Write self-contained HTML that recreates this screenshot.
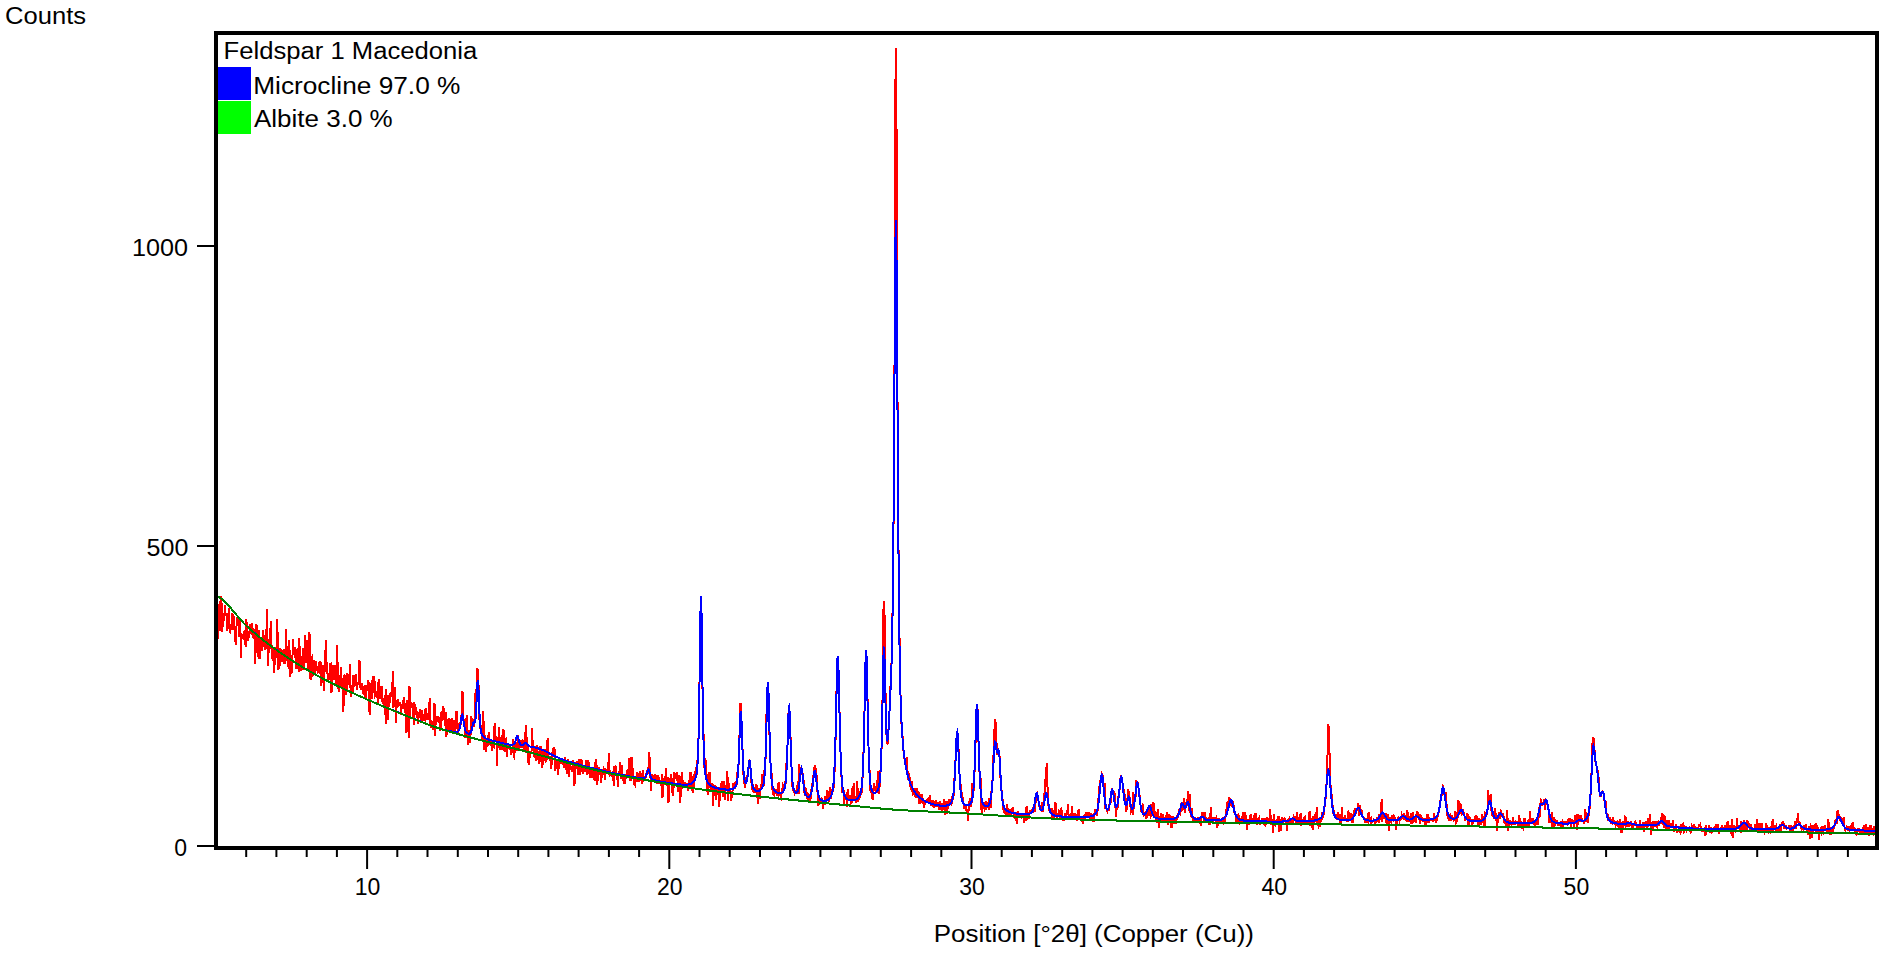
<!DOCTYPE html>
<html><head><meta charset="utf-8"><style>
html,body{margin:0;padding:0;background:#fff;width:1888px;height:960px;overflow:hidden}
svg{display:block}
text{font-family:"Liberation Sans",sans-serif;font-size:23px;fill:#000}
</style></head><body>
<svg width="1888" height="960" viewBox="0 0 1888 960">
<defs><clipPath id="cp"><rect x="218.0" y="35.0" width="1657.0" height="811.0"/></clipPath></defs>
<rect width="1888" height="960" fill="#fff"/>
<g clip-path="url(#cp)" fill="none" stroke-linejoin="miter" shape-rendering="crispEdges">
<polyline stroke="#ff0000" stroke-width="2" points="216.0,623.3 216.6,617.6 217.2,624.8 217.8,639.2 218.4,619.8 219.0,624.7 219.6,600.6 220.2,631.2 220.8,628.5 221.4,596.1 222.0,631.6 222.5,612.9 223.1,627.2 223.7,618.5 224.3,619.1 224.9,605.0 225.5,614.8 226.1,614.8 226.7,612.8 227.3,631.3 227.9,623.9 228.5,626.7 229.1,608.4 229.7,631.2 230.3,632.1 230.9,626.6 231.5,625.7 232.1,613.1 232.7,630.0 233.3,614.2 233.9,618.7 234.5,626.1 235.1,633.1 235.6,644.5 236.2,633.0 236.8,619.9 237.4,617.4 238.0,621.0 238.6,617.5 239.2,636.7 239.8,618.9 240.4,627.1 241.0,657.8 241.6,636.1 242.2,635.3 242.8,634.7 243.4,637.1 244.0,635.5 244.6,630.3 245.2,642.9 245.8,647.3 246.4,619.2 247.0,632.6 247.6,641.2 248.1,634.0 248.7,638.3 249.3,634.9 249.9,623.9 250.5,632.3 251.1,633.0 251.7,626.8 252.3,623.3 252.9,637.7 253.5,628.7 254.1,635.3 254.7,634.1 255.3,663.9 255.9,633.3 256.5,624.4 257.1,633.6 257.7,656.9 258.3,647.0 258.9,630.3 259.5,659.1 260.1,647.1 260.7,636.6 261.2,649.4 261.8,643.1 262.4,651.2 263.0,629.6 263.6,639.6 264.2,635.5 264.8,642.0 265.4,649.9 266.0,646.4 266.6,625.7 267.2,609.4 267.8,666.4 268.4,653.9 269.0,648.5 269.6,648.4 270.2,636.1 270.8,620.7 271.4,641.3 272.0,659.0 272.6,648.5 273.2,661.3 273.7,656.8 274.3,673.3 274.9,649.7 275.5,647.2 276.1,657.5 276.7,655.6 277.3,619.3 277.9,656.9 278.5,669.8 279.1,659.5 279.7,665.6 280.3,647.8 280.9,651.9 281.5,656.1 282.1,661.7 282.7,649.6 283.3,658.2 283.9,648.6 284.5,664.3 285.1,656.1 285.7,651.9 286.2,629.0 286.8,661.3 287.4,651.3 288.0,655.8 288.6,668.8 289.2,639.9 289.8,660.2 290.4,676.7 291.0,663.1 291.6,664.9 292.2,673.1 292.8,639.1 293.4,648.3 294.0,653.4 294.6,655.4 295.2,646.9 295.8,669.1 296.4,656.5 297.0,659.7 297.6,647.8 298.2,666.4 298.8,672.1 299.3,638.4 299.9,659.8 300.5,671.2 301.1,656.4 301.7,658.6 302.3,664.9 302.9,669.7 303.5,648.0 304.1,669.5 304.7,657.2 305.3,634.7 305.9,662.4 306.5,662.4 307.1,639.8 307.7,669.6 308.3,667.4 308.9,651.9 309.5,631.9 310.1,676.3 310.7,680.4 311.3,658.5 311.8,657.5 312.4,665.1 313.0,674.7 313.6,673.8 314.2,659.8 314.8,674.5 315.4,671.0 316.0,660.8 316.6,666.9 317.2,669.5 317.8,672.1 318.4,671.5 319.0,672.1 319.6,660.7 320.2,667.4 320.8,661.8 321.4,686.2 322.0,671.7 322.6,673.7 323.2,664.7 323.8,691.1 324.4,665.3 324.9,672.0 325.5,650.2 326.1,640.3 326.7,671.1 327.3,668.8 327.9,681.5 328.5,679.7 329.1,678.4 329.7,673.3 330.3,664.0 330.9,663.7 331.5,693.4 332.1,665.3 332.7,674.5 333.3,669.5 333.9,680.1 334.5,665.1 335.1,673.7 335.7,678.5 336.3,685.7 336.9,645.2 337.4,660.8 338.0,668.3 338.6,692.3 339.2,678.5 339.8,675.1 340.4,687.7 341.0,666.8 341.6,680.4 342.2,684.3 342.8,690.6 343.4,712.0 344.0,677.6 344.6,674.6 345.2,682.2 345.8,690.2 346.4,694.7 347.0,673.0 347.6,684.7 348.2,682.2 348.8,676.2 349.4,676.3 350.0,664.3 350.5,688.3 351.1,696.8 351.7,693.2 352.3,685.4 352.9,691.7 353.5,674.8 354.1,687.2 354.7,685.6 355.3,676.8 355.9,674.0 356.5,685.1 357.1,689.9 357.7,682.5 358.3,685.3 358.9,680.6 359.5,660.3 360.1,682.3 360.7,689.8 361.3,685.1 361.9,683.6 362.5,688.5 363.0,694.4 363.6,686.4 364.2,694.7 364.8,685.0 365.4,698.4 366.0,696.9 366.6,684.7 367.2,690.0 367.8,689.3 368.4,680.0 369.0,691.6 369.6,715.4 370.2,689.5 370.8,684.7 371.4,683.5 372.0,699.3 372.6,676.3 373.2,693.4 373.8,678.4 374.4,677.6 375.0,695.6 375.5,694.7 376.1,691.2 376.7,694.8 377.3,693.2 377.9,704.6 378.5,682.6 379.1,678.7 379.7,699.1 380.3,692.8 380.9,697.3 381.5,686.2 382.1,698.4 382.7,703.1 383.3,703.4 383.9,699.6 384.5,697.8 385.1,695.5 385.7,724.0 386.3,689.2 386.9,709.6 387.5,694.7 388.1,719.7 388.6,702.8 389.2,706.9 389.8,698.8 390.4,693.8 391.0,693.1 391.6,694.8 392.2,694.0 392.8,670.7 393.4,707.7 394.0,702.1 394.6,697.2 395.2,686.7 395.8,723.3 396.4,701.4 397.0,707.7 397.6,698.9 398.2,705.1 398.8,703.8 399.4,706.1 400.0,701.9 400.6,704.2 401.1,714.5 401.7,705.2 402.3,705.4 402.9,700.6 403.5,708.6 404.1,697.1 404.7,705.3 405.3,712.5 405.9,705.2 406.5,733.2 407.1,700.1 407.7,703.9 408.3,705.0 408.9,737.5 409.5,685.9 410.1,716.5 410.7,703.0 411.3,704.0 411.9,707.8 412.5,705.7 413.1,703.2 413.7,724.5 414.2,702.1 414.8,706.7 415.4,707.2 416.0,709.3 416.6,715.3 417.2,711.1 417.8,724.2 418.4,713.1 419.0,717.6 419.6,710.7 420.2,710.2 420.8,715.7 421.4,723.1 422.0,710.4 422.6,717.2 423.2,719.1 423.8,719.5 424.4,714.3 425.0,718.1 425.6,708.0 426.2,718.7 426.7,717.9 427.3,713.2 427.9,719.5 428.5,716.0 429.1,709.5 429.7,698.5 430.3,723.7 430.9,725.6 431.5,722.8 432.1,720.7 432.7,730.3 433.3,724.8 433.9,714.0 434.5,703.4 435.1,735.5 435.7,721.0 436.3,718.2 436.9,719.7 437.5,715.7 438.1,718.5 438.7,718.3 439.3,722.2 439.8,722.1 440.4,730.7 441.0,720.1 441.6,711.3 442.2,719.6 442.8,718.8 443.4,706.2 444.0,717.6 444.6,720.0 445.2,726.2 445.8,712.0 446.4,736.7 447.0,727.4 447.6,731.4 448.2,719.4 448.8,729.9 449.4,717.7 450.0,724.8 450.6,730.0 451.2,720.7 451.8,730.2 452.3,717.7 452.9,727.8 453.5,730.6 454.1,719.9 454.7,723.7 455.3,730.9 455.9,719.4 456.5,710.8 457.1,724.0 457.7,731.4 458.3,731.8 458.9,725.3 459.5,726.3 460.1,723.4 460.7,723.7 461.3,716.9 461.9,710.9 462.5,691.4 463.1,716.4 463.7,719.7 464.3,724.1 464.8,723.7 465.4,738.2 466.0,734.9 466.6,714.7 467.2,729.7 467.8,744.8 468.4,729.9 469.0,733.6 469.6,735.2 470.2,743.2 470.8,727.7 471.4,716.4 472.0,725.9 472.6,720.1 473.2,727.2 473.8,725.5 474.4,719.7 475.0,714.8 475.6,689.5 476.2,708.0 476.8,689.4 477.4,668.5 477.8,670.0 478.5,684.3 479.1,705.6 479.7,726.3 480.3,727.8 480.9,727.3 481.5,725.1 482.1,739.3 482.7,739.2 483.3,711.4 483.9,738.5 484.5,750.2 485.1,735.4 485.7,752.4 486.3,738.4 486.9,746.2 487.5,746.3 488.1,742.1 488.7,732.2 489.3,741.2 489.9,738.8 490.4,744.2 491.0,746.1 491.6,739.8 492.2,751.0 492.8,745.8 493.4,745.1 494.0,746.1 494.6,722.9 495.2,740.3 495.8,740.8 496.4,736.2 497.0,765.6 497.6,739.5 498.2,746.9 498.8,727.2 499.4,747.0 500.0,749.0 500.6,749.1 501.2,739.7 501.8,735.2 502.4,747.7 503.0,750.1 503.5,729.2 504.1,751.3 504.7,749.5 505.3,739.7 505.9,739.1 506.5,752.1 507.1,757.1 507.7,744.0 508.3,747.9 508.9,747.5 509.5,747.1 510.1,750.2 510.7,746.9 511.3,754.8 511.9,748.6 512.5,752.1 513.1,739.2 513.7,757.1 514.3,757.8 514.9,745.8 515.5,745.5 516.0,745.6 516.6,745.9 517.2,750.4 517.8,735.1 518.4,750.8 519.0,746.9 519.6,746.3 520.2,744.3 520.8,747.6 521.4,740.3 522.0,748.4 522.6,740.2 523.2,740.9 523.8,746.7 524.4,750.1 525.0,731.6 525.6,753.4 526.2,724.8 526.8,748.3 527.4,749.3 528.0,748.8 528.6,765.4 529.1,761.1 529.7,755.9 530.3,753.7 530.9,753.0 531.5,751.3 532.1,728.5 532.7,745.4 533.3,743.6 533.9,756.7 534.5,753.5 535.1,750.7 535.7,761.0 536.3,747.4 536.9,745.2 537.5,750.4 538.1,760.3 538.7,753.7 539.3,764.2 539.9,758.1 540.5,746.4 541.1,752.5 541.6,753.2 542.2,767.8 542.8,761.4 543.4,750.9 544.0,760.8 544.6,749.3 545.2,756.0 545.8,761.7 546.4,761.4 547.0,751.9 547.6,737.8 548.2,757.6 548.8,758.3 549.4,755.7 550.0,760.4 550.6,760.5 551.2,769.0 551.8,761.8 552.4,752.2 553.0,753.6 553.6,746.8 554.1,755.8 554.7,748.9 555.3,770.6 555.9,765.9 556.5,761.0 557.1,765.7 557.7,765.2 558.3,774.9 558.9,758.9 559.5,760.2 560.1,760.6 560.7,763.8 561.3,761.6 561.9,763.5 562.5,764.0 563.1,759.9 563.7,767.6 564.3,764.0 564.9,757.0 565.5,763.4 566.1,760.8 566.7,774.0 567.2,759.7 567.8,763.1 568.4,758.7 569.0,776.9 569.6,767.2 570.2,764.2 570.8,767.8 571.4,769.1 572.0,771.7 572.6,765.7 573.2,760.5 573.8,777.2 574.4,786.4 575.0,771.7 575.6,762.9 576.2,762.3 576.8,763.1 577.4,768.0 578.0,774.6 578.6,758.6 579.2,769.8 579.7,773.4 580.3,775.1 580.9,767.2 581.5,759.4 582.1,767.9 582.7,774.2 583.3,772.0 583.9,765.3 584.5,768.4 585.1,771.4 585.7,762.7 586.3,760.2 586.9,772.8 587.5,774.7 588.1,760.1 588.7,763.3 589.3,763.9 589.9,772.0 590.5,778.3 591.1,767.1 591.7,769.1 592.3,769.6 592.8,770.3 593.4,777.6 594.0,772.0 594.6,781.0 595.2,764.2 595.8,764.8 596.4,759.5 597.0,785.4 597.6,767.5 598.2,780.8 598.8,766.6 599.4,774.4 600.0,772.4 600.6,772.7 601.2,783.2 601.8,773.2 602.4,774.7 603.0,774.2 603.6,768.0 604.2,769.1 604.8,779.5 605.3,773.1 605.9,770.2 606.5,770.9 607.1,772.2 607.7,773.0 608.3,767.1 608.9,753.1 609.5,769.6 610.1,774.2 610.7,772.8 611.3,773.1 611.9,775.1 612.5,774.1 613.1,770.7 613.7,785.8 614.3,766.8 614.9,766.5 615.5,775.6 616.1,766.5 616.7,779.7 617.3,776.8 617.9,786.8 618.4,774.9 619.0,772.0 619.6,772.1 620.2,762.4 620.8,775.9 621.4,778.6 622.0,764.9 622.6,780.6 623.2,776.5 623.8,777.7 624.4,784.1 625.0,780.7 625.6,775.8 626.2,776.8 626.8,771.2 627.4,770.1 628.0,769.9 628.6,778.2 629.2,758.5 629.8,781.0 630.4,768.0 630.9,780.7 631.5,756.6 632.1,770.6 632.7,770.0 633.3,774.6 633.9,778.3 634.5,784.2 635.1,785.1 635.7,777.2 636.3,781.8 636.9,777.5 637.5,772.4 638.1,780.0 638.7,779.6 639.3,782.1 639.9,771.1 640.5,772.5 641.1,780.1 641.7,781.2 642.3,784.1 642.9,770.5 643.4,781.6 644.0,776.0 644.6,778.1 645.2,781.3 645.8,774.9 646.4,773.6 647.0,772.8 647.6,769.8 648.2,771.3 648.8,769.5 649.4,751.8 650.0,777.8 650.6,774.3 651.2,790.7 651.8,773.9 652.4,776.0 653.0,782.2 653.6,776.6 654.2,775.5 654.8,774.0 655.4,781.5 656.0,775.4 656.5,781.9 657.1,781.7 657.7,784.1 658.3,775.4 658.9,780.9 659.5,779.8 660.1,782.9 660.7,784.3 661.3,782.9 661.9,773.8 662.5,797.5 663.1,785.2 663.7,779.5 664.3,778.4 664.9,782.5 665.5,784.5 666.1,768.3 666.7,785.6 667.3,778.3 667.9,777.1 668.5,802.7 669.0,786.0 669.6,779.3 670.2,782.9 670.8,774.1 671.4,778.5 672.0,779.4 672.6,795.6 673.2,783.1 673.8,784.2 674.4,772.0 675.0,778.0 675.6,777.9 676.2,775.3 676.8,774.0 677.4,777.9 678.0,791.9 678.6,774.8 679.2,785.6 679.8,785.0 680.4,802.5 681.0,775.9 681.6,788.8 682.1,772.5 682.7,783.1 683.3,785.2 683.9,788.0 684.5,782.5 685.1,784.8 685.7,788.2 686.3,785.5 686.9,784.4 687.5,786.5 688.1,790.6 688.7,784.5 689.3,779.7 689.9,788.8 690.5,772.1 691.1,782.5 691.7,776.4 692.3,789.5 692.9,792.9 693.5,787.6 694.1,781.8 694.6,772.6 695.2,774.1 695.8,767.3 696.4,774.7 697.0,774.1 697.6,757.8 698.2,748.3 698.8,729.3 699.4,690.6 700.0,648.0 700.6,604.7 701.2,599.0 701.8,631.9 702.4,682.4 703.0,717.6 703.6,736.4 704.2,761.1 704.8,773.3 705.4,757.9 706.0,767.9 706.6,774.9 707.2,787.1 707.7,795.1 708.3,773.7 708.9,783.6 709.5,772.2 710.1,785.8 710.7,789.3 711.3,788.2 711.9,790.5 712.5,783.4 713.1,806.0 713.7,788.5 714.3,795.8 714.9,787.8 715.5,785.3 716.1,799.9 716.7,792.4 717.3,792.0 717.9,789.5 718.5,787.0 719.1,807.4 719.7,798.3 720.2,787.2 720.8,791.8 721.4,783.4 722.0,781.6 722.6,787.8 723.2,796.6 723.8,787.4 724.4,781.3 725.0,799.7 725.6,787.1 726.2,790.3 726.8,787.3 727.4,770.9 728.0,800.7 728.6,792.0 729.2,783.3 729.8,793.6 730.4,791.1 731.0,800.8 731.6,792.9 732.2,798.1 732.7,786.5 733.3,783.6 733.9,787.2 734.5,789.0 735.1,782.9 735.7,782.1 736.3,782.7 736.9,783.2 737.5,771.7 738.1,773.6 738.7,760.6 739.3,744.3 739.9,719.5 740.5,703.2 741.1,711.8 741.7,724.7 742.3,743.9 742.9,758.9 743.5,775.1 744.1,773.0 744.7,788.4 745.3,779.7 745.8,780.1 746.4,777.3 747.0,779.0 747.6,776.1 748.2,770.5 748.8,764.7 749.4,762.4 750.0,764.3 750.6,769.9 751.2,776.1 751.8,789.6 752.4,783.1 753.0,787.8 753.6,793.0 754.2,787.3 754.8,789.7 755.4,792.9 756.0,784.0 756.6,785.8 757.2,793.8 757.8,801.5 758.3,803.4 758.9,791.9 759.5,788.0 760.1,798.5 760.7,786.8 761.3,787.0 761.9,778.3 762.5,774.4 763.1,780.2 763.7,785.5 764.3,771.2 764.9,769.8 765.5,759.8 766.1,732.4 766.7,705.8 767.3,692.9 767.9,682.6 768.5,692.3 769.1,718.4 769.7,741.9 770.3,758.9 770.9,770.0 771.4,772.1 772.0,778.5 772.6,792.0 773.2,794.2 773.8,794.9 774.4,789.4 775.0,789.5 775.6,791.1 776.2,792.6 776.8,789.6 777.4,794.7 778.0,794.0 778.6,781.7 779.2,794.9 779.8,794.2 780.4,796.0 781.0,797.4 781.6,793.0 782.2,792.6 782.8,784.6 783.4,785.5 783.9,787.1 784.5,787.9 785.1,780.7 785.7,783.6 786.3,764.4 786.9,760.7 787.5,745.6 788.1,731.7 788.7,705.4 789.3,707.8 789.9,719.7 790.5,736.2 791.1,754.1 791.7,772.5 792.3,787.3 792.9,785.5 793.5,791.1 794.1,791.9 794.7,793.8 795.3,793.0 795.9,790.7 796.5,793.9 797.0,791.2 797.6,783.8 798.2,785.1 798.8,794.1 799.4,763.6 800.0,780.2 800.6,772.8 801.2,774.4 801.8,768.9 802.4,770.9 803.0,779.9 803.6,780.5 804.2,789.7 804.8,795.7 805.4,786.7 806.0,793.5 806.6,791.8 807.2,798.0 807.8,799.9 808.4,793.5 809.0,796.9 809.5,803.2 810.1,795.4 810.7,798.5 811.3,793.2 811.9,783.3 812.5,787.6 813.1,778.0 813.7,774.1 814.3,768.2 814.9,765.3 815.5,767.6 816.1,777.5 816.7,777.0 817.3,792.1 817.9,790.1 818.5,805.7 819.1,799.8 819.7,801.2 820.3,800.3 820.9,801.0 821.5,798.4 822.1,799.1 822.6,800.8 823.2,808.5 823.8,801.1 824.4,800.7 825.0,798.1 825.6,800.1 826.2,804.4 826.8,794.4 827.4,790.3 828.0,793.4 828.6,801.4 829.2,800.1 829.8,786.9 830.4,796.2 831.0,798.5 831.6,788.8 832.2,795.2 832.8,786.7 833.4,791.5 834.0,775.8 834.6,771.3 835.1,749.7 835.7,736.4 836.3,699.4 836.9,675.3 837.5,658.2 838.1,659.3 838.7,678.6 839.3,703.4 839.9,727.9 840.5,751.6 841.1,771.9 841.7,779.1 842.3,792.6 842.9,789.9 843.5,790.3 844.1,804.1 844.7,798.7 845.3,793.8 845.9,797.6 846.5,796.8 847.1,807.3 847.6,788.7 848.2,800.7 848.8,794.8 849.4,798.4 850.0,798.0 850.6,795.3 851.2,803.0 851.8,802.4 852.4,787.8 853.0,798.7 853.6,783.4 854.2,791.3 854.8,799.8 855.4,800.0 856.0,803.0 856.6,800.6 857.2,781.5 857.8,793.3 858.4,802.3 859.0,792.6 859.6,797.6 860.2,792.2 860.7,790.1 861.3,794.6 861.9,789.1 862.5,778.7 863.1,761.7 863.7,748.2 864.3,721.9 864.9,692.6 865.5,663.1 866.1,650.9 866.7,664.3 867.3,684.8 867.9,724.5 868.5,746.3 869.1,765.3 869.7,771.4 870.3,790.1 870.9,793.3 871.5,789.7 872.1,795.1 872.7,800.3 873.2,793.1 873.8,783.5 874.4,788.1 875.0,791.3 875.6,788.8 876.2,786.5 876.8,792.9 877.4,782.1 878.0,770.6 878.6,792.4 879.2,794.0 879.8,780.3 880.4,771.9 881.0,763.0 881.6,746.1 882.2,721.7 882.8,681.0 883.4,611.9 883.9,600.7 884.6,617.4 885.2,675.1 885.8,710.1 886.3,731.1 886.9,743.4 887.5,743.8 888.1,736.1 888.7,725.5 889.3,715.0 889.9,702.7 890.5,686.0 891.1,673.3 891.7,658.7 892.3,625.3 892.9,588.6 893.5,527.6 894.1,442.1 894.7,332.7 895.3,101.7 895.8,48.1 896.5,123.2 897.1,328.7 897.7,434.2 898.3,519.8 898.8,592.6 899.4,628.7 900.0,676.8 900.6,698.0 901.2,717.3 901.8,730.4 902.4,734.3 903.0,744.3 903.6,751.5 904.2,755.2 904.8,761.7 905.4,760.6 906.0,763.6 906.6,757.5 907.2,769.5 907.8,780.4 908.4,771.4 909.0,778.0 909.6,777.9 910.2,783.7 910.8,789.9 911.4,785.0 911.9,781.0 912.5,791.6 913.1,794.4 913.7,794.0 914.3,792.7 914.9,788.1 915.5,796.7 916.1,796.2 916.7,797.9 917.3,788.4 917.9,795.0 918.5,792.3 919.1,801.9 919.7,804.3 920.3,794.9 920.9,799.6 921.5,793.9 922.1,803.1 922.7,798.3 923.3,802.4 923.9,807.8 924.4,804.7 925.0,803.0 925.6,802.7 926.2,801.7 926.8,799.8 927.4,799.6 928.0,801.3 928.6,802.2 929.2,799.0 929.8,794.7 930.4,803.7 931.0,806.2 931.6,803.4 932.2,800.9 932.8,801.0 933.4,806.4 934.0,806.8 934.6,805.6 935.2,803.6 935.8,799.7 936.4,807.3 936.9,802.5 937.5,804.6 938.1,802.0 938.7,809.9 939.3,804.8 939.9,801.5 940.5,803.8 941.1,807.4 941.7,811.1 942.3,802.8 942.9,810.0 943.5,808.4 944.1,799.3 944.7,805.1 945.3,814.9 945.9,808.4 946.5,801.5 947.1,813.9 947.7,806.1 948.3,801.4 948.9,804.7 949.5,798.9 950.0,804.2 950.6,804.0 951.2,804.4 951.8,802.5 952.4,796.9 953.0,797.8 953.6,795.4 954.2,783.9 954.8,773.0 955.4,763.1 956.0,747.8 956.6,738.3 957.2,732.3 957.8,738.9 958.4,745.7 959.0,764.5 959.6,775.6 960.2,776.6 960.8,790.6 961.4,790.4 962.0,798.9 962.5,801.2 963.1,800.0 963.7,805.9 964.3,809.3 964.9,805.7 965.5,807.9 966.1,805.9 966.7,811.2 967.3,808.7 967.9,821.1 968.5,810.7 969.1,808.6 969.7,798.1 970.3,801.2 970.9,807.0 971.5,803.5 972.1,782.9 972.7,793.1 973.3,795.2 973.9,784.1 974.5,772.5 975.1,754.3 975.6,740.3 976.2,716.0 976.8,709.6 977.4,705.3 978.0,723.5 978.6,745.5 979.2,764.3 979.8,779.7 980.4,773.9 981.0,796.0 981.6,812.9 982.2,801.3 982.8,805.6 983.4,808.2 984.0,802.6 984.6,809.6 985.2,808.7 985.8,809.0 986.4,800.9 987.0,805.1 987.6,807.2 988.1,803.2 988.7,809.8 989.3,798.1 989.9,803.1 990.5,807.8 991.1,803.2 991.7,785.1 992.3,783.4 992.9,772.8 993.5,755.4 994.1,739.4 994.7,724.1 995.0,718.7 995.9,724.4 996.5,743.1 997.1,755.2 997.7,750.7 998.3,752.8 998.9,752.1 999.5,755.4 1000.1,773.2 1000.7,779.5 1001.2,784.3 1001.8,795.8 1002.4,798.9 1003.0,801.4 1003.6,811.7 1004.2,811.0 1004.8,812.9 1005.4,813.1 1006.0,814.7 1006.6,809.4 1007.2,804.3 1007.8,816.5 1008.4,808.2 1009.0,813.0 1009.6,813.3 1010.2,814.9 1010.8,814.4 1011.4,810.0 1012.0,809.7 1012.6,807.4 1013.2,810.8 1013.7,813.7 1014.3,817.6 1014.9,817.9 1015.5,815.3 1016.1,816.4 1016.7,823.5 1017.3,812.8 1017.9,810.9 1018.5,818.0 1019.1,814.4 1019.7,817.5 1020.3,813.3 1020.9,817.2 1021.5,817.9 1022.1,816.9 1022.7,816.9 1023.3,815.5 1023.9,823.0 1024.5,816.2 1025.1,815.1 1025.7,820.9 1026.2,808.5 1026.8,806.1 1027.4,820.1 1028.0,816.4 1028.6,818.9 1029.2,814.4 1029.8,810.3 1030.4,813.4 1031.0,813.4 1031.6,810.2 1032.2,809.9 1032.8,813.0 1033.4,807.3 1034.0,803.7 1034.6,811.7 1035.2,798.2 1035.8,802.5 1036.4,795.0 1037.0,793.9 1037.6,798.9 1038.2,799.0 1038.8,803.7 1039.3,806.5 1039.9,807.6 1040.5,805.5 1041.1,809.9 1041.7,811.6 1042.3,801.9 1042.9,812.2 1043.5,805.0 1044.1,793.0 1044.7,800.8 1045.3,786.5 1045.9,766.8 1046.3,774.0 1047.1,763.3 1047.7,797.9 1048.3,802.9 1048.9,810.6 1049.5,808.6 1050.1,809.9 1050.7,811.8 1051.3,813.0 1051.8,807.8 1052.4,817.5 1053.0,814.7 1053.6,809.9 1054.2,817.9 1054.8,809.7 1055.4,802.1 1056.0,805.1 1056.6,817.0 1057.2,817.7 1057.8,814.4 1058.4,815.1 1059.0,811.2 1059.6,812.1 1060.2,820.0 1060.8,809.8 1061.4,808.9 1062.0,816.6 1062.6,820.8 1063.2,816.1 1063.8,818.7 1064.4,818.1 1064.9,820.4 1065.5,813.2 1066.1,817.8 1066.7,810.6 1067.3,814.5 1067.9,804.5 1068.5,814.6 1069.1,816.8 1069.7,818.7 1070.3,818.5 1070.9,815.7 1071.5,813.1 1072.1,806.5 1072.7,816.7 1073.3,819.5 1073.9,816.5 1074.5,817.8 1075.1,814.2 1075.7,814.4 1076.3,817.5 1076.9,815.2 1077.4,820.7 1078.0,816.5 1078.6,809.1 1079.2,817.9 1079.8,818.8 1080.4,818.3 1081.0,819.5 1081.6,816.6 1082.2,820.4 1082.8,823.9 1083.4,816.3 1084.0,815.7 1084.6,815.5 1085.2,820.4 1085.8,811.9 1086.4,817.4 1087.0,811.7 1087.6,817.5 1088.2,816.0 1088.8,816.6 1089.4,812.3 1090.0,818.5 1090.5,817.9 1091.1,817.9 1091.7,821.3 1092.3,815.5 1092.9,816.5 1093.5,821.4 1094.1,819.9 1094.7,809.5 1095.3,812.2 1095.9,810.6 1096.5,813.2 1097.1,816.1 1097.7,808.8 1098.3,804.8 1098.9,785.9 1099.5,791.2 1100.1,790.0 1100.7,775.6 1101.3,779.3 1101.9,774.1 1102.5,775.2 1103.0,783.0 1103.6,786.7 1104.2,792.1 1104.8,783.2 1105.4,808.6 1106.0,804.4 1106.6,810.3 1107.2,811.3 1107.8,809.3 1108.4,808.1 1109.0,811.1 1109.6,802.5 1110.2,803.6 1110.8,802.3 1111.4,795.4 1112.0,788.4 1112.6,790.9 1113.2,793.7 1113.8,796.5 1114.4,791.1 1115.0,802.2 1115.5,808.0 1116.1,816.9 1116.7,804.0 1117.3,810.2 1117.9,803.4 1118.5,796.6 1119.1,789.6 1119.7,789.4 1120.3,780.3 1120.9,775.0 1121.5,777.6 1122.1,780.7 1122.7,784.0 1123.3,785.1 1123.9,797.3 1124.5,794.1 1125.1,794.6 1125.7,802.1 1126.3,812.1 1126.9,805.6 1127.5,797.9 1128.1,788.9 1128.6,795.6 1129.2,791.5 1129.8,802.0 1130.4,805.1 1131.0,812.2 1131.6,811.3 1132.2,807.9 1132.8,815.4 1133.4,792.1 1134.0,808.8 1134.6,794.5 1135.2,798.9 1135.8,795.4 1136.4,780.3 1137.0,784.0 1137.6,782.9 1138.2,785.9 1138.8,790.6 1139.4,792.9 1140.0,802.9 1140.6,805.7 1141.1,810.3 1141.7,812.4 1142.3,806.0 1142.9,803.7 1143.5,814.1 1144.1,816.3 1144.7,812.6 1145.3,812.4 1145.9,819.1 1146.5,817.6 1147.1,812.3 1147.7,808.4 1148.3,808.8 1148.9,809.8 1149.5,815.6 1150.1,806.9 1150.7,803.9 1151.3,815.3 1151.9,814.1 1152.5,811.0 1153.1,802.2 1153.7,818.4 1154.2,803.5 1154.8,817.2 1155.4,814.5 1156.0,812.0 1156.6,822.8 1157.2,817.8 1157.8,808.9 1158.4,819.2 1159.0,827.5 1159.6,820.9 1160.2,818.4 1160.8,813.6 1161.4,817.1 1162.0,819.3 1162.6,823.4 1163.2,814.4 1163.8,819.3 1164.4,823.0 1165.0,818.0 1165.6,821.3 1166.2,818.0 1166.7,813.4 1167.3,813.1 1167.9,824.5 1168.5,816.7 1169.1,814.2 1169.7,822.9 1170.3,815.4 1170.9,817.8 1171.5,827.8 1172.1,818.0 1172.7,816.3 1173.3,823.8 1173.9,819.1 1174.5,824.3 1175.1,817.4 1175.7,824.1 1176.3,819.7 1176.9,818.7 1177.5,815.1 1178.1,817.4 1178.7,811.9 1179.3,808.7 1179.8,813.3 1180.4,814.2 1181.0,803.7 1181.6,803.4 1182.2,810.8 1182.8,804.6 1183.4,803.9 1184.0,798.0 1184.6,812.7 1185.2,807.5 1185.8,806.7 1186.4,802.3 1187.0,799.6 1187.6,805.5 1188.2,791.2 1188.8,810.5 1189.4,802.5 1190.0,793.8 1190.6,816.6 1191.2,810.9 1191.8,808.1 1192.3,817.2 1192.9,817.8 1193.5,822.2 1194.1,818.8 1194.7,818.6 1195.3,822.5 1195.9,820.2 1196.5,819.9 1197.1,820.8 1197.7,816.7 1198.3,819.7 1198.9,819.3 1199.5,821.8 1200.1,820.8 1200.7,825.5 1201.3,816.8 1201.9,814.4 1202.5,812.4 1203.1,815.2 1203.7,818.2 1204.3,821.9 1204.8,812.3 1205.4,816.6 1206.0,821.1 1206.6,821.5 1207.2,819.4 1207.8,820.9 1208.4,819.6 1209.0,821.6 1209.6,825.3 1210.2,819.9 1210.8,807.5 1211.4,818.2 1212.0,820.2 1212.6,819.2 1213.2,823.0 1213.8,817.0 1214.4,819.6 1215.0,817.3 1215.6,820.6 1216.2,818.9 1216.8,822.2 1217.4,828.1 1217.9,821.2 1218.5,818.4 1219.1,820.5 1219.7,819.8 1220.3,819.8 1220.9,821.8 1221.5,822.3 1222.1,822.6 1222.7,820.4 1223.3,822.3 1223.9,820.1 1224.5,818.4 1225.1,819.3 1225.7,814.9 1226.3,808.9 1226.9,812.0 1227.5,801.6 1228.1,809.2 1228.7,797.5 1229.3,803.3 1229.9,799.4 1230.4,799.1 1231.0,800.0 1231.6,806.5 1232.2,800.3 1232.8,802.8 1233.4,807.0 1234.0,804.9 1234.6,814.1 1235.2,811.2 1235.8,815.7 1236.4,822.7 1237.0,816.5 1237.6,815.5 1238.2,814.7 1238.8,816.0 1239.4,823.1 1240.0,822.1 1240.6,817.8 1241.2,820.1 1241.8,816.5 1242.4,823.7 1243.0,813.2 1243.5,813.0 1244.1,821.1 1244.7,816.0 1245.3,811.8 1245.9,820.3 1246.5,822.8 1247.1,829.5 1247.7,823.5 1248.3,819.1 1248.9,824.8 1249.5,819.3 1250.1,815.5 1250.7,815.4 1251.3,822.3 1251.9,822.4 1252.5,823.0 1253.1,819.1 1253.7,818.5 1254.3,815.4 1254.9,820.7 1255.5,813.1 1256.0,819.9 1256.6,825.1 1257.2,822.3 1257.8,821.0 1258.4,818.8 1259.0,817.9 1259.6,825.2 1260.2,822.4 1260.8,821.7 1261.4,822.2 1262.0,820.9 1262.6,817.8 1263.2,823.2 1263.8,821.4 1264.4,824.1 1265.0,822.9 1265.6,817.7 1266.2,824.0 1266.8,823.0 1267.4,817.3 1268.0,824.2 1268.6,821.5 1269.1,819.7 1269.7,820.9 1270.3,809.2 1270.9,824.9 1271.5,818.6 1272.1,823.5 1272.7,820.9 1273.3,833.1 1273.9,814.4 1274.5,824.0 1275.1,824.7 1275.7,821.6 1276.3,822.1 1276.9,820.4 1277.5,819.4 1278.1,817.7 1278.7,816.2 1279.3,832.2 1279.9,822.0 1280.5,823.1 1281.1,831.1 1281.6,816.9 1282.2,821.3 1282.8,823.7 1283.4,820.7 1284.0,819.6 1284.6,818.6 1285.2,820.8 1285.8,822.8 1286.4,822.1 1287.0,830.5 1287.6,818.7 1288.2,823.7 1288.8,819.0 1289.4,818.2 1290.0,819.6 1290.6,823.0 1291.2,822.6 1291.8,819.8 1292.4,823.8 1293.0,819.4 1293.6,817.0 1294.1,818.4 1294.7,817.8 1295.3,816.4 1295.9,823.9 1296.5,819.9 1297.1,812.4 1297.7,819.4 1298.3,823.5 1298.9,823.0 1299.5,818.8 1300.1,817.8 1300.7,812.7 1301.3,825.7 1301.9,819.0 1302.5,820.4 1303.1,821.3 1303.7,825.2 1304.3,817.9 1304.9,817.3 1305.5,822.6 1306.1,820.6 1306.7,823.5 1307.2,821.6 1307.8,822.6 1308.4,821.7 1309.0,817.8 1309.6,810.8 1310.2,825.8 1310.8,822.6 1311.4,819.0 1312.0,818.7 1312.6,829.9 1313.2,815.7 1313.8,820.6 1314.4,823.2 1315.0,819.1 1315.6,813.5 1316.2,816.6 1316.8,807.4 1317.4,823.8 1318.0,825.1 1318.6,819.0 1319.2,822.8 1319.7,826.5 1320.3,816.9 1320.9,821.1 1321.5,820.2 1322.1,813.9 1322.7,812.0 1323.3,817.4 1323.9,811.5 1324.5,806.9 1325.1,803.2 1325.7,796.8 1326.3,787.9 1326.9,777.3 1327.5,756.2 1328.1,726.7 1328.4,723.6 1329.3,739.1 1329.9,778.4 1330.5,784.4 1331.1,793.8 1331.7,794.2 1332.3,801.4 1332.8,811.2 1333.4,813.3 1334.0,812.4 1334.6,815.4 1335.2,817.4 1335.8,814.6 1336.4,818.2 1337.0,815.6 1337.6,820.2 1338.2,811.9 1338.8,819.4 1339.4,817.1 1340.0,819.4 1340.6,823.9 1341.2,820.5 1341.8,807.4 1342.4,820.2 1343.0,819.8 1343.6,817.3 1344.2,820.3 1344.8,814.9 1345.3,820.5 1345.9,818.8 1346.5,820.2 1347.1,819.2 1347.7,821.6 1348.3,810.6 1348.9,815.3 1349.5,819.8 1350.1,820.1 1350.7,815.4 1351.3,813.0 1351.9,820.6 1352.5,822.8 1353.1,818.0 1353.7,812.4 1354.3,813.5 1354.9,812.5 1355.5,808.6 1356.1,811.8 1356.7,810.2 1357.3,810.1 1357.9,803.3 1358.4,807.5 1359.0,815.9 1359.6,812.8 1360.2,805.4 1360.8,812.7 1361.4,813.0 1362.0,812.4 1362.6,816.5 1363.2,816.9 1363.8,818.0 1364.4,818.2 1365.0,820.5 1365.6,818.5 1366.2,822.6 1366.8,820.0 1367.4,822.2 1368.0,822.6 1368.6,811.6 1369.2,817.8 1369.8,818.7 1370.4,820.1 1370.9,818.9 1371.5,823.4 1372.1,819.8 1372.7,821.5 1373.3,821.0 1373.9,819.5 1374.5,820.0 1375.1,824.2 1375.7,819.2 1376.3,823.1 1376.9,816.8 1377.5,818.6 1378.1,818.2 1378.7,823.2 1379.3,813.7 1379.9,820.2 1380.5,813.9 1381.1,810.7 1381.7,798.8 1382.3,821.7 1382.9,815.4 1383.4,815.6 1384.0,815.7 1384.6,814.4 1385.2,813.0 1385.8,823.4 1386.4,813.1 1387.0,823.9 1387.6,816.2 1388.2,814.1 1388.8,831.1 1389.4,821.8 1390.0,817.4 1390.6,821.8 1391.2,822.3 1391.8,818.6 1392.4,815.4 1393.0,818.9 1393.6,820.0 1394.2,816.4 1394.8,817.7 1395.4,819.2 1396.0,829.5 1396.5,823.9 1397.1,821.7 1397.7,818.7 1398.3,817.6 1398.9,818.8 1399.5,821.3 1400.1,819.8 1400.7,819.4 1401.3,819.4 1401.9,814.8 1402.5,816.2 1403.1,817.3 1403.7,819.4 1404.3,813.3 1404.9,817.7 1405.5,820.2 1406.1,817.0 1406.7,822.3 1407.3,810.4 1407.9,814.6 1408.5,818.8 1409.0,821.0 1409.6,821.0 1410.2,820.0 1410.8,813.0 1411.4,824.4 1412.0,820.4 1412.6,822.5 1413.2,812.2 1413.8,819.5 1414.4,817.6 1415.0,816.7 1415.6,822.4 1416.2,818.8 1416.8,815.6 1417.4,811.2 1418.0,818.0 1418.6,813.9 1419.2,816.1 1419.8,823.7 1420.4,813.6 1421.0,820.3 1421.6,819.5 1422.1,816.7 1422.7,820.8 1423.3,820.6 1423.9,821.0 1424.5,818.1 1425.1,824.7 1425.7,824.2 1426.3,819.3 1426.9,822.7 1427.5,813.6 1428.1,820.0 1428.7,817.2 1429.3,823.0 1429.9,818.8 1430.5,819.3 1431.1,820.1 1431.7,819.5 1432.3,819.1 1432.9,819.5 1433.5,821.5 1434.1,812.9 1434.6,818.3 1435.2,818.9 1435.8,822.5 1436.4,817.1 1437.0,820.5 1437.6,816.3 1438.2,813.5 1438.8,812.7 1439.4,807.6 1440.0,805.6 1440.6,799.5 1441.2,799.3 1441.8,793.7 1442.4,789.7 1443.0,786.8 1443.6,788.4 1444.2,793.4 1444.8,796.4 1445.4,799.1 1446.0,792.5 1446.6,806.0 1447.2,814.0 1447.7,813.6 1448.3,817.4 1448.9,820.8 1449.5,815.9 1450.1,815.1 1450.7,820.4 1451.3,817.3 1451.9,816.1 1452.5,816.8 1453.1,819.2 1453.7,820.6 1454.3,819.9 1454.9,817.3 1455.5,811.5 1456.1,822.1 1456.7,820.9 1457.3,814.8 1457.9,815.7 1458.5,800.5 1459.1,814.3 1459.7,813.6 1460.2,805.4 1460.8,803.7 1461.4,812.1 1462.0,814.4 1462.6,813.7 1463.2,811.7 1463.8,813.5 1464.4,815.1 1465.0,821.3 1465.6,817.0 1466.2,818.6 1466.8,813.4 1467.4,818.0 1468.0,814.5 1468.6,826.9 1469.2,817.1 1469.8,817.4 1470.4,819.4 1471.0,819.5 1471.6,820.4 1472.2,825.0 1472.8,822.8 1473.3,819.5 1473.9,821.7 1474.5,821.2 1475.1,818.1 1475.7,818.9 1476.3,814.7 1476.9,819.0 1477.5,820.1 1478.1,827.3 1478.7,823.2 1479.3,818.6 1479.9,823.4 1480.5,819.5 1481.1,824.6 1481.7,816.4 1482.3,813.9 1482.9,820.2 1483.5,819.3 1484.1,825.3 1484.7,828.1 1485.3,813.5 1485.8,814.0 1486.4,816.2 1487.0,811.5 1487.6,809.5 1488.2,790.5 1488.8,799.7 1489.4,796.0 1489.8,797.2 1490.6,794.5 1491.2,806.1 1491.8,816.0 1492.4,813.0 1493.0,810.9 1493.6,817.9 1494.2,817.7 1494.8,807.8 1495.4,811.9 1496.0,817.5 1496.6,821.1 1497.2,830.5 1497.8,816.1 1498.3,820.7 1498.9,812.3 1499.5,814.6 1500.1,819.2 1500.7,810.7 1501.3,811.4 1501.9,817.3 1502.5,812.9 1503.1,817.8 1503.7,815.7 1504.3,822.8 1504.9,819.9 1505.5,823.8 1506.1,826.7 1506.7,822.5 1507.3,810.0 1507.9,830.5 1508.5,823.9 1509.1,825.8 1509.7,824.5 1510.3,820.4 1510.9,822.7 1511.4,823.8 1512.0,822.7 1512.6,824.5 1513.2,817.3 1513.8,825.0 1514.4,821.5 1515.0,824.9 1515.6,821.5 1516.2,821.6 1516.8,821.5 1517.4,822.1 1518.0,824.3 1518.6,827.3 1519.2,814.8 1519.8,820.3 1520.4,826.4 1521.0,821.6 1521.6,827.4 1522.2,826.8 1522.8,825.3 1523.4,828.5 1523.9,827.1 1524.5,818.1 1525.1,825.3 1525.7,822.7 1526.3,827.3 1526.9,822.0 1527.5,826.3 1528.1,819.9 1528.7,825.5 1529.3,823.1 1529.9,811.1 1530.5,820.4 1531.1,819.9 1531.7,823.2 1532.3,819.2 1532.9,819.2 1533.5,822.6 1534.1,821.1 1534.7,821.5 1535.3,827.5 1535.9,820.3 1536.5,824.5 1537.0,820.6 1537.6,824.8 1538.2,822.1 1538.8,813.8 1539.4,807.0 1540.0,817.0 1540.6,800.7 1541.2,798.7 1541.8,804.6 1542.4,804.7 1543.0,803.4 1543.6,801.5 1544.2,799.3 1544.8,810.3 1545.4,805.8 1546.0,801.9 1546.6,803.3 1547.2,804.0 1547.8,805.0 1548.4,808.4 1549.0,819.5 1549.5,822.8 1550.1,814.6 1550.7,815.3 1551.3,816.3 1551.9,811.9 1552.5,826.9 1553.1,821.0 1553.7,817.0 1554.3,826.8 1554.9,823.9 1555.5,819.6 1556.1,823.8 1556.7,821.2 1557.3,821.5 1557.9,825.7 1558.5,822.2 1559.1,825.3 1559.7,825.2 1560.3,822.4 1560.9,826.9 1561.5,821.4 1562.1,823.2 1562.6,828.8 1563.2,822.6 1563.8,823.9 1564.4,822.2 1565.0,821.7 1565.6,822.0 1566.2,825.3 1566.8,821.8 1567.4,824.4 1568.0,823.5 1568.6,818.5 1569.2,820.8 1569.8,822.0 1570.4,820.8 1571.0,828.1 1571.6,818.8 1572.2,822.3 1572.8,820.0 1573.4,822.9 1574.0,827.0 1574.6,823.7 1575.1,815.5 1575.7,821.1 1576.3,819.5 1576.9,829.9 1577.5,813.6 1578.1,825.4 1578.7,820.5 1579.3,821.0 1579.9,818.3 1580.5,815.4 1581.1,821.5 1581.7,818.0 1582.3,820.6 1582.9,820.9 1583.5,820.9 1584.1,823.9 1584.7,821.5 1585.3,808.8 1585.9,818.1 1586.5,820.1 1587.1,822.1 1587.6,817.6 1588.2,823.1 1588.8,810.2 1589.4,810.6 1590.0,802.3 1590.6,793.5 1591.2,782.0 1591.8,765.6 1592.4,744.3 1593.2,738.4 1593.6,738.5 1594.2,744.5 1594.8,754.5 1595.4,761.5 1596.0,762.8 1596.6,766.6 1597.2,769.2 1597.8,771.6 1598.4,775.5 1599.0,786.0 1599.6,792.8 1600.2,795.8 1600.7,795.8 1601.3,794.2 1601.9,792.5 1602.5,791.7 1603.1,792.4 1603.7,795.1 1604.3,799.6 1604.9,803.5 1605.5,801.1 1606.1,811.5 1606.7,814.5 1607.3,814.5 1607.9,815.2 1608.5,820.4 1609.1,818.3 1609.7,822.0 1610.3,816.9 1610.9,824.1 1611.5,820.6 1612.1,821.7 1612.7,817.3 1613.2,821.7 1613.8,821.0 1614.4,823.4 1615.0,820.7 1615.6,825.5 1616.2,824.5 1616.8,824.9 1617.4,821.5 1618.0,821.7 1618.6,824.5 1619.2,828.3 1619.8,818.6 1620.4,829.3 1621.0,831.1 1621.6,833.1 1622.2,821.6 1622.8,824.9 1623.4,826.0 1624.0,823.2 1624.6,824.1 1625.2,817.0 1625.8,817.6 1626.3,824.8 1626.9,823.7 1627.5,820.9 1628.1,827.3 1628.7,823.1 1629.3,824.1 1629.9,825.5 1630.5,824.7 1631.1,820.9 1631.7,828.1 1632.3,823.5 1632.9,828.1 1633.5,824.9 1634.1,824.4 1634.7,823.0 1635.3,825.6 1635.9,823.1 1636.5,824.7 1637.1,826.6 1637.7,826.5 1638.3,827.8 1638.8,826.4 1639.4,829.9 1640.0,819.7 1640.6,827.2 1641.2,824.7 1641.8,827.6 1642.4,824.5 1643.0,822.0 1643.6,831.6 1644.2,822.6 1644.8,826.2 1645.4,824.5 1646.0,822.8 1646.6,820.7 1647.2,828.1 1647.8,824.9 1648.4,818.3 1649.0,824.7 1649.6,824.4 1650.2,814.3 1650.8,835.2 1651.4,822.4 1651.9,830.3 1652.5,828.9 1653.1,821.0 1653.7,822.8 1654.3,824.7 1654.9,823.1 1655.5,825.7 1656.1,826.1 1656.7,826.7 1657.3,821.0 1657.9,826.0 1658.5,821.6 1659.1,822.0 1659.7,823.5 1660.3,822.0 1660.9,823.9 1661.5,817.4 1662.1,812.7 1662.7,820.0 1663.3,822.4 1663.9,828.4 1664.4,815.9 1665.0,816.5 1665.6,826.8 1666.2,825.9 1666.8,820.2 1667.4,829.6 1668.0,828.5 1668.6,821.7 1669.2,821.2 1669.8,827.7 1670.4,827.4 1671.0,825.5 1671.6,823.0 1672.2,826.6 1672.8,820.3 1673.4,824.3 1674.0,831.7 1674.6,827.7 1675.2,827.4 1675.8,824.4 1676.4,828.0 1676.9,832.1 1677.5,832.1 1678.1,830.7 1678.7,830.9 1679.3,826.4 1679.9,831.9 1680.5,833.0 1681.1,826.3 1681.7,827.1 1682.3,824.8 1682.9,825.8 1683.5,824.6 1684.1,831.4 1684.7,830.4 1685.3,829.3 1685.9,826.3 1686.5,829.8 1687.1,828.2 1687.7,829.1 1688.3,828.4 1688.9,829.7 1689.5,828.4 1690.0,830.7 1690.6,832.1 1691.2,828.4 1691.8,826.0 1692.4,827.2 1693.0,827.1 1693.6,829.7 1694.2,824.1 1694.8,828.0 1695.4,828.7 1696.0,827.8 1696.6,828.5 1697.2,831.3 1697.8,827.8 1698.4,827.1 1699.0,825.7 1699.6,825.9 1700.2,824.9 1700.8,827.4 1701.4,827.6 1702.0,831.4 1702.5,828.9 1703.1,831.7 1703.7,828.8 1704.3,828.2 1704.9,828.0 1705.5,835.7 1706.1,824.8 1706.7,829.4 1707.3,829.5 1707.9,830.4 1708.5,829.4 1709.1,825.5 1709.7,830.4 1710.3,832.6 1710.9,827.2 1711.5,832.9 1712.1,832.3 1712.7,829.4 1713.3,829.9 1713.9,828.6 1714.5,830.7 1715.1,827.6 1715.6,825.9 1716.2,824.2 1716.8,829.5 1717.4,827.8 1718.0,824.0 1718.6,832.4 1719.2,832.8 1719.8,829.6 1720.4,828.9 1721.0,832.1 1721.6,827.7 1722.2,825.0 1722.8,828.0 1723.4,827.8 1724.0,829.0 1724.6,829.2 1725.2,824.9 1725.8,829.5 1726.4,831.8 1727.0,826.1 1727.6,820.9 1728.1,831.2 1728.7,828.9 1729.3,828.5 1729.9,826.1 1730.5,826.5 1731.1,827.9 1731.7,836.0 1732.3,818.6 1732.9,838.4 1733.5,830.5 1734.1,824.8 1734.7,830.2 1735.3,826.4 1735.9,829.9 1736.5,828.6 1737.1,817.7 1737.7,828.2 1738.3,828.1 1738.9,827.1 1739.5,826.6 1740.1,827.7 1740.7,833.1 1741.2,821.3 1741.8,827.7 1742.4,822.6 1743.0,825.3 1743.6,831.4 1744.2,820.4 1744.8,823.9 1745.4,827.0 1746.0,827.6 1746.6,830.3 1747.2,819.9 1747.8,823.0 1748.4,826.6 1749.0,823.6 1749.6,826.7 1750.2,830.1 1750.8,824.4 1751.4,831.0 1752.0,830.3 1752.6,829.2 1753.2,831.2 1753.7,830.6 1754.3,830.4 1754.9,823.7 1755.5,828.6 1756.1,830.9 1756.7,827.0 1757.3,818.9 1757.9,830.5 1758.5,827.8 1759.1,823.5 1759.7,827.8 1760.3,830.1 1760.9,828.3 1761.5,823.0 1762.1,831.4 1762.7,829.6 1763.3,829.7 1763.9,830.9 1764.5,832.2 1765.1,830.8 1765.7,832.7 1766.2,822.9 1766.8,826.8 1767.4,830.8 1768.0,831.7 1768.6,827.5 1769.2,829.8 1769.8,831.4 1770.4,832.1 1771.0,828.9 1771.6,829.9 1772.2,824.5 1772.8,818.8 1773.4,829.9 1774.0,829.6 1774.6,825.3 1775.2,827.0 1775.8,826.1 1776.4,831.6 1777.0,829.0 1777.6,828.9 1778.2,829.3 1778.8,826.3 1779.3,829.8 1779.9,824.0 1780.5,831.1 1781.1,825.1 1781.7,824.1 1782.3,822.8 1782.9,822.0 1783.5,823.5 1784.1,828.0 1784.7,827.8 1785.3,827.4 1785.9,824.9 1786.5,828.9 1787.1,828.4 1787.7,828.5 1788.3,827.3 1788.9,826.4 1789.5,828.8 1790.1,826.6 1790.7,831.2 1791.3,825.5 1791.8,831.3 1792.4,826.3 1793.0,829.8 1793.6,828.1 1794.2,827.0 1794.8,823.1 1795.4,821.1 1796.0,828.6 1796.6,822.0 1797.2,823.3 1797.8,813.1 1798.4,821.3 1799.0,823.1 1799.6,826.3 1800.2,822.4 1800.8,827.3 1801.4,829.0 1802.0,826.4 1802.6,830.3 1803.2,827.9 1803.8,825.6 1804.4,828.9 1804.9,826.9 1805.5,825.0 1806.1,825.0 1806.7,830.7 1807.3,830.9 1807.9,832.6 1808.5,830.7 1809.1,826.4 1809.7,838.7 1810.3,831.1 1810.9,826.0 1811.5,827.0 1812.1,838.1 1812.7,829.1 1813.3,825.5 1813.9,830.3 1814.5,830.3 1815.1,827.9 1815.7,822.7 1816.3,832.4 1816.9,825.9 1817.4,832.8 1818.0,828.5 1818.6,830.0 1819.2,839.7 1819.8,829.1 1820.4,832.4 1821.0,830.5 1821.6,826.6 1822.2,832.4 1822.8,831.2 1823.4,832.3 1824.0,825.7 1824.6,827.8 1825.2,826.9 1825.8,828.6 1826.4,828.6 1827.0,830.3 1827.6,832.0 1828.2,819.4 1828.8,823.8 1829.4,830.1 1830.0,826.9 1830.5,834.8 1831.1,831.6 1831.7,831.6 1832.3,827.1 1832.9,833.5 1833.5,829.0 1834.1,826.8 1834.7,824.7 1835.3,821.1 1835.9,819.2 1836.5,824.3 1837.1,813.2 1837.7,810.5 1838.3,810.5 1838.9,818.8 1839.5,816.2 1840.1,820.8 1840.7,816.8 1841.3,821.0 1841.9,822.4 1842.5,821.0 1843.0,825.9 1843.6,817.5 1844.2,824.2 1844.8,829.9 1845.4,830.5 1846.0,828.1 1846.6,826.9 1847.2,828.8 1847.8,827.6 1848.4,830.5 1849.0,825.8 1849.6,830.5 1850.2,830.4 1850.8,827.9 1851.4,829.2 1852.0,828.3 1852.6,822.2 1853.2,827.3 1853.8,829.8 1854.4,826.9 1855.0,831.4 1855.5,833.3 1856.1,833.6 1856.7,835.3 1857.3,830.5 1857.9,829.5 1858.5,832.2 1859.1,828.5 1859.7,831.1 1860.3,832.1 1860.9,831.6 1861.5,832.0 1862.1,830.6 1862.7,835.1 1863.3,828.5 1863.9,824.8 1864.5,831.5 1865.1,832.2 1865.7,832.0 1866.3,824.2 1866.9,833.6 1867.5,827.6 1868.1,829.2 1868.6,836.2 1869.2,830.6 1869.8,824.9 1870.4,829.4 1871.0,825.5 1871.6,834.9 1872.2,828.0 1872.8,832.0 1873.4,833.4 1874.0,828.7 1874.6,825.9 1875.2,831.3 1875.8,826.6 1876.4,830.8 1877.0,830.6 1877.6,828.8"/>
<polyline stroke="#0000ff" stroke-width="2" points="216.0,595.7 216.5,596.0 217.0,596.2 217.5,596.4 218.0,596.7 218.5,596.9 219.0,597.2 219.5,597.5 220.0,597.9 220.5,598.2 221.0,598.6 221.5,598.9 222.0,599.3 222.5,599.7 223.0,600.2 223.5,600.6 224.0,601.0 224.5,601.5 225.0,602.0 225.5,602.4 226.0,602.9 226.5,603.4 227.0,604.0 227.5,604.5 228.0,605.0 228.5,605.6 229.0,606.1 229.5,606.7 230.0,607.2 230.5,607.8 231.0,608.4 231.5,609.0 232.0,609.5 232.5,610.1 233.0,610.7 233.5,611.3 234.0,611.9 234.5,612.5 235.0,613.1 235.5,613.7 236.0,614.3 236.5,614.9 237.0,615.5 237.5,616.1 238.0,616.7 238.5,617.3 239.0,617.9 239.5,618.5 240.0,619.1 240.5,619.6 241.0,620.2 241.5,620.8 242.0,621.3 242.5,621.9 243.0,622.4 243.5,623.0 244.0,623.5 244.5,624.0 245.0,624.5 245.5,625.0 246.0,625.5 246.5,626.0 247.0,626.4 247.5,626.9 248.0,627.3 248.5,627.8 249.0,628.2 249.5,628.6 250.0,629.1 250.5,629.5 251.0,629.9 251.5,630.4 252.0,630.8 252.5,631.2 253.0,631.7 253.5,632.1 254.0,632.5 254.5,632.9 255.0,633.4 255.5,633.8 256.0,634.2 256.5,634.6 257.0,635.0 257.5,635.4 258.0,635.8 258.5,636.2 259.0,636.7 259.5,637.1 260.0,637.5 260.5,637.9 261.0,638.3 261.5,638.7 262.0,639.1 262.5,639.5 263.0,639.9 263.5,640.2 264.0,640.6 264.5,641.0 265.0,641.4 265.5,641.8 266.0,642.2 266.5,642.6 267.0,643.0 267.5,643.3 268.0,643.7 268.5,644.1 269.0,644.5 269.5,644.8 270.0,645.2 270.5,645.6 271.0,646.0 271.5,646.3 272.0,646.7 272.5,647.1 273.0,647.4 273.5,647.8 274.0,648.2 274.5,648.5 275.0,648.9 275.5,649.3 276.0,649.6 276.5,650.0 277.0,650.3 277.5,650.7 278.0,651.0 278.5,651.4 279.0,651.7 279.5,652.1 280.0,652.4 280.5,652.8 281.0,653.1 281.5,653.5 282.0,653.8 282.5,654.2 283.0,654.5 283.5,654.9 284.0,655.2 284.5,655.5 285.0,655.9 285.5,656.2 286.0,656.6 286.5,656.9 287.0,657.2 287.5,657.6 288.0,657.9 288.5,658.2 289.0,658.5 289.5,658.9 290.0,659.2 290.5,659.5 291.0,659.9 291.5,660.2 292.0,660.5 292.5,660.8 293.0,661.1 293.5,661.5 294.0,661.8 294.5,662.1 295.0,662.4 295.5,662.7 296.0,663.0 296.5,663.4 297.0,663.7 297.5,664.0 298.0,664.3 298.5,664.6 299.0,664.9 299.5,665.2 300.0,665.5 300.5,665.8 301.0,666.1 301.5,666.4 302.0,666.7 302.5,667.1 303.0,667.4 303.5,667.7 304.0,668.0 304.5,668.2 305.0,668.5 305.5,668.8 306.0,669.1 306.5,669.4 307.0,669.7 307.5,670.0 308.0,670.3 308.5,670.6 309.0,670.9 309.5,671.2 310.0,671.5 310.5,671.8 311.0,672.0 311.5,672.3 312.0,672.6 312.5,672.9 313.0,673.2 313.5,673.5 314.0,673.7 314.5,674.0 315.0,674.3 315.5,674.6 316.0,674.8 316.5,675.1 317.0,675.4 317.5,675.7 318.0,675.9 318.5,676.2 319.0,676.5 319.5,676.8 320.0,677.0 320.5,677.3 321.0,677.6 321.5,677.8 322.0,678.1 322.5,678.4 323.0,678.6 323.5,678.9 324.0,679.2 324.5,679.4 325.0,679.7 325.5,679.9 326.0,680.2 326.5,680.5 327.0,680.7 327.5,681.0 328.0,681.2 328.5,681.5 329.0,681.7 329.5,682.0 330.0,682.2 330.5,682.5 331.0,682.7 331.5,683.0 332.0,683.2 332.5,683.5 333.0,683.7 333.5,684.0 334.0,684.2 334.5,684.5 335.0,684.7 335.5,685.0 336.0,685.2 336.5,685.4 337.0,685.7 337.5,685.9 338.0,686.2 338.5,686.4 339.0,686.6 339.5,686.9 340.0,687.1 340.5,687.4 341.0,687.6 341.5,687.8 342.0,688.1 342.5,688.3 343.0,688.5 343.5,688.8 344.0,689.0 344.5,689.2 345.0,689.5 345.5,689.7 346.0,689.9 346.5,690.1 347.0,690.4 347.5,690.6 348.0,690.8 348.5,691.1 349.0,691.3 349.5,691.5 350.0,691.8 350.5,692.0 351.0,692.2 351.5,692.4 352.0,692.7 352.5,692.9 353.0,693.1 353.5,693.3 354.0,693.6 354.5,693.8 355.0,694.0 355.5,694.2 356.0,694.5 356.5,694.7 357.0,694.9 357.5,695.1 358.0,695.4 358.5,695.6 359.0,695.8 359.5,696.0 360.0,696.3 360.5,696.5 361.0,696.7 361.5,696.9 362.0,697.2 362.5,697.4 363.0,697.6 363.5,697.8 364.0,698.0 364.5,698.3 365.0,698.5 365.5,698.7 366.0,698.9 366.5,699.1 367.0,699.4 367.5,699.6 368.0,699.8 368.5,700.0 369.0,700.2 369.5,700.5 370.0,700.7 370.5,700.9 371.0,701.1 371.5,701.3 372.0,701.5 372.5,701.8 373.0,702.0 373.5,702.2 374.0,702.4 374.5,702.6 375.0,702.8 375.5,703.0 376.0,703.2 376.5,703.5 377.0,703.7 377.5,703.9 378.0,704.1 378.5,704.3 379.0,704.5 379.5,704.7 380.0,704.9 380.5,705.1 381.0,705.4 381.5,705.6 382.0,705.8 382.5,706.0 383.0,706.2 383.5,706.4 384.0,706.6 384.5,706.8 385.0,707.0 385.5,707.2 386.0,707.4 386.5,707.6 387.0,707.9 387.5,708.1 388.0,708.3 388.5,708.5 389.0,708.7 389.5,708.9 390.0,709.1 390.5,709.3 391.0,709.5 391.5,709.7 392.0,709.9 392.5,710.1 393.0,710.3 393.5,710.5 394.0,710.7 394.5,710.9 395.0,711.1 395.5,711.3 396.0,711.5 396.5,711.7 397.0,711.9 397.5,712.1 398.0,712.3 398.5,712.6 399.0,712.8 399.5,713.0 400.0,713.2 400.5,713.4 401.0,713.6 401.5,713.8 402.0,714.0 402.5,714.2 403.0,714.4 403.5,714.6 404.0,714.8 404.5,715.0 405.0,715.2 405.5,715.4 406.0,715.6 406.5,715.8 407.0,716.0 407.5,716.2 408.0,716.4 408.5,716.7 409.0,716.9 409.5,717.1 410.0,717.3 410.5,717.5 411.0,717.7 411.5,717.9 412.0,718.1 412.5,718.3 413.0,718.5 413.5,718.7 414.0,718.9 414.5,719.1 415.0,719.3 415.5,719.5 416.0,719.7 416.5,719.9 417.0,720.1 417.5,720.3 418.0,720.5 418.5,720.7 419.0,720.9 419.5,721.1 420.0,721.3 420.5,721.5 421.0,721.7 421.5,721.9 422.0,722.1 422.5,722.3 423.0,722.5 423.5,722.7 424.0,722.9 424.5,723.1 425.0,723.3 425.5,723.5 426.0,723.6 426.5,723.8 427.0,724.0 427.5,724.2 428.0,724.4 428.5,724.6 429.0,724.8 429.5,724.9 430.0,725.1 430.5,725.3 431.0,725.5 431.5,725.7 432.0,725.8 432.5,726.0 433.0,726.2 433.5,726.4 434.0,726.5 434.5,726.7 435.0,726.9 435.5,727.1 436.0,727.2 436.5,727.4 437.0,727.6 437.5,727.7 438.0,727.9 438.5,728.0 439.0,728.2 439.5,728.4 440.0,728.5 440.5,728.7 441.0,728.8 441.5,729.0 442.0,729.1 442.5,729.3 443.0,729.4 443.5,729.6 444.0,729.7 444.5,729.8 445.0,730.0 445.5,730.1 446.0,730.2 446.5,730.4 447.0,730.5 447.5,730.6 448.0,730.7 448.5,730.9 449.0,731.0 449.5,731.1 450.0,731.2 450.5,731.3 451.0,731.4 451.5,731.5 452.0,731.6 452.5,731.7 453.0,731.8 453.5,731.8 454.0,731.9 454.5,732.0 455.0,732.0 455.5,732.0 456.0,732.0 456.5,732.0 457.0,731.9 457.5,731.8 458.0,731.5 458.5,731.0 459.0,730.2 459.5,728.9 460.0,727.0 460.5,724.3 461.0,720.9 461.5,717.4 462.0,714.8 462.3,714.4 462.5,714.7 463.0,717.0 463.5,720.6 464.0,724.2 464.5,727.2 465.0,729.5 465.5,731.1 466.0,732.1 466.5,732.7 467.0,733.2 467.5,733.4 468.0,733.6 468.5,733.7 469.0,733.7 469.5,733.6 470.0,733.4 470.5,732.9 471.0,732.1 471.5,730.7 472.0,728.7 472.5,726.2 473.0,723.6 473.5,722.0 474.0,722.0 474.5,722.6 475.0,722.0 475.5,719.0 476.0,712.6 476.5,702.8 477.0,691.1 477.5,681.8 477.8,680.0 478.0,681.0 478.5,689.7 479.0,702.1 479.5,713.5 480.0,722.0 480.5,727.7 481.0,731.2 481.5,733.3 482.0,734.6 482.5,735.5 483.0,736.2 483.5,736.8 484.0,737.2 484.5,737.6 485.0,737.9 485.5,738.2 486.0,738.4 486.5,738.7 487.0,738.9 487.5,739.1 488.0,739.3 488.5,739.5 489.0,739.6 489.5,739.8 490.0,739.9 490.5,740.1 491.0,740.2 491.5,740.4 492.0,740.5 492.5,740.6 493.0,740.8 493.5,740.9 494.0,741.0 494.5,741.2 495.0,741.3 495.5,741.4 496.0,741.6 496.5,741.7 497.0,741.8 497.5,741.9 498.0,742.1 498.5,742.2 499.0,742.3 499.5,742.4 500.0,742.5 500.5,742.7 501.0,742.8 501.5,742.9 502.0,743.0 502.5,743.1 503.0,743.3 503.5,743.4 504.0,743.5 504.5,743.6 505.0,743.7 505.5,743.8 506.0,743.9 506.5,744.0 507.0,744.1 507.5,744.2 508.0,744.3 508.5,744.4 509.0,744.5 509.5,744.5 510.0,744.6 510.5,744.6 511.0,744.7 511.5,744.7 512.0,744.7 512.5,744.7 513.0,744.6 513.5,744.4 514.0,744.0 514.5,743.3 515.0,742.4 515.5,741.0 516.0,739.3 516.5,737.5 517.0,736.2 517.3,736.0 517.5,736.1 518.0,737.3 518.5,739.1 519.0,741.0 519.5,742.5 520.0,743.7 520.5,744.4 521.0,744.9 521.5,745.2 522.0,745.3 522.5,745.2 523.0,745.1 523.5,744.8 524.0,744.3 524.5,743.8 525.0,743.3 525.5,742.9 525.9,742.8 526.0,742.8 526.5,743.1 527.0,743.7 527.5,744.4 528.0,745.0 528.5,745.5 529.0,745.9 529.5,746.2 530.0,746.4 530.5,746.6 531.0,746.7 531.5,746.8 532.0,746.9 532.5,747.0 533.0,747.1 533.5,747.2 534.0,747.3 534.5,747.4 535.0,747.5 535.5,747.6 536.0,747.8 536.5,747.9 537.0,748.0 537.5,748.2 538.0,748.3 538.5,748.5 539.0,748.6 539.5,748.8 540.0,749.0 540.5,749.2 541.0,749.4 541.5,749.6 542.0,749.8 542.5,750.0 543.0,750.2 543.5,750.4 544.0,750.6 544.5,750.9 545.0,751.1 545.5,751.4 546.0,751.6 546.5,751.9 547.0,752.1 547.5,752.4 548.0,752.6 548.5,752.9 549.0,753.1 549.5,753.4 550.0,753.7 550.5,753.9 551.0,754.2 551.5,754.5 552.0,754.7 552.5,755.0 553.0,755.2 553.5,755.5 554.0,755.7 554.5,756.0 555.0,756.2 555.5,756.5 556.0,756.7 556.5,756.9 557.0,757.2 557.5,757.4 558.0,757.6 558.5,757.9 559.0,758.1 559.5,758.3 560.0,758.5 560.5,758.7 561.0,758.9 561.5,759.1 562.0,759.3 562.5,759.5 563.0,759.7 563.5,759.9 564.0,760.1 564.5,760.2 565.0,760.4 565.5,760.6 566.0,760.8 566.5,760.9 567.0,761.1 567.5,761.3 568.0,761.4 568.5,761.6 569.0,761.8 569.5,761.9 570.0,762.1 570.5,762.2 571.0,762.4 571.5,762.5 572.0,762.7 572.5,762.8 573.0,763.0 573.5,763.1 574.0,763.3 574.5,763.4 575.0,763.6 575.5,763.7 576.0,763.8 576.5,764.0 577.0,764.1 577.5,764.3 578.0,764.4 578.5,764.5 579.0,764.7 579.5,764.8 580.0,765.0 580.5,765.1 581.0,765.2 581.5,765.4 582.0,765.5 582.5,765.6 583.0,765.8 583.5,765.9 584.0,766.0 584.5,766.2 585.0,766.3 585.5,766.4 586.0,766.6 586.5,766.7 587.0,766.8 587.5,767.0 588.0,767.1 588.5,767.2 589.0,767.4 589.5,767.5 590.0,767.6 590.5,767.7 591.0,767.9 591.5,768.0 592.0,768.1 592.5,768.3 593.0,768.4 593.5,768.5 594.0,768.6 594.5,768.8 595.0,768.9 595.5,769.0 596.0,769.1 596.5,769.3 597.0,769.4 597.5,769.5 598.0,769.6 598.5,769.8 599.0,769.9 599.5,770.0 600.0,770.1 600.5,770.3 601.0,770.4 601.5,770.5 602.0,770.6 602.5,770.7 603.0,770.9 603.5,771.0 604.0,771.1 604.5,771.2 605.0,771.3 605.5,771.4 606.0,771.6 606.5,771.7 607.0,771.8 607.5,771.9 608.0,772.0 608.5,772.1 609.0,772.2 609.5,772.3 610.0,772.5 610.5,772.6 611.0,772.7 611.5,772.8 612.0,772.9 612.5,773.0 613.0,773.1 613.5,773.2 614.0,773.3 614.5,773.4 615.0,773.5 615.5,773.6 616.0,773.7 616.5,773.9 617.0,774.0 617.5,774.1 618.0,774.2 618.5,774.3 619.0,774.4 619.5,774.5 620.0,774.6 620.5,774.7 621.0,774.8 621.5,774.9 622.0,775.0 622.5,775.1 623.0,775.1 623.5,775.2 624.0,775.3 624.5,775.4 625.0,775.5 625.5,775.6 626.0,775.7 626.5,775.8 627.0,775.9 627.5,776.0 628.0,776.1 628.5,776.2 629.0,776.3 629.5,776.4 630.0,776.5 630.5,776.5 631.0,776.6 631.5,776.7 632.0,776.8 632.5,776.9 633.0,777.0 633.5,777.1 634.0,777.1 634.5,777.2 635.0,777.3 635.5,777.4 636.0,777.5 636.5,777.5 637.0,777.6 637.5,777.7 638.0,777.8 638.5,777.8 639.0,777.9 639.5,778.0 640.0,778.0 640.5,778.1 641.0,778.1 641.5,778.2 642.0,778.2 642.5,778.2 643.0,778.2 643.5,778.2 644.0,778.1 644.5,777.9 645.0,777.6 645.5,777.0 646.0,776.0 646.5,774.7 647.0,773.1 647.5,771.2 648.0,769.8 648.4,769.4 648.5,769.4 649.0,770.5 649.5,772.3 650.0,774.3 650.5,776.0 651.0,777.3 651.5,778.3 652.0,778.9 652.5,779.4 653.0,779.7 653.5,779.9 654.0,780.1 654.5,780.3 655.0,780.4 655.5,780.5 656.0,780.7 656.5,780.8 657.0,780.9 657.5,781.0 658.0,781.1 658.5,781.2 659.0,781.3 659.5,781.4 660.0,781.5 660.5,781.6 661.0,781.7 661.5,781.7 662.0,781.8 662.5,781.9 663.0,782.0 663.5,782.1 664.0,782.2 664.5,782.3 665.0,782.3 665.5,782.4 666.0,782.5 666.5,782.6 667.0,782.7 667.5,782.7 668.0,782.8 668.5,782.9 669.0,783.0 669.5,783.1 670.0,783.1 670.5,783.2 671.0,783.3 671.5,783.4 672.0,783.4 672.5,783.5 673.0,783.6 673.5,783.6 674.0,783.7 674.5,783.8 675.0,783.8 675.5,783.9 676.0,784.0 676.5,784.0 677.0,784.1 677.5,784.2 678.0,784.2 678.5,784.3 679.0,784.3 679.5,784.4 680.0,784.4 680.5,784.4 681.0,784.5 681.5,784.5 682.0,784.6 682.5,784.6 683.0,784.6 683.5,784.6 684.0,784.6 684.5,784.7 685.0,784.7 685.5,784.7 686.0,784.6 686.5,784.6 687.0,784.6 687.5,784.5 688.0,784.5 688.5,784.4 689.0,784.3 689.5,784.2 690.0,784.1 690.5,783.9 691.0,783.7 691.5,783.4 692.0,783.1 692.5,782.8 693.0,782.4 693.5,781.8 694.0,781.2 694.5,780.4 695.0,779.4 695.5,778.1 696.0,776.4 696.5,774.0 697.0,770.4 697.5,764.6 698.0,755.2 698.5,739.9 699.0,716.6 699.5,684.6 700.0,646.4 700.5,611.2 701.0,596.0 701.5,611.3 702.0,646.6 702.5,684.9 703.0,717.1 703.5,740.4 704.0,755.8 704.5,765.4 705.0,771.3 705.5,775.0 706.0,777.5 706.5,779.3 707.0,780.7 707.5,781.8 708.0,782.7 708.5,783.5 709.0,784.1 709.5,784.7 710.0,785.1 710.5,785.5 711.0,785.9 711.5,786.2 712.0,786.5 712.5,786.7 713.0,787.0 713.5,787.2 714.0,787.4 714.5,787.5 715.0,787.7 715.5,787.8 716.0,788.0 716.5,788.1 717.0,788.2 717.5,788.3 718.0,788.4 718.5,788.5 719.0,788.6 719.5,788.7 720.0,788.8 720.5,788.9 721.0,789.0 721.5,789.0 722.0,789.1 722.5,789.2 723.0,789.2 723.5,789.3 724.0,789.3 724.5,789.4 725.0,789.4 725.5,789.5 726.0,789.5 726.5,789.5 727.0,789.5 727.5,789.5 728.0,789.5 728.5,789.5 729.0,789.5 729.5,789.5 730.0,789.4 730.5,789.4 731.0,789.3 731.5,789.2 732.0,789.1 732.5,788.9 733.0,788.7 733.5,788.4 734.0,788.1 734.5,787.7 735.0,787.2 735.5,786.4 736.0,785.4 736.5,784.0 737.0,781.7 737.5,778.0 738.0,772.4 738.5,764.0 739.0,752.5 739.5,738.4 740.0,723.7 740.5,713.0 740.8,711.0 741.0,711.9 741.5,721.0 742.0,735.3 742.5,749.7 743.0,761.6 743.5,770.5 744.0,776.4 744.5,780.1 745.0,782.2 745.5,783.2 746.0,783.2 746.5,782.2 747.0,780.1 747.5,776.7 748.0,772.1 748.5,766.8 749.0,762.2 749.5,760.4 750.0,762.7 750.5,767.8 751.0,773.6 751.5,778.7 752.0,782.7 752.5,785.6 753.0,787.4 753.5,788.7 754.0,789.4 754.5,790.0 755.0,790.3 755.5,790.6 756.0,790.8 756.5,790.9 757.0,790.9 757.5,791.0 758.0,790.9 758.5,790.9 759.0,790.7 759.5,790.6 760.0,790.3 760.5,790.0 761.0,789.6 761.5,789.0 762.0,788.3 762.5,787.3 763.0,785.9 763.5,783.9 764.0,780.8 764.5,775.9 765.0,768.3 765.5,757.2 766.0,742.0 766.5,723.1 767.0,703.0 767.5,687.1 767.9,682.5 768.0,682.8 768.5,692.6 769.0,711.2 769.5,731.4 770.0,749.0 770.5,762.7 771.0,772.4 771.5,778.9 772.0,783.1 772.5,785.8 773.0,787.6 773.5,788.9 774.0,789.8 774.5,790.6 775.0,791.2 775.5,791.7 776.0,792.1 776.5,792.4 777.0,792.6 777.5,792.8 778.0,793.0 778.5,793.1 779.0,793.2 779.5,793.2 780.0,793.2 780.5,793.1 781.0,793.0 781.5,792.8 782.0,792.5 782.5,792.1 783.0,791.6 783.5,791.0 784.0,790.0 784.5,788.7 785.0,786.6 785.5,783.3 786.0,778.2 786.5,770.5 787.0,759.6 787.5,745.5 788.0,729.3 788.5,714.5 789.0,706.6 789.1,706.4 789.5,710.2 790.0,723.1 790.5,739.3 791.0,754.6 791.5,766.9 792.0,775.9 792.5,782.0 793.0,786.0 793.5,788.5 794.0,790.1 794.5,791.2 795.0,791.9 795.5,792.4 796.0,792.7 796.5,792.7 797.0,792.5 797.5,791.8 798.0,790.7 798.5,788.8 799.0,786.0 799.5,782.4 800.0,778.0 800.5,773.4 801.0,769.7 801.5,768.3 802.0,770.0 802.5,774.0 803.0,778.9 803.5,783.6 804.0,787.6 804.5,790.7 805.0,792.9 805.5,794.4 806.0,795.5 806.5,796.1 807.0,796.6 807.5,796.9 808.0,797.0 808.5,797.0 809.0,796.9 809.5,796.6 810.0,796.1 810.5,795.2 811.0,793.9 811.5,791.9 812.0,789.3 812.5,786.0 813.0,782.0 813.5,777.8 814.0,773.9 814.5,771.4 814.8,771.0 815.0,771.2 815.5,773.5 816.0,777.4 816.5,781.9 817.0,786.1 817.5,789.8 818.0,792.8 818.5,795.1 819.0,796.8 819.5,798.0 820.0,798.8 820.5,799.4 821.0,799.8 821.5,800.1 822.0,800.4 822.5,800.5 823.0,800.7 823.5,800.7 824.0,800.8 824.5,800.8 825.0,800.8 825.5,800.7 826.0,800.6 826.5,800.5 827.0,800.3 827.5,800.0 828.0,799.8 828.5,799.4 829.0,799.0 829.5,798.5 830.0,797.9 830.5,797.1 831.0,796.2 831.5,795.0 832.0,793.4 832.5,791.2 833.0,788.1 833.5,783.7 834.0,777.1 834.5,767.7 835.0,754.8 835.5,737.9 836.0,717.3 836.5,694.4 837.0,672.9 837.5,658.6 837.8,656.0 838.0,657.2 838.5,669.2 839.0,689.8 839.5,712.6 840.0,733.8 840.5,751.5 841.0,765.2 841.5,775.2 842.0,782.2 842.5,787.0 843.0,790.3 843.5,792.5 844.0,794.2 844.5,795.4 845.0,796.4 845.5,797.2 846.0,797.8 846.5,798.3 847.0,798.7 847.5,799.1 848.0,799.4 848.5,799.6 849.0,799.8 849.5,800.0 850.0,800.1 850.5,800.2 851.0,800.3 851.5,800.3 852.0,800.3 852.5,800.3 853.0,800.3 853.5,800.2 854.0,800.1 854.5,800.0 855.0,799.8 855.5,799.6 856.0,799.4 856.5,799.1 857.0,798.7 857.5,798.3 858.0,797.8 858.5,797.2 859.0,796.4 859.5,795.5 860.0,794.4 860.5,792.9 861.0,790.9 861.5,788.1 862.0,783.9 862.5,777.5 863.0,767.9 863.5,754.0 864.0,735.2 864.5,711.8 865.0,685.9 865.5,662.7 866.0,650.7 866.1,650.3 866.5,655.9 867.0,675.5 867.5,700.9 868.0,725.6 868.5,746.1 869.0,761.6 869.5,772.6 870.0,779.9 870.5,784.6 871.0,787.7 871.5,789.6 872.0,791.0 872.5,791.9 873.0,792.5 873.5,792.9 874.0,793.1 874.5,793.2 875.0,793.1 875.5,792.9 876.0,792.5 876.5,792.0 877.0,791.3 877.5,790.4 878.0,789.3 878.5,787.8 879.0,785.8 879.5,783.0 880.0,778.8 880.5,772.5 881.0,762.8 881.5,748.5 882.0,728.8 882.5,704.0 883.0,677.1 883.5,655.0 883.9,647.7 884.0,647.8 884.5,658.8 885.0,680.5 885.5,703.4 886.0,721.8 886.5,734.0 887.0,740.0 887.5,740.5 888.0,736.9 888.5,730.2 889.0,721.4 889.5,711.2 890.0,700.6 890.5,690.0 891.0,678.9 891.5,665.3 892.0,646.2 892.5,618.2 893.0,578.4 893.5,524.3 894.0,455.7 894.5,376.0 895.0,296.2 895.5,236.8 895.9,220.0 896.0,221.1 896.5,256.6 897.0,327.4 897.5,410.2 898.0,488.1 898.5,553.8 899.0,605.7 899.5,645.0 900.0,674.0 900.5,695.1 901.0,710.6 901.5,722.2 902.0,731.2 902.5,738.4 903.0,744.5 903.5,749.6 904.0,754.1 904.5,758.0 905.0,761.5 905.5,764.7 906.0,767.5 906.5,770.0 907.0,772.3 907.5,774.4 908.0,776.3 908.5,778.1 909.0,779.7 909.5,781.2 910.0,782.5 910.5,783.8 911.0,785.0 911.5,786.1 912.0,787.2 912.5,788.2 913.0,789.1 913.5,790.0 914.0,790.8 914.5,791.5 915.0,792.3 915.5,792.9 916.0,793.6 916.5,794.2 917.0,794.8 917.5,795.4 918.0,795.9 918.5,796.4 919.0,796.9 919.5,797.3 920.0,797.8 920.5,798.2 921.0,798.6 921.5,798.9 922.0,799.3 922.5,799.6 923.0,800.0 923.5,800.3 924.0,800.6 924.5,800.9 925.0,801.1 925.5,801.4 926.0,801.7 926.5,801.9 927.0,802.1 927.5,802.4 928.0,802.6 928.5,802.8 929.0,803.0 929.5,803.2 930.0,803.3 930.5,803.5 931.0,803.7 931.5,803.8 932.0,804.0 932.5,804.1 933.0,804.2 933.5,804.4 934.0,804.5 934.5,804.6 935.0,804.7 935.5,804.8 936.0,804.9 936.5,805.0 937.0,805.1 937.5,805.2 938.0,805.3 938.5,805.4 939.0,805.4 939.5,805.5 940.0,805.5 940.5,805.6 941.0,805.6 941.5,805.7 942.0,805.7 942.5,805.7 943.0,805.7 943.5,805.8 944.0,805.7 944.5,805.7 945.0,805.7 945.5,805.7 946.0,805.6 946.5,805.5 947.0,805.4 947.5,805.3 948.0,805.1 948.5,804.9 949.0,804.7 949.5,804.4 950.0,804.0 950.5,803.6 951.0,802.9 951.5,802.1 952.0,801.0 952.5,799.3 953.0,796.8 953.5,793.2 954.0,788.1 954.5,781.0 955.0,771.9 955.5,761.0 956.0,749.1 956.5,738.5 957.0,732.3 957.2,731.7 957.5,733.1 958.0,740.5 958.5,751.6 959.0,763.4 959.5,774.1 960.0,782.9 960.5,789.6 961.0,794.4 961.5,797.8 962.0,800.1 962.5,801.7 963.0,802.7 963.5,803.5 964.0,804.1 964.5,804.5 965.0,804.9 965.5,805.1 966.0,805.3 966.5,805.4 967.0,805.4 967.5,805.4 968.0,805.3 968.5,805.1 969.0,804.9 969.5,804.6 970.0,804.1 970.5,803.5 971.0,802.7 971.5,801.6 972.0,800.0 972.5,797.7 973.0,794.2 973.5,788.9 974.0,781.2 974.5,770.6 975.0,756.8 975.5,740.5 976.0,723.4 976.5,709.5 977.0,704.0 977.5,709.6 978.0,723.5 978.5,740.7 979.0,757.1 979.5,770.9 980.0,781.6 980.5,789.4 981.0,794.7 981.5,798.3 982.0,800.7 982.5,802.3 983.0,803.5 983.5,804.3 984.0,805.0 984.5,805.4 985.0,805.8 985.5,806.0 986.0,806.1 986.5,806.2 987.0,806.1 987.5,806.0 988.0,805.7 988.5,805.3 989.0,804.7 989.5,803.7 990.0,802.4 990.5,800.4 991.0,797.6 991.5,793.6 992.0,788.3 992.5,781.3 993.0,772.9 993.5,763.4 994.0,753.8 994.5,745.9 995.0,741.7 995.5,742.0 996.0,745.4 996.5,749.4 997.0,752.2 997.5,752.8 998.0,751.7 998.5,750.6 999.0,752.0 999.5,757.4 1000.0,765.9 1000.5,775.2 1001.0,783.8 1001.5,791.0 1002.0,796.5 1002.5,800.6 1003.0,803.5 1003.5,805.5 1004.0,806.9 1004.5,807.9 1005.0,808.7 1005.5,809.4 1006.0,809.9 1006.5,810.3 1007.0,810.7 1007.5,811.0 1008.0,811.3 1008.5,811.6 1009.0,811.8 1009.5,812.0 1010.0,812.2 1010.5,812.4 1011.0,812.5 1011.5,812.6 1012.0,812.8 1012.5,812.9 1013.0,813.0 1013.5,813.1 1014.0,813.2 1014.5,813.3 1015.0,813.4 1015.5,813.4 1016.0,813.5 1016.5,813.6 1017.0,813.7 1017.5,813.7 1018.0,813.8 1018.5,813.8 1019.0,813.9 1019.5,813.9 1020.0,814.0 1020.5,814.0 1021.0,814.0 1021.5,814.1 1022.0,814.1 1022.5,814.1 1023.0,814.2 1023.5,814.2 1024.0,814.2 1024.5,814.2 1025.0,814.2 1025.5,814.2 1026.0,814.2 1026.5,814.2 1027.0,814.1 1027.5,814.1 1028.0,814.1 1028.5,814.0 1029.0,813.9 1029.5,813.8 1030.0,813.6 1030.5,813.4 1031.0,813.1 1031.5,812.7 1032.0,812.2 1032.5,811.3 1033.0,810.2 1033.5,808.6 1034.0,806.4 1034.5,803.8 1035.0,800.8 1035.5,797.6 1036.0,794.8 1036.5,793.2 1036.7,793.0 1037.0,793.3 1037.5,795.1 1038.0,798.0 1038.5,801.1 1039.0,804.0 1039.5,806.3 1040.0,808.2 1040.5,809.4 1041.0,810.2 1041.5,810.4 1042.0,810.2 1042.5,809.5 1043.0,808.2 1043.5,806.4 1044.0,804.0 1044.5,801.1 1045.0,798.0 1045.5,795.1 1046.0,793.3 1046.3,793.0 1046.5,793.2 1047.0,794.9 1047.5,797.8 1048.0,801.1 1048.5,804.3 1049.0,807.1 1049.5,809.3 1050.0,811.0 1050.5,812.3 1051.0,813.2 1051.5,813.8 1052.0,814.3 1052.5,814.7 1053.0,814.9 1053.5,815.1 1054.0,815.3 1054.5,815.5 1055.0,815.6 1055.5,815.7 1056.0,815.8 1056.5,815.9 1057.0,816.0 1057.5,816.1 1058.0,816.1 1058.5,816.2 1059.0,816.3 1059.5,816.3 1060.0,816.4 1060.5,816.4 1061.0,816.4 1061.5,816.5 1062.0,816.5 1062.5,816.5 1063.0,816.6 1063.5,816.6 1064.0,816.6 1064.5,816.7 1065.0,816.7 1065.5,816.7 1066.0,816.7 1066.5,816.8 1067.0,816.8 1067.5,816.8 1068.0,816.8 1068.5,816.9 1069.0,816.9 1069.5,816.9 1070.0,816.9 1070.5,816.9 1071.0,816.9 1071.5,817.0 1072.0,817.0 1072.5,817.0 1073.0,817.0 1073.5,817.0 1074.0,817.0 1074.5,817.0 1075.0,817.0 1075.5,817.1 1076.0,817.1 1076.5,817.1 1077.0,817.1 1077.5,817.1 1078.0,817.1 1078.5,817.1 1079.0,817.1 1079.5,817.1 1080.0,817.1 1080.5,817.1 1081.0,817.1 1081.5,817.1 1082.0,817.1 1082.5,817.1 1083.0,817.0 1083.5,817.0 1084.0,817.0 1084.5,817.0 1085.0,817.0 1085.5,817.0 1086.0,816.9 1086.5,816.9 1087.0,816.9 1087.5,816.8 1088.0,816.8 1088.5,816.7 1089.0,816.7 1089.5,816.6 1090.0,816.5 1090.5,816.4 1091.0,816.3 1091.5,816.2 1092.0,816.0 1092.5,815.9 1093.0,815.7 1093.5,815.5 1094.0,815.2 1094.5,814.9 1095.0,814.4 1095.5,813.9 1096.0,813.1 1096.5,812.1 1097.0,810.8 1097.5,808.9 1098.0,806.4 1098.5,803.1 1099.0,799.0 1099.5,794.1 1100.0,788.7 1100.5,783.2 1101.0,778.3 1101.5,775.3 1101.8,774.7 1102.0,774.9 1102.5,777.3 1103.0,781.8 1103.5,787.1 1104.0,792.4 1104.5,797.2 1105.0,801.2 1105.5,804.4 1106.0,806.7 1106.5,808.3 1107.0,809.3 1107.5,809.6 1108.0,809.3 1108.5,808.4 1109.0,806.9 1109.5,804.7 1110.0,801.9 1110.5,798.4 1111.0,794.8 1111.5,791.6 1112.0,789.8 1112.2,789.6 1112.5,790.0 1113.0,792.0 1113.5,795.3 1114.0,798.7 1114.5,801.9 1115.0,804.4 1115.5,806.1 1116.0,806.9 1116.5,807.0 1117.0,806.1 1117.5,804.4 1118.0,801.9 1118.5,798.4 1119.0,794.1 1119.5,789.2 1120.0,784.1 1120.5,779.7 1121.0,776.9 1121.3,776.4 1121.5,776.6 1122.0,779.0 1122.5,783.1 1123.0,788.1 1123.5,793.1 1124.0,797.4 1124.5,800.9 1125.0,803.4 1125.5,804.8 1126.0,805.2 1126.5,804.5 1127.0,802.9 1127.5,800.7 1128.0,798.3 1128.5,796.7 1128.8,796.5 1129.0,796.7 1129.5,798.4 1130.0,801.0 1130.5,803.8 1131.0,806.2 1131.5,807.9 1132.0,808.9 1132.5,809.1 1133.0,808.5 1133.5,807.2 1134.0,805.1 1134.5,802.2 1135.0,798.6 1135.5,794.5 1136.0,790.1 1136.5,786.1 1137.0,783.4 1137.4,782.7 1137.5,782.8 1138.0,784.5 1138.5,788.0 1139.0,792.4 1139.5,797.0 1140.0,801.2 1140.5,804.8 1141.0,807.7 1141.5,810.0 1142.0,811.7 1142.5,812.9 1143.0,813.7 1143.5,814.2 1144.0,814.5 1144.5,814.5 1145.0,814.3 1145.5,813.9 1146.0,813.2 1146.5,812.2 1147.0,811.0 1147.5,809.6 1148.0,808.1 1148.5,806.7 1149.0,805.8 1149.4,805.6 1149.5,805.6 1150.0,806.3 1150.5,807.6 1151.0,809.3 1151.5,811.0 1152.0,812.6 1152.5,813.9 1153.0,815.0 1153.5,815.9 1154.0,816.6 1154.5,817.1 1155.0,817.5 1155.5,817.7 1156.0,817.9 1156.5,818.1 1157.0,818.2 1157.5,818.4 1158.0,818.5 1158.5,818.5 1159.0,818.6 1159.5,818.7 1160.0,818.7 1160.5,818.8 1161.0,818.8 1161.5,818.9 1162.0,818.9 1162.5,818.9 1163.0,819.0 1163.5,819.0 1164.0,819.0 1164.5,819.0 1165.0,819.1 1165.5,819.1 1166.0,819.1 1166.5,819.1 1167.0,819.1 1167.5,819.1 1168.0,819.1 1168.5,819.1 1169.0,819.1 1169.5,819.1 1170.0,819.1 1170.5,819.0 1171.0,819.0 1171.5,819.0 1172.0,818.9 1172.5,818.9 1173.0,818.8 1173.5,818.8 1174.0,818.7 1174.5,818.5 1175.0,818.4 1175.5,818.2 1176.0,818.0 1176.5,817.7 1177.0,817.2 1177.5,816.6 1178.0,815.8 1178.5,814.7 1179.0,813.3 1179.5,811.6 1180.0,809.7 1180.5,807.7 1181.0,805.7 1181.5,804.1 1182.0,803.4 1182.5,803.6 1183.0,804.5 1183.5,805.7 1184.0,806.8 1184.5,807.5 1185.0,807.7 1185.5,807.3 1186.0,806.3 1186.5,804.9 1187.0,803.5 1187.5,802.4 1188.0,802.2 1188.5,803.0 1189.0,804.7 1189.5,806.8 1190.0,809.1 1190.5,811.2 1191.0,813.0 1191.5,814.5 1192.0,815.7 1192.5,816.7 1193.0,817.3 1193.5,817.8 1194.0,818.2 1194.5,818.5 1195.0,818.7 1195.5,818.8 1196.0,818.9 1196.5,819.0 1197.0,819.1 1197.5,819.1 1198.0,819.1 1198.5,818.9 1199.0,818.8 1199.5,818.5 1200.0,818.1 1200.5,817.6 1201.0,817.1 1201.5,816.6 1202.0,816.5 1202.5,816.7 1203.0,817.2 1203.5,817.8 1204.0,818.3 1204.5,818.8 1205.0,819.2 1205.5,819.5 1206.0,819.7 1206.5,819.8 1207.0,819.9 1207.5,819.9 1208.0,820.0 1208.5,820.0 1209.0,820.1 1209.5,820.1 1210.0,820.1 1210.5,820.1 1211.0,820.1 1211.5,820.2 1212.0,820.2 1212.5,820.2 1213.0,820.2 1213.5,820.2 1214.0,820.2 1214.5,820.2 1215.0,820.1 1215.5,820.1 1216.0,820.1 1216.5,820.1 1217.0,820.1 1217.5,820.0 1218.0,820.0 1218.5,820.0 1219.0,819.9 1219.5,819.9 1220.0,819.8 1220.5,819.7 1221.0,819.6 1221.5,819.5 1222.0,819.4 1222.5,819.2 1223.0,819.0 1223.5,818.7 1224.0,818.3 1224.5,817.9 1225.0,817.3 1225.5,816.5 1226.0,815.6 1226.5,814.4 1227.0,813.0 1227.5,811.4 1228.0,809.5 1228.5,807.5 1229.0,805.4 1229.5,803.3 1230.0,801.6 1230.5,800.4 1231.0,800.0 1231.5,800.4 1232.0,801.6 1232.5,803.4 1233.0,805.5 1233.5,807.6 1234.0,809.6 1234.5,811.5 1235.0,813.2 1235.5,814.6 1236.0,815.8 1236.5,816.8 1237.0,817.5 1237.5,818.1 1238.0,818.6 1238.5,819.0 1239.0,819.3 1239.5,819.6 1240.0,819.7 1240.5,819.9 1241.0,820.0 1241.5,820.2 1242.0,820.3 1242.5,820.4 1243.0,820.4 1243.5,820.5 1244.0,820.6 1244.5,820.6 1245.0,820.7 1245.5,820.7 1246.0,820.8 1246.5,820.8 1247.0,820.9 1247.5,820.9 1248.0,820.9 1248.5,821.0 1249.0,821.0 1249.5,821.0 1250.0,821.0 1250.5,821.1 1251.0,821.1 1251.5,821.1 1252.0,821.1 1252.5,821.2 1253.0,821.2 1253.5,821.2 1254.0,821.2 1254.5,821.2 1255.0,821.2 1255.5,821.3 1256.0,821.3 1256.5,821.3 1257.0,821.3 1257.5,821.3 1258.0,821.3 1258.5,821.3 1259.0,821.3 1259.5,821.3 1260.0,821.4 1260.5,821.4 1261.0,821.4 1261.5,821.4 1262.0,821.4 1262.5,821.4 1263.0,821.4 1263.5,821.4 1264.0,821.4 1264.5,821.4 1265.0,821.4 1265.5,821.4 1266.0,821.4 1266.5,821.5 1267.0,821.5 1267.5,821.5 1268.0,821.5 1268.5,821.5 1269.0,821.5 1269.5,821.5 1270.0,821.5 1270.5,821.5 1271.0,821.5 1271.5,821.5 1272.0,821.5 1272.5,821.5 1273.0,821.5 1273.5,821.5 1274.0,821.5 1274.5,821.5 1275.0,821.5 1275.5,821.5 1276.0,821.5 1276.5,821.5 1277.0,821.5 1277.5,821.5 1278.0,821.5 1278.5,821.5 1279.0,821.5 1279.5,821.5 1280.0,821.5 1280.5,821.5 1281.0,821.5 1281.5,821.5 1282.0,821.5 1282.5,821.5 1283.0,821.4 1283.5,821.4 1284.0,821.4 1284.5,821.4 1285.0,821.4 1285.5,821.3 1286.0,821.3 1286.5,821.3 1287.0,821.2 1287.5,821.1 1288.0,821.0 1288.5,820.8 1289.0,820.6 1289.5,820.3 1290.0,820.0 1290.5,819.6 1291.0,819.2 1291.5,818.8 1292.0,818.5 1292.5,818.3 1292.6,818.3 1293.0,818.4 1293.5,818.6 1294.0,819.0 1294.5,819.4 1295.0,819.8 1295.5,820.2 1296.0,820.5 1296.5,820.7 1297.0,820.9 1297.5,821.0 1298.0,821.1 1298.5,821.1 1299.0,821.2 1299.5,821.2 1300.0,821.2 1300.5,821.2 1301.0,821.2 1301.5,821.3 1302.0,821.3 1302.5,821.3 1303.0,821.3 1303.5,821.2 1304.0,821.2 1304.5,821.2 1305.0,821.2 1305.5,821.2 1306.0,821.2 1306.5,821.2 1307.0,821.1 1307.5,821.1 1308.0,821.1 1308.5,821.1 1309.0,821.0 1309.5,821.0 1310.0,821.0 1310.5,820.9 1311.0,820.9 1311.5,820.9 1312.0,820.8 1312.5,820.8 1313.0,820.7 1313.5,820.6 1314.0,820.6 1314.5,820.5 1315.0,820.4 1315.5,820.3 1316.0,820.2 1316.5,820.1 1317.0,819.9 1317.5,819.8 1318.0,819.6 1318.5,819.4 1319.0,819.2 1319.5,818.9 1320.0,818.6 1320.5,818.2 1321.0,817.7 1321.5,817.1 1322.0,816.3 1322.5,815.2 1323.0,813.8 1323.5,811.9 1324.0,809.3 1324.5,806.1 1325.0,802.1 1325.5,797.2 1326.0,791.6 1326.5,785.6 1327.0,779.5 1327.5,774.1 1328.0,770.6 1328.4,769.6 1328.5,769.7 1329.0,771.7 1329.5,776.1 1330.0,781.8 1330.5,788.0 1331.0,793.9 1331.5,799.2 1332.0,803.7 1332.5,807.4 1333.0,810.3 1333.5,812.6 1334.0,814.3 1334.5,815.6 1335.0,816.5 1335.5,817.2 1336.0,817.8 1336.5,818.2 1337.0,818.6 1337.5,818.8 1338.0,819.1 1338.5,819.3 1339.0,819.5 1339.5,819.6 1340.0,819.7 1340.5,819.8 1341.0,819.9 1341.5,820.0 1342.0,820.1 1342.5,820.2 1343.0,820.2 1343.5,820.2 1344.0,820.3 1344.5,820.3 1345.0,820.3 1345.5,820.3 1346.0,820.3 1346.5,820.3 1347.0,820.3 1347.5,820.3 1348.0,820.2 1348.5,820.2 1349.0,820.1 1349.5,820.0 1350.0,819.9 1350.5,819.8 1351.0,819.6 1351.5,819.3 1352.0,818.9 1352.5,818.5 1353.0,817.9 1353.5,817.2 1354.0,816.4 1354.5,815.4 1355.0,814.2 1355.5,812.9 1356.0,811.6 1356.5,810.2 1357.0,809.0 1357.5,808.0 1358.0,807.5 1358.2,807.5 1358.5,807.6 1359.0,808.2 1359.5,809.2 1360.0,810.5 1360.5,811.9 1361.0,813.2 1361.5,814.5 1362.0,815.7 1362.5,816.6 1363.0,817.5 1363.5,818.1 1364.0,818.7 1364.5,819.1 1365.0,819.4 1365.5,819.7 1366.0,819.9 1366.5,820.1 1367.0,820.2 1367.5,820.3 1368.0,820.4 1368.5,820.4 1369.0,820.5 1369.5,820.5 1370.0,820.5 1370.5,820.5 1371.0,820.5 1371.5,820.5 1372.0,820.5 1372.5,820.5 1373.0,820.5 1373.5,820.5 1374.0,820.4 1374.5,820.4 1375.0,820.3 1375.5,820.2 1376.0,820.0 1376.5,819.8 1377.0,819.5 1377.5,819.2 1378.0,818.8 1378.5,818.2 1379.0,817.6 1379.5,816.8 1380.0,815.9 1380.5,815.0 1381.0,814.1 1381.5,813.3 1382.0,812.7 1382.5,812.5 1383.0,812.7 1383.5,813.3 1384.0,814.0 1384.5,815.0 1385.0,815.9 1385.5,816.7 1386.0,817.5 1386.5,818.1 1387.0,818.7 1387.5,819.1 1388.0,819.4 1388.5,819.7 1389.0,819.9 1389.5,820.0 1390.0,820.1 1390.5,820.2 1391.0,820.2 1391.5,820.3 1392.0,820.3 1392.5,820.3 1393.0,820.3 1393.5,820.3 1394.0,820.3 1394.5,820.3 1395.0,820.3 1395.5,820.2 1396.0,820.2 1396.5,820.1 1397.0,820.0 1397.5,819.8 1398.0,819.7 1398.5,819.4 1399.0,819.1 1399.5,818.8 1400.0,818.3 1400.5,817.9 1401.0,817.4 1401.5,816.9 1402.0,816.4 1402.5,816.1 1403.0,816.0 1403.5,816.1 1404.0,816.4 1404.5,816.8 1405.0,817.3 1405.5,817.7 1406.0,818.2 1406.5,818.5 1407.0,818.9 1407.5,819.1 1408.0,819.3 1408.5,819.4 1409.0,819.5 1409.5,819.5 1410.0,819.5 1410.5,819.4 1411.0,819.3 1411.5,819.1 1412.0,818.8 1412.5,818.5 1413.0,818.1 1413.5,817.7 1414.0,817.3 1414.5,816.8 1415.0,816.4 1415.5,816.1 1416.0,816.0 1416.5,816.1 1417.0,816.4 1417.5,816.8 1418.0,817.2 1418.5,817.7 1419.0,818.1 1419.5,818.5 1420.0,818.8 1420.5,819.1 1421.0,819.3 1421.5,819.4 1422.0,819.6 1422.5,819.6 1423.0,819.7 1423.5,819.7 1424.0,819.8 1424.5,819.8 1425.0,819.8 1425.5,819.8 1426.0,819.8 1426.5,819.8 1427.0,819.7 1427.5,819.7 1428.0,819.7 1428.5,819.6 1429.0,819.6 1429.5,819.6 1430.0,819.5 1430.5,819.4 1431.0,819.4 1431.5,819.3 1432.0,819.2 1432.5,819.1 1433.0,818.9 1433.5,818.8 1434.0,818.6 1434.5,818.4 1435.0,818.1 1435.5,817.8 1436.0,817.4 1436.5,816.8 1437.0,816.1 1437.5,815.1 1438.0,813.9 1438.5,812.2 1439.0,810.2 1439.5,807.7 1440.0,804.7 1440.5,801.3 1441.0,797.7 1441.5,794.0 1442.0,790.7 1442.5,788.4 1443.0,787.6 1443.5,788.4 1444.0,790.7 1444.5,794.0 1445.0,797.7 1445.5,801.3 1446.0,804.7 1446.5,807.7 1447.0,810.2 1447.5,812.2 1448.0,813.9 1448.5,815.1 1449.0,816.1 1449.5,816.8 1450.0,817.3 1450.5,817.7 1451.0,818.0 1451.5,818.3 1452.0,818.4 1452.5,818.6 1453.0,818.6 1453.5,818.7 1454.0,818.7 1454.5,818.6 1455.0,818.5 1455.5,818.2 1456.0,817.9 1456.5,817.5 1457.0,816.9 1457.5,816.2 1458.0,815.3 1458.5,814.3 1459.0,813.2 1459.5,812.0 1460.0,811.0 1460.5,810.1 1461.0,809.7 1461.2,809.7 1461.5,809.8 1462.0,810.4 1462.5,811.4 1463.0,812.6 1463.5,813.8 1464.0,815.0 1464.5,816.1 1465.0,817.0 1465.5,817.8 1466.0,818.5 1466.5,819.0 1467.0,819.4 1467.5,819.8 1468.0,820.0 1468.5,820.2 1469.0,820.4 1469.5,820.5 1470.0,820.6 1470.5,820.7 1471.0,820.8 1471.5,820.8 1472.0,820.9 1472.5,820.9 1473.0,821.0 1473.5,821.0 1474.0,821.1 1474.5,821.1 1475.0,821.1 1475.5,821.1 1476.0,821.1 1476.5,821.1 1477.0,821.2 1477.5,821.1 1478.0,821.1 1478.5,821.1 1479.0,821.1 1479.5,821.1 1480.0,821.0 1480.5,820.9 1481.0,820.9 1481.5,820.7 1482.0,820.6 1482.5,820.4 1483.0,820.2 1483.5,819.9 1484.0,819.4 1484.5,818.8 1485.0,818.0 1485.5,817.0 1486.0,815.6 1486.5,813.9 1487.0,811.9 1487.5,809.6 1488.0,807.2 1488.5,804.7 1489.0,802.7 1489.5,801.4 1489.8,801.2 1490.0,801.3 1490.5,802.3 1491.0,804.2 1491.5,806.6 1492.0,809.1 1492.5,811.4 1493.0,813.4 1493.5,815.1 1494.0,816.4 1494.5,817.3 1495.0,817.9 1495.5,818.3 1496.0,818.3 1496.5,818.2 1497.0,817.8 1497.5,817.3 1498.0,816.5 1498.5,815.7 1499.0,814.9 1499.5,814.1 1500.0,813.6 1500.5,813.4 1500.6,813.4 1501.0,813.6 1501.5,814.2 1502.0,815.1 1502.5,816.1 1503.0,817.1 1503.5,818.1 1504.0,819.0 1504.5,819.8 1505.0,820.4 1505.5,821.0 1506.0,821.4 1506.5,821.7 1507.0,822.0 1507.5,822.2 1508.0,822.4 1508.5,822.5 1509.0,822.6 1509.5,822.7 1510.0,822.8 1510.5,822.8 1511.0,822.9 1511.5,823.0 1512.0,823.0 1512.5,823.1 1513.0,823.1 1513.5,823.1 1514.0,823.2 1514.5,823.2 1515.0,823.2 1515.5,823.3 1516.0,823.3 1516.5,823.3 1517.0,823.3 1517.5,823.3 1518.0,823.3 1518.5,823.4 1519.0,823.4 1519.5,823.4 1520.0,823.4 1520.5,823.4 1521.0,823.4 1521.5,823.4 1522.0,823.4 1522.5,823.4 1523.0,823.4 1523.5,823.4 1524.0,823.4 1524.5,823.3 1525.0,823.3 1525.5,823.3 1526.0,823.3 1526.5,823.3 1527.0,823.2 1527.5,823.2 1528.0,823.2 1528.5,823.1 1529.0,823.1 1529.5,823.0 1530.0,823.0 1530.5,822.9 1531.0,822.8 1531.5,822.7 1532.0,822.6 1532.5,822.5 1533.0,822.4 1533.5,822.2 1534.0,822.0 1534.5,821.7 1535.0,821.3 1535.5,820.8 1536.0,820.2 1536.5,819.3 1537.0,818.2 1537.5,816.9 1538.0,815.3 1538.5,813.3 1539.0,811.2 1539.5,809.0 1540.0,806.8 1540.5,805.1 1541.0,804.0 1541.5,803.6 1542.0,803.8 1542.5,804.2 1543.0,804.5 1543.5,804.3 1544.0,803.7 1544.5,802.7 1545.0,801.5 1545.5,800.4 1546.0,799.9 1546.3,800.0 1546.5,800.3 1547.0,801.8 1547.5,804.1 1548.0,806.8 1548.5,809.5 1549.0,812.1 1549.5,814.3 1550.0,816.2 1550.5,817.8 1551.0,819.0 1551.5,819.9 1552.0,820.6 1552.5,821.2 1553.0,821.6 1553.5,821.9 1554.0,822.2 1554.5,822.4 1555.0,822.5 1555.5,822.7 1556.0,822.8 1556.5,822.9 1557.0,823.0 1557.5,823.1 1558.0,823.1 1558.5,823.2 1559.0,823.2 1559.5,823.3 1560.0,823.3 1560.5,823.4 1561.0,823.4 1561.5,823.4 1562.0,823.4 1562.5,823.5 1563.0,823.5 1563.5,823.5 1564.0,823.5 1564.5,823.5 1565.0,823.5 1565.5,823.5 1566.0,823.5 1566.5,823.5 1567.0,823.5 1567.5,823.5 1568.0,823.5 1568.5,823.5 1569.0,823.4 1569.5,823.4 1570.0,823.4 1570.5,823.4 1571.0,823.3 1571.5,823.3 1572.0,823.2 1572.5,823.1 1573.0,823.0 1573.5,822.9 1574.0,822.8 1574.5,822.6 1575.0,822.4 1575.5,822.1 1576.0,821.8 1576.5,821.5 1577.0,821.1 1577.5,820.8 1578.0,820.4 1578.5,820.2 1579.0,820.0 1579.5,820.0 1580.0,820.0 1580.5,820.2 1581.0,820.4 1581.5,820.5 1582.0,820.6 1582.5,820.7 1583.0,820.7 1583.5,820.6 1584.0,820.5 1584.5,820.3 1585.0,820.0 1585.5,819.6 1586.0,819.1 1586.5,818.5 1587.0,817.7 1587.5,816.7 1588.0,815.2 1588.5,813.2 1589.0,810.4 1589.5,806.5 1590.0,801.3 1590.5,794.3 1591.0,785.7 1591.5,775.6 1592.0,764.8 1592.5,754.8 1593.0,747.9 1593.2,746.4 1593.5,745.7 1594.0,747.8 1594.5,752.4 1595.0,757.1 1595.5,760.8 1596.0,763.5 1596.5,765.8 1597.0,768.7 1597.5,772.8 1598.0,778.0 1598.5,783.4 1599.0,788.3 1599.5,792.1 1600.0,794.5 1600.5,795.6 1601.0,795.4 1601.5,794.2 1602.0,792.7 1602.5,791.6 1603.0,791.7 1603.5,793.4 1604.0,796.5 1604.5,800.3 1605.0,804.2 1605.5,807.9 1606.0,811.1 1606.5,813.7 1607.0,815.8 1607.5,817.4 1608.0,818.7 1608.5,819.6 1609.0,820.3 1609.5,820.8 1610.0,821.3 1610.5,821.6 1611.0,821.9 1611.5,822.1 1612.0,822.3 1612.5,822.5 1613.0,822.7 1613.5,822.8 1614.0,823.0 1614.5,823.1 1615.0,823.2 1615.5,823.3 1616.0,823.4 1616.5,823.4 1617.0,823.5 1617.5,823.6 1618.0,823.6 1618.5,823.7 1619.0,823.8 1619.5,823.8 1620.0,823.8 1620.5,823.9 1621.0,823.9 1621.5,823.9 1622.0,824.0 1622.5,824.0 1623.0,824.0 1623.5,823.9 1624.0,823.9 1624.5,823.9 1625.0,823.8 1625.5,823.7 1626.0,823.6 1626.5,823.5 1627.0,823.3 1627.5,823.2 1628.0,823.1 1628.5,823.0 1629.0,823.0 1629.5,823.1 1630.0,823.2 1630.5,823.3 1631.0,823.5 1631.5,823.7 1632.0,823.9 1632.5,824.0 1633.0,824.2 1633.5,824.3 1634.0,824.4 1634.5,824.4 1635.0,824.5 1635.5,824.6 1636.0,824.6 1636.5,824.6 1637.0,824.7 1637.5,824.7 1638.0,824.7 1638.5,824.7 1639.0,824.8 1639.5,824.8 1640.0,824.8 1640.5,824.8 1641.0,824.8 1641.5,824.9 1642.0,824.9 1642.5,824.9 1643.0,824.9 1643.5,824.9 1644.0,824.9 1644.5,825.0 1645.0,825.0 1645.5,825.0 1646.0,825.0 1646.5,825.0 1647.0,825.1 1647.5,825.1 1648.0,825.1 1648.5,825.1 1649.0,825.1 1649.5,825.1 1650.0,825.2 1650.5,825.2 1651.0,825.2 1651.5,825.2 1652.0,825.2 1652.5,825.2 1653.0,825.2 1653.5,825.2 1654.0,825.2 1654.5,825.1 1655.0,825.1 1655.5,825.0 1656.0,824.9 1656.5,824.7 1657.0,824.5 1657.5,824.2 1658.0,823.8 1658.5,823.4 1659.0,822.9 1659.5,822.3 1660.0,821.8 1660.5,821.3 1661.0,820.9 1661.5,820.8 1661.6,820.8 1662.0,820.9 1662.5,821.3 1663.0,821.8 1663.5,822.4 1664.0,823.0 1664.5,823.6 1665.0,824.2 1665.5,824.6 1666.0,825.0 1666.5,825.4 1667.0,825.7 1667.5,825.9 1668.0,826.1 1668.5,826.2 1669.0,826.3 1669.5,826.4 1670.0,826.5 1670.5,826.6 1671.0,826.7 1671.5,826.8 1672.0,826.8 1672.5,826.9 1673.0,826.9 1673.5,827.0 1674.0,827.1 1674.5,827.1 1675.0,827.2 1675.5,827.2 1676.0,827.3 1676.5,827.3 1677.0,827.4 1677.5,827.4 1678.0,827.4 1678.5,827.5 1679.0,827.5 1679.5,827.6 1680.0,827.6 1680.5,827.7 1681.0,827.7 1681.5,827.7 1682.0,827.8 1682.5,827.8 1683.0,827.9 1683.5,827.9 1684.0,827.9 1684.5,828.0 1685.0,828.0 1685.5,828.0 1686.0,828.1 1686.5,828.1 1687.0,828.2 1687.5,828.2 1688.0,828.2 1688.5,828.2 1689.0,828.3 1689.5,828.3 1690.0,828.3 1690.5,828.4 1691.0,828.4 1691.5,828.4 1692.0,828.4 1692.5,828.5 1693.0,828.5 1693.5,828.5 1694.0,828.5 1694.5,828.6 1695.0,828.6 1695.5,828.6 1696.0,828.6 1696.5,828.6 1697.0,828.6 1697.5,828.7 1698.0,828.7 1698.5,828.7 1699.0,828.7 1699.5,828.7 1700.0,828.7 1700.5,828.7 1701.0,828.7 1701.5,828.8 1702.0,828.8 1702.5,828.8 1703.0,828.8 1703.5,828.8 1704.0,828.8 1704.5,828.8 1705.0,828.8 1705.5,828.8 1706.0,828.8 1706.5,828.8 1707.0,828.8 1707.5,828.9 1708.0,828.9 1708.5,828.9 1709.0,828.9 1709.5,828.9 1710.0,828.9 1710.5,828.9 1711.0,828.9 1711.5,828.9 1712.0,828.9 1712.5,828.9 1713.0,828.9 1713.5,828.9 1714.0,828.9 1714.5,828.9 1715.0,828.9 1715.5,829.0 1716.0,829.0 1716.5,829.0 1717.0,829.0 1717.5,829.0 1718.0,829.0 1718.5,829.0 1719.0,829.0 1719.5,829.0 1720.0,829.0 1720.5,829.0 1721.0,829.0 1721.5,829.0 1722.0,829.0 1722.5,829.0 1723.0,829.0 1723.5,829.0 1724.0,829.0 1724.5,829.0 1725.0,829.0 1725.5,829.0 1726.0,829.0 1726.5,829.0 1727.0,829.0 1727.5,829.0 1728.0,829.0 1728.5,829.0 1729.0,829.0 1729.5,828.9 1730.0,828.9 1730.5,828.9 1731.0,828.9 1731.5,828.9 1732.0,828.9 1732.5,828.8 1733.0,828.8 1733.5,828.8 1734.0,828.7 1734.5,828.7 1735.0,828.6 1735.5,828.6 1736.0,828.5 1736.5,828.4 1737.0,828.2 1737.5,828.0 1738.0,827.8 1738.5,827.5 1739.0,827.2 1739.5,826.8 1740.0,826.3 1740.5,825.8 1741.0,825.2 1741.5,824.5 1742.0,823.9 1742.5,823.3 1743.0,822.9 1743.5,822.6 1743.9,822.5 1744.0,822.5 1744.5,822.7 1745.0,823.1 1745.5,823.6 1746.0,824.2 1746.5,824.8 1747.0,825.4 1747.5,826.0 1748.0,826.5 1748.5,827.0 1749.0,827.4 1749.5,827.7 1750.0,828.0 1750.5,828.2 1751.0,828.4 1751.5,828.5 1752.0,828.6 1752.5,828.7 1753.0,828.8 1753.5,828.8 1754.0,828.9 1754.5,828.9 1755.0,829.0 1755.5,829.0 1756.0,829.0 1756.5,829.0 1757.0,829.1 1757.5,829.1 1758.0,829.1 1758.5,829.1 1759.0,829.1 1759.5,829.1 1760.0,829.1 1760.5,829.2 1761.0,829.2 1761.5,829.2 1762.0,829.2 1762.5,829.2 1763.0,829.2 1763.5,829.2 1764.0,829.2 1764.5,829.2 1765.0,829.2 1765.5,829.2 1766.0,829.2 1766.5,829.2 1767.0,829.2 1767.5,829.2 1768.0,829.2 1768.5,829.2 1769.0,829.2 1769.5,829.2 1770.0,829.2 1770.5,829.1 1771.0,829.1 1771.5,829.1 1772.0,829.1 1772.5,829.1 1773.0,829.0 1773.5,829.0 1774.0,829.0 1774.5,828.9 1775.0,828.8 1775.5,828.7 1776.0,828.6 1776.5,828.4 1777.0,828.3 1777.5,828.0 1778.0,827.8 1778.5,827.4 1779.0,827.1 1779.5,826.7 1780.0,826.3 1780.5,825.9 1781.0,825.5 1781.5,825.2 1782.0,825.0 1782.4,824.9 1782.5,824.9 1783.0,825.0 1783.5,825.3 1784.0,825.6 1784.5,826.0 1785.0,826.4 1785.5,826.8 1786.0,827.2 1786.5,827.5 1787.0,827.8 1787.5,828.0 1788.0,828.2 1788.5,828.4 1789.0,828.5 1789.5,828.5 1790.0,828.6 1790.5,828.6 1791.0,828.6 1791.5,828.5 1792.0,828.4 1792.5,828.3 1793.0,828.2 1793.5,827.9 1794.0,827.7 1794.5,827.4 1795.0,827.0 1795.5,826.6 1796.0,826.1 1796.5,825.6 1797.0,825.2 1797.5,824.8 1798.0,824.5 1798.5,824.3 1798.7,824.3 1799.0,824.3 1799.5,824.5 1800.0,824.9 1800.5,825.3 1801.0,825.8 1801.5,826.3 1802.0,826.8 1802.5,827.3 1803.0,827.6 1803.5,828.0 1804.0,828.3 1804.5,828.5 1805.0,828.7 1805.5,828.9 1806.0,829.0 1806.5,829.1 1807.0,829.2 1807.5,829.2 1808.0,829.3 1808.5,829.3 1809.0,829.4 1809.5,829.4 1810.0,829.4 1810.5,829.5 1811.0,829.5 1811.5,829.5 1812.0,829.5 1812.5,829.5 1813.0,829.6 1813.5,829.6 1814.0,829.6 1814.5,829.6 1815.0,829.6 1815.5,829.6 1816.0,829.6 1816.5,829.6 1817.0,829.6 1817.5,829.6 1818.0,829.6 1818.5,829.6 1819.0,829.6 1819.5,829.6 1820.0,829.6 1820.5,829.6 1821.0,829.6 1821.5,829.6 1822.0,829.6 1822.5,829.6 1823.0,829.6 1823.5,829.6 1824.0,829.6 1824.5,829.5 1825.0,829.5 1825.5,829.5 1826.0,829.5 1826.5,829.4 1827.0,829.4 1827.5,829.3 1828.0,829.3 1828.5,829.2 1829.0,829.1 1829.5,829.1 1830.0,828.9 1830.5,828.8 1831.0,828.6 1831.5,828.4 1832.0,828.1 1832.5,827.7 1833.0,827.3 1833.5,826.7 1834.0,826.0 1834.5,825.2 1835.0,824.3 1835.5,823.2 1836.0,822.0 1836.5,820.8 1837.0,819.5 1837.5,818.4 1838.0,817.4 1838.5,816.8 1838.9,816.7 1839.0,816.7 1839.5,817.1 1840.0,817.8 1840.5,818.9 1841.0,820.1 1841.5,821.3 1842.0,822.6 1842.5,823.7 1843.0,824.8 1843.5,825.7 1844.0,826.5 1844.5,827.1 1845.0,827.7 1845.5,828.1 1846.0,828.4 1846.5,828.7 1847.0,828.9 1847.5,829.1 1848.0,829.3 1848.5,829.4 1849.0,829.5 1849.5,829.6 1850.0,829.7 1850.5,829.7 1851.0,829.8 1851.5,829.8 1852.0,829.9 1852.5,829.9 1853.0,830.0 1853.5,830.0 1854.0,830.0 1854.5,830.1 1855.0,830.1 1855.5,830.1 1856.0,830.2 1856.5,830.2 1857.0,830.2 1857.5,830.2 1858.0,830.3 1858.5,830.3 1859.0,830.3 1859.5,830.3 1860.0,830.3 1860.5,830.4 1861.0,830.4 1861.5,830.4 1862.0,830.4 1862.5,830.4 1863.0,830.4 1863.5,830.4 1864.0,830.5 1864.5,830.5 1865.0,830.5 1865.5,830.5 1866.0,830.5 1866.5,830.5 1867.0,830.5 1867.5,830.6 1868.0,830.6 1868.5,830.6 1869.0,830.6 1869.5,830.6 1870.0,830.6 1870.5,830.6 1871.0,830.6 1871.5,830.6 1872.0,830.7 1872.5,830.7 1873.0,830.7 1873.5,830.7 1874.0,830.7 1874.5,830.7 1875.0,830.7 1875.5,830.7 1876.0,830.7 1876.5,830.7 1877.0,830.8 1877.5,830.8"/>
<polyline stroke="#008000" stroke-width="2" points="216.0,595.8 216.5,596.0 217.0,596.2 217.5,596.4 218.0,596.7 218.5,597.0 219.0,597.2 219.5,597.6 220.0,597.9 220.5,598.2 221.0,598.6 221.5,599.0 222.0,599.3 222.5,599.8 223.0,600.2 223.5,600.6 224.0,601.1 224.5,601.5 225.0,602.0 225.5,602.5 226.0,603.0 226.5,603.5 227.0,604.0 227.5,604.5 228.0,605.0 228.5,605.6 229.0,606.1 229.5,606.7 230.0,607.2 230.5,607.8 231.0,608.4 231.5,609.0 232.0,609.6 232.5,610.1 233.0,610.7 233.5,611.3 234.0,611.9 234.5,612.5 235.0,613.1 235.5,613.7 236.0,614.3 236.5,614.9 237.0,615.5 237.5,616.1 238.0,616.7 238.5,617.3 239.0,617.9 239.5,618.5 240.0,619.1 240.5,619.6 241.0,620.2 241.5,620.8 242.0,621.3 242.5,621.9 243.0,622.4 243.5,623.0 244.0,623.5 244.5,624.0 245.0,624.5 245.5,625.0 246.0,625.5 246.5,626.0 247.0,626.4 247.5,626.9 248.0,627.3 248.5,627.8 249.0,628.2 249.5,628.7 250.0,629.1 250.5,629.5 251.0,630.0 251.5,630.4 252.0,630.8 252.5,631.3 253.0,631.7 253.5,632.1 254.0,632.5 254.5,633.0 255.0,633.4 255.5,633.8 256.0,634.2 256.5,634.6 257.0,635.0 257.5,635.4 258.0,635.9 258.5,636.3 259.0,636.7 259.5,637.1 260.0,637.5 260.5,637.9 261.0,638.3 261.5,638.7 262.0,639.1 262.5,639.5 263.0,639.9 263.5,640.3 264.0,640.7 264.5,641.0 265.0,641.4 265.5,641.8 266.0,642.2 266.5,642.6 267.0,643.0 267.5,643.4 268.0,643.7 268.5,644.1 269.0,644.5 269.5,644.9 270.0,645.2 270.5,645.6 271.0,646.0 271.5,646.4 272.0,646.7 272.5,647.1 273.0,647.5 273.5,647.8 274.0,648.2 274.5,648.6 275.0,648.9 275.5,649.3 276.0,649.6 276.5,650.0 277.0,650.4 277.5,650.7 278.0,651.1 278.5,651.4 279.0,651.8 279.5,652.1 280.0,652.5 280.5,652.8 281.0,653.2 281.5,653.5 282.0,653.9 282.5,654.2 283.0,654.5 283.5,654.9 284.0,655.2 284.5,655.6 285.0,655.9 285.5,656.2 286.0,656.6 286.5,656.9 287.0,657.2 287.5,657.6 288.0,657.9 288.5,658.2 289.0,658.6 289.5,658.9 290.0,659.2 290.5,659.6 291.0,659.9 291.5,660.2 292.0,660.5 292.5,660.8 293.0,661.2 293.5,661.5 294.0,661.8 294.5,662.1 295.0,662.4 295.5,662.8 296.0,663.1 296.5,663.4 297.0,663.7 297.5,664.0 298.0,664.3 298.5,664.6 299.0,664.9 299.5,665.2 300.0,665.6 300.5,665.9 301.0,666.2 301.5,666.5 302.0,666.8 302.5,667.1 303.0,667.4 303.5,667.7 304.0,668.0 304.5,668.3 305.0,668.6 305.5,668.9 306.0,669.2 306.5,669.5 307.0,669.7 307.5,670.0 308.0,670.3 308.5,670.6 309.0,670.9 309.5,671.2 310.0,671.5 310.5,671.8 311.0,672.1 311.5,672.3 312.0,672.6 312.5,672.9 313.0,673.2 313.5,673.5 314.0,673.8 314.5,674.0 315.0,674.3 315.5,674.6 316.0,674.9 316.5,675.2 317.0,675.4 317.5,675.7 318.0,676.0 318.5,676.2 319.0,676.5 319.5,676.8 320.0,677.1 320.5,677.3 321.0,677.6 321.5,677.9 322.0,678.1 322.5,678.4 323.0,678.7 323.5,678.9 324.0,679.2 324.5,679.5 325.0,679.7 325.5,680.0 326.0,680.2 326.5,680.5 327.0,680.8 327.5,681.0 328.0,681.3 328.5,681.5 329.0,681.8 329.5,682.0 330.0,682.3 330.5,682.5 331.0,682.8 331.5,683.0 332.0,683.3 332.5,683.5 333.0,683.8 333.5,684.0 334.0,684.3 334.5,684.5 335.0,684.7 335.5,685.0 336.0,685.2 336.5,685.5 337.0,685.7 337.5,686.0 338.0,686.2 338.5,686.4 339.0,686.7 339.5,686.9 340.0,687.1 340.5,687.4 341.0,687.6 341.5,687.9 342.0,688.1 342.5,688.3 343.0,688.6 343.5,688.8 344.0,689.0 344.5,689.3 345.0,689.5 345.5,689.7 346.0,690.0 346.5,690.2 347.0,690.4 347.5,690.6 348.0,690.9 348.5,691.1 349.0,691.3 349.5,691.6 350.0,691.8 350.5,692.0 351.0,692.2 351.5,692.5 352.0,692.7 352.5,692.9 353.0,693.1 353.5,693.4 354.0,693.6 354.5,693.8 355.0,694.1 355.5,694.3 356.0,694.5 356.5,694.7 357.0,695.0 357.5,695.2 358.0,695.4 358.5,695.6 359.0,695.9 359.5,696.1 360.0,696.3 360.5,696.5 361.0,696.7 361.5,697.0 362.0,697.2 362.5,697.4 363.0,697.6 363.5,697.9 364.0,698.1 364.5,698.3 365.0,698.5 365.5,698.7 366.0,699.0 366.5,699.2 367.0,699.4 367.5,699.6 368.0,699.8 368.5,700.1 369.0,700.3 369.5,700.5 370.0,700.7 370.5,700.9 371.0,701.1 371.5,701.4 372.0,701.6 372.5,701.8 373.0,702.0 373.5,702.2 374.0,702.4 374.5,702.6 375.0,702.9 375.5,703.1 376.0,703.3 376.5,703.5 377.0,703.7 377.5,703.9 378.0,704.1 378.5,704.3 379.0,704.6 379.5,704.8 380.0,705.0 380.5,705.2 381.0,705.4 381.5,705.6 382.0,705.8 382.5,706.0 383.0,706.2 383.5,706.4 384.0,706.7 384.5,706.9 385.0,707.1 385.5,707.3 386.0,707.5 386.5,707.7 387.0,707.9 387.5,708.1 388.0,708.3 388.5,708.5 389.0,708.7 389.5,708.9 390.0,709.1 390.5,709.3 391.0,709.5 391.5,709.8 392.0,710.0 392.5,710.2 393.0,710.4 393.5,710.6 394.0,710.8 394.5,711.0 395.0,711.2 395.5,711.4 396.0,711.6 396.5,711.8 397.0,712.0 397.5,712.2 398.0,712.4 398.5,712.6 399.0,712.8 399.5,713.0 400.0,713.2 400.5,713.4 401.0,713.6 401.5,713.8 402.0,714.0 402.5,714.2 403.0,714.4 403.5,714.7 404.0,714.9 404.5,715.1 405.0,715.3 405.5,715.5 406.0,715.7 406.5,715.9 407.0,716.1 407.5,716.3 408.0,716.5 408.5,716.7 409.0,716.9 409.5,717.1 410.0,717.3 410.5,717.5 411.0,717.7 411.5,718.0 412.0,718.2 412.5,718.4 413.0,718.6 413.5,718.8 414.0,719.0 414.5,719.2 415.0,719.4 415.5,719.6 416.0,719.8 416.5,720.0 417.0,720.2 417.5,720.4 418.0,720.6 418.5,720.8 419.0,721.0 419.5,721.2 420.0,721.4 420.5,721.6 421.0,721.8 421.5,722.0 422.0,722.2 422.5,722.4 423.0,722.6 423.5,722.8 424.0,723.0 424.5,723.2 425.0,723.4 425.5,723.5 426.0,723.7 426.5,723.9 427.0,724.1 427.5,724.3 428.0,724.5 428.5,724.7 429.0,724.9 429.5,725.1 430.0,725.2 430.5,725.4 431.0,725.6 431.5,725.8 432.0,726.0 432.5,726.1 433.0,726.3 433.5,726.5 434.0,726.7 434.5,726.9 435.0,727.0 435.5,727.2 436.0,727.4 436.5,727.5 437.0,727.7 437.5,727.9 438.0,728.0 438.5,728.2 439.0,728.4 439.5,728.5 440.0,728.7 440.5,728.9 441.0,729.0 441.5,729.2 442.0,729.3 442.5,729.5 443.0,729.7 443.5,729.8 444.0,730.0 444.5,730.1 445.0,730.3 445.5,730.4 446.0,730.6 446.5,730.7 447.0,730.9 447.5,731.0 448.0,731.2 448.5,731.3 449.0,731.5 449.5,731.6 450.0,731.8 450.5,731.9 451.0,732.1 451.5,732.2 452.0,732.4 452.5,732.5 453.0,732.7 453.5,732.8 454.0,733.0 454.5,733.1 455.0,733.3 455.5,733.4 456.0,733.5 456.5,733.7 457.0,733.8 457.5,734.0 458.0,734.1 458.5,734.2 459.0,734.4 459.5,734.5 460.0,734.7 460.5,734.8 461.0,734.9 461.5,735.1 462.0,735.2 462.3,735.3 462.5,735.4 463.0,735.5 463.5,735.6 464.0,735.8 464.5,735.9 465.0,736.0 465.5,736.2 466.0,736.3 466.5,736.4 467.0,736.6 467.5,736.7 468.0,736.8 468.5,737.0 469.0,737.1 469.5,737.2 470.0,737.4 470.5,737.5 471.0,737.6 471.5,737.8 472.0,737.9 472.5,738.0 473.0,738.2 473.5,738.3 474.0,738.4 474.5,738.5 475.0,738.7 475.5,738.8 476.0,738.9 476.5,739.1 477.0,739.2 477.5,739.3 477.8,739.4 478.0,739.4 478.5,739.6 479.0,739.7 479.5,739.8 480.0,739.9 480.5,740.1 481.0,740.2 481.5,740.3 482.0,740.4 482.5,740.6 483.0,740.7 483.5,740.8 484.0,741.0 484.5,741.1 485.0,741.2 485.5,741.3 486.0,741.4 486.5,741.6 487.0,741.7 487.5,741.8 488.0,741.9 488.5,742.1 489.0,742.2 489.5,742.3 490.0,742.4 490.5,742.6 491.0,742.7 491.5,742.8 492.0,742.9 492.5,743.1 493.0,743.2 493.5,743.3 494.0,743.4 494.5,743.5 495.0,743.7 495.5,743.8 496.0,743.9 496.5,744.0 497.0,744.2 497.5,744.3 498.0,744.4 498.5,744.5 499.0,744.7 499.5,744.8 500.0,744.9 500.5,745.0 501.0,745.1 501.5,745.3 502.0,745.4 502.5,745.5 503.0,745.6 503.5,745.8 504.0,745.9 504.5,746.0 505.0,746.1 505.5,746.2 506.0,746.4 506.5,746.5 507.0,746.6 507.5,746.7 508.0,746.9 508.5,747.0 509.0,747.1 509.5,747.2 510.0,747.4 510.5,747.5 511.0,747.6 511.5,747.7 512.0,747.9 512.5,748.0 513.0,748.1 513.5,748.2 514.0,748.4 514.5,748.5 515.0,748.6 515.5,748.7 516.0,748.9 516.5,749.0 517.0,749.1 517.3,749.2 517.5,749.2 518.0,749.4 518.5,749.5 519.0,749.6 519.5,749.7 520.0,749.9 520.5,750.0 521.0,750.1 521.5,750.3 522.0,750.4 522.5,750.5 523.0,750.6 523.5,750.8 524.0,750.9 524.5,751.0 525.0,751.2 525.5,751.3 525.9,751.4 526.0,751.4 526.5,751.6 527.0,751.7 527.5,751.8 528.0,752.0 528.5,752.1 529.0,752.2 529.5,752.3 530.0,752.5 530.5,752.6 531.0,752.7 531.5,752.9 532.0,753.0 532.5,753.1 533.0,753.3 533.5,753.4 534.0,753.6 534.5,753.7 535.0,753.8 535.5,754.0 536.0,754.1 536.5,754.2 537.0,754.4 537.5,754.5 538.0,754.6 538.5,754.8 539.0,754.9 539.5,755.0 540.0,755.2 540.5,755.3 541.0,755.5 541.5,755.6 542.0,755.7 542.5,755.9 543.0,756.0 543.5,756.1 544.0,756.3 544.5,756.4 545.0,756.5 545.5,756.7 546.0,756.8 546.5,757.0 547.0,757.1 547.5,757.2 548.0,757.4 548.5,757.5 549.0,757.6 549.5,757.8 550.0,757.9 550.5,758.1 551.0,758.2 551.5,758.3 552.0,758.5 552.5,758.6 553.0,758.7 553.5,758.9 554.0,759.0 554.5,759.2 555.0,759.3 555.5,759.4 556.0,759.6 556.5,759.7 557.0,759.9 557.5,760.0 558.0,760.1 558.5,760.3 559.0,760.4 559.5,760.5 560.0,760.7 560.5,760.8 561.0,761.0 561.5,761.1 562.0,761.2 562.5,761.4 563.0,761.5 563.5,761.6 564.0,761.8 564.5,761.9 565.0,762.0 565.5,762.2 566.0,762.3 566.5,762.5 567.0,762.6 567.5,762.7 568.0,762.9 568.5,763.0 569.0,763.1 569.5,763.3 570.0,763.4 570.5,763.5 571.0,763.7 571.5,763.8 572.0,763.9 572.5,764.1 573.0,764.2 573.5,764.4 574.0,764.5 574.5,764.6 575.0,764.8 575.5,764.9 576.0,765.0 576.5,765.2 577.0,765.3 577.5,765.4 578.0,765.5 578.5,765.7 579.0,765.8 579.5,765.9 580.0,766.1 580.5,766.2 581.0,766.3 581.5,766.5 582.0,766.6 582.5,766.7 583.0,766.9 583.5,767.0 584.0,767.1 584.5,767.2 585.0,767.4 585.5,767.5 586.0,767.6 586.5,767.8 587.0,767.9 587.5,768.0 588.0,768.1 588.5,768.3 589.0,768.4 589.5,768.5 590.0,768.6 590.5,768.8 591.0,768.9 591.5,769.0 592.0,769.1 592.5,769.3 593.0,769.4 593.5,769.5 594.0,769.6 594.5,769.8 595.0,769.9 595.5,770.0 596.0,770.1 596.5,770.2 597.0,770.4 597.5,770.5 598.0,770.6 598.5,770.7 599.0,770.8 599.5,770.9 600.0,771.1 600.5,771.2 601.0,771.3 601.5,771.4 602.0,771.5 602.5,771.6 603.0,771.8 603.5,771.9 604.0,772.0 604.5,772.1 605.0,772.2 605.5,772.3 606.0,772.4 606.5,772.6 607.0,772.7 607.5,772.8 608.0,772.9 608.5,773.0 609.0,773.1 609.5,773.2 610.0,773.3 610.5,773.4 611.0,773.5 611.5,773.6 612.0,773.7 612.5,773.8 613.0,774.0 613.5,774.1 614.0,774.2 614.5,774.3 615.0,774.4 615.5,774.5 616.0,774.6 616.5,774.7 617.0,774.8 617.5,774.9 618.0,775.0 618.5,775.1 619.0,775.2 619.5,775.3 620.0,775.4 620.5,775.5 621.0,775.6 621.5,775.7 622.0,775.7 622.5,775.8 623.0,775.9 623.5,776.0 624.0,776.1 624.5,776.2 625.0,776.3 625.5,776.4 626.0,776.5 626.5,776.6 627.0,776.7 627.5,776.8 628.0,776.9 628.5,777.0 629.0,777.1 629.5,777.1 630.0,777.2 630.5,777.3 631.0,777.4 631.5,777.5 632.0,777.6 632.5,777.7 633.0,777.8 633.5,777.9 634.0,778.0 634.5,778.0 635.0,778.1 635.5,778.2 636.0,778.3 636.5,778.4 637.0,778.5 637.5,778.6 638.0,778.7 638.5,778.7 639.0,778.8 639.5,778.9 640.0,779.0 640.5,779.1 641.0,779.2 641.5,779.3 642.0,779.4 642.5,779.4 643.0,779.5 643.5,779.6 644.0,779.7 644.5,779.8 645.0,779.9 645.5,780.0 646.0,780.0 646.5,780.1 647.0,780.2 647.5,780.3 648.0,780.4 648.4,780.5 648.5,780.5 649.0,780.6 649.5,780.7 650.0,780.7 650.5,780.8 651.0,780.9 651.5,781.0 652.0,781.1 652.5,781.2 653.0,781.3 653.5,781.4 654.0,781.4 654.5,781.5 655.0,781.6 655.5,781.7 656.0,781.8 656.5,781.9 657.0,782.0 657.5,782.1 658.0,782.1 658.5,782.2 659.0,782.3 659.5,782.4 660.0,782.5 660.5,782.6 661.0,782.7 661.5,782.8 662.0,782.9 662.5,783.0 663.0,783.0 663.5,783.1 664.0,783.2 664.5,783.3 665.0,783.4 665.5,783.5 666.0,783.6 666.5,783.7 667.0,783.8 667.5,783.9 668.0,784.0 668.5,784.1 669.0,784.2 669.5,784.3 670.0,784.4 670.5,784.4 671.0,784.5 671.5,784.6 672.0,784.7 672.5,784.8 673.0,784.9 673.5,785.0 674.0,785.1 674.5,785.2 675.0,785.3 675.5,785.4 676.0,785.5 676.5,785.6 677.0,785.6 677.5,785.7 678.0,785.8 678.5,785.9 679.0,786.0 679.5,786.1 680.0,786.2 680.5,786.3 681.0,786.4 681.5,786.4 682.0,786.5 682.5,786.6 683.0,786.7 683.5,786.8 684.0,786.9 684.5,787.0 685.0,787.0 685.5,787.1 686.0,787.2 686.5,787.3 687.0,787.4 687.5,787.4 688.0,787.5 688.5,787.6 689.0,787.7 689.5,787.7 690.0,787.8 690.5,787.9 691.0,787.9 691.5,788.0 692.0,788.1 692.5,788.2 693.0,788.2 693.5,788.3 694.0,788.4 694.5,788.4 695.0,788.5 695.5,788.6 696.0,788.6 696.5,788.7 697.0,788.8 697.5,788.9 698.0,788.9 698.5,789.0 699.0,789.1 699.5,789.1 700.0,789.2 700.5,789.3 701.0,789.3 701.5,789.4 702.0,789.5 702.5,789.5 703.0,789.6 703.5,789.7 704.0,789.7 704.5,789.8 705.0,789.9 705.5,789.9 706.0,790.0 706.5,790.1 707.0,790.1 707.5,790.2 708.0,790.3 708.5,790.3 709.0,790.4 709.5,790.5 710.0,790.5 710.5,790.6 711.0,790.7 711.5,790.7 712.0,790.8 712.5,790.9 713.0,790.9 713.5,791.0 714.0,791.1 714.5,791.1 715.0,791.2 715.5,791.3 716.0,791.3 716.5,791.4 717.0,791.5 717.5,791.5 718.0,791.6 718.5,791.6 719.0,791.7 719.5,791.8 720.0,791.8 720.5,791.9 721.0,792.0 721.5,792.0 722.0,792.1 722.5,792.1 723.0,792.2 723.5,792.3 724.0,792.3 724.5,792.4 725.0,792.5 725.5,792.5 726.0,792.6 726.5,792.6 727.0,792.7 727.5,792.8 728.0,792.8 728.5,792.9 729.0,792.9 729.5,793.0 730.0,793.1 730.5,793.1 731.0,793.2 731.5,793.2 732.0,793.3 732.5,793.4 733.0,793.4 733.5,793.5 734.0,793.5 734.5,793.6 735.0,793.7 735.5,793.7 736.0,793.8 736.5,793.8 737.0,793.9 737.5,794.0 738.0,794.0 738.5,794.1 739.0,794.1 739.5,794.2 740.0,794.3 740.5,794.3 740.8,794.3 741.0,794.4 741.5,794.4 742.0,794.5 742.5,794.5 743.0,794.6 743.5,794.7 744.0,794.7 744.5,794.8 745.0,794.8 745.5,794.9 746.0,794.9 746.5,795.0 747.0,795.1 747.5,795.1 748.0,795.2 748.5,795.2 749.0,795.3 749.5,795.3 750.0,795.4 750.5,795.5 751.0,795.5 751.5,795.6 752.0,795.6 752.5,795.7 753.0,795.7 753.5,795.8 754.0,795.8 754.5,795.9 755.0,796.0 755.5,796.0 756.0,796.1 756.5,796.1 757.0,796.2 757.5,796.2 758.0,796.3 758.5,796.3 759.0,796.4 759.5,796.4 760.0,796.5 760.5,796.6 761.0,796.6 761.5,796.7 762.0,796.7 762.5,796.8 763.0,796.8 763.5,796.9 764.0,796.9 764.5,797.0 765.0,797.0 765.5,797.1 766.0,797.1 766.5,797.2 767.0,797.3 767.5,797.3 767.9,797.3 768.0,797.4 768.5,797.4 769.0,797.5 769.5,797.5 770.0,797.6 770.5,797.6 771.0,797.7 771.5,797.7 772.0,797.8 772.5,797.8 773.0,797.9 773.5,797.9 774.0,798.0 774.5,798.0 775.0,798.1 775.5,798.1 776.0,798.2 776.5,798.3 777.0,798.3 777.5,798.4 778.0,798.4 778.5,798.5 779.0,798.5 779.5,798.6 780.0,798.6 780.5,798.7 781.0,798.7 781.5,798.8 782.0,798.8 782.5,798.9 783.0,798.9 783.5,799.0 784.0,799.0 784.5,799.1 785.0,799.1 785.5,799.2 786.0,799.2 786.5,799.3 787.0,799.3 787.5,799.4 788.0,799.4 788.5,799.5 789.0,799.5 789.1,799.5 789.5,799.6 790.0,799.6 790.5,799.7 791.0,799.7 791.5,799.8 792.0,799.8 792.5,799.9 793.0,799.9 793.5,800.0 794.0,800.0 794.5,800.1 795.0,800.1 795.5,800.2 796.0,800.2 796.5,800.3 797.0,800.3 797.5,800.4 798.0,800.4 798.5,800.5 799.0,800.5 799.5,800.6 800.0,800.6 800.5,800.7 801.0,800.7 801.5,800.8 802.0,800.8 802.5,800.9 803.0,800.9 803.5,801.0 804.0,801.0 804.5,801.1 805.0,801.1 805.5,801.2 806.0,801.2 806.5,801.3 807.0,801.3 807.5,801.4 808.0,801.4 808.5,801.5 809.0,801.5 809.5,801.6 810.0,801.6 810.5,801.7 811.0,801.7 811.5,801.8 812.0,801.8 812.5,801.9 813.0,801.9 813.5,802.0 814.0,802.0 814.5,802.1 814.8,802.1 815.0,802.1 815.5,802.2 816.0,802.2 816.5,802.3 817.0,802.3 817.5,802.3 818.0,802.4 818.5,802.4 819.0,802.5 819.5,802.5 820.0,802.6 820.5,802.6 821.0,802.7 821.5,802.7 822.0,802.8 822.5,802.8 823.0,802.9 823.5,802.9 824.0,803.0 824.5,803.0 825.0,803.1 825.5,803.1 826.0,803.2 826.5,803.2 827.0,803.3 827.5,803.3 828.0,803.4 828.5,803.4 829.0,803.5 829.5,803.5 830.0,803.6 830.5,803.6 831.0,803.7 831.5,803.7 832.0,803.8 832.5,803.8 833.0,803.9 833.5,803.9 834.0,803.9 834.5,804.0 835.0,804.0 835.5,804.1 836.0,804.1 836.5,804.2 837.0,804.2 837.5,804.3 837.8,804.3 838.0,804.3 838.5,804.4 839.0,804.4 839.5,804.5 840.0,804.5 840.5,804.6 841.0,804.6 841.5,804.7 842.0,804.7 842.5,804.8 843.0,804.8 843.5,804.9 844.0,804.9 844.5,805.0 845.0,805.0 845.5,805.1 846.0,805.1 846.5,805.2 847.0,805.2 847.5,805.3 848.0,805.3 848.5,805.4 849.0,805.4 849.5,805.5 850.0,805.5 850.5,805.5 851.0,805.6 851.5,805.6 852.0,805.7 852.5,805.7 853.0,805.8 853.5,805.8 854.0,805.9 854.5,805.9 855.0,806.0 855.5,806.0 856.0,806.1 856.5,806.1 857.0,806.2 857.5,806.2 858.0,806.3 858.5,806.3 859.0,806.4 859.5,806.4 860.0,806.5 860.5,806.5 861.0,806.6 861.5,806.6 862.0,806.7 862.5,806.7 863.0,806.8 863.5,806.8 864.0,806.9 864.5,806.9 865.0,807.0 865.5,807.0 866.0,807.1 866.1,807.1 866.5,807.1 867.0,807.2 867.5,807.2 868.0,807.3 868.5,807.3 869.0,807.4 869.5,807.4 870.0,807.5 870.5,807.5 871.0,807.6 871.5,807.6 872.0,807.7 872.5,807.7 873.0,807.8 873.5,807.8 874.0,807.9 874.5,807.9 875.0,808.0 875.5,808.0 876.0,808.1 876.5,808.1 877.0,808.1 877.5,808.2 878.0,808.2 878.5,808.3 879.0,808.3 879.5,808.4 880.0,808.4 880.5,808.5 881.0,808.5 881.5,808.6 882.0,808.6 882.5,808.6 883.0,808.7 883.5,808.7 883.9,808.8 884.0,808.8 884.5,808.8 885.0,808.9 885.5,808.9 886.0,808.9 886.5,809.0 887.0,809.0 887.5,809.1 888.0,809.1 888.5,809.2 889.0,809.2 889.5,809.2 890.0,809.3 890.5,809.3 891.0,809.4 891.5,809.4 892.0,809.4 892.5,809.5 893.0,809.5 893.5,809.5 894.0,809.6 894.5,809.6 895.0,809.7 895.5,809.7 895.9,809.7 896.0,809.7 896.5,809.8 897.0,809.8 897.5,809.8 898.0,809.9 898.5,809.9 899.0,809.9 899.5,810.0 900.0,810.0 900.5,810.0 901.0,810.1 901.5,810.1 902.0,810.1 902.5,810.2 903.0,810.2 903.5,810.2 904.0,810.2 904.5,810.3 905.0,810.3 905.5,810.3 906.0,810.4 906.5,810.4 907.0,810.4 907.5,810.4 908.0,810.5 908.5,810.5 909.0,810.5 909.5,810.6 910.0,810.6 910.5,810.6 911.0,810.6 911.5,810.7 912.0,810.7 912.5,810.7 913.0,810.7 913.5,810.8 914.0,810.8 914.5,810.8 915.0,810.8 915.5,810.9 916.0,810.9 916.5,810.9 917.0,810.9 917.5,811.0 918.0,811.0 918.5,811.0 919.0,811.0 919.5,811.1 920.0,811.1 920.5,811.1 921.0,811.1 921.5,811.2 922.0,811.2 922.5,811.2 923.0,811.2 923.5,811.3 924.0,811.3 924.5,811.3 925.0,811.3 925.5,811.3 926.0,811.4 926.5,811.4 927.0,811.4 927.5,811.4 928.0,811.5 928.5,811.5 929.0,811.5 929.5,811.5 930.0,811.5 930.5,811.6 931.0,811.6 931.5,811.6 932.0,811.6 932.5,811.7 933.0,811.7 933.5,811.7 934.0,811.7 934.5,811.8 935.0,811.8 935.5,811.8 936.0,811.8 936.5,811.8 937.0,811.9 937.5,811.9 938.0,811.9 938.5,811.9 939.0,812.0 939.5,812.0 940.0,812.0 940.5,812.0 941.0,812.1 941.5,812.1 942.0,812.1 942.5,812.1 943.0,812.1 943.5,812.2 944.0,812.2 944.5,812.2 945.0,812.2 945.5,812.3 946.0,812.3 946.5,812.3 947.0,812.3 947.5,812.4 948.0,812.4 948.5,812.4 949.0,812.4 949.5,812.5 950.0,812.5 950.5,812.5 951.0,812.6 951.5,812.6 952.0,812.6 952.5,812.6 953.0,812.7 953.5,812.7 954.0,812.7 954.5,812.7 955.0,812.8 955.5,812.8 956.0,812.8 956.5,812.9 957.0,812.9 957.2,812.9 957.5,812.9 958.0,812.9 958.5,813.0 959.0,813.0 959.5,813.0 960.0,813.1 960.5,813.1 961.0,813.1 961.5,813.1 962.0,813.2 962.5,813.2 963.0,813.2 963.5,813.3 964.0,813.3 964.5,813.3 965.0,813.4 965.5,813.4 966.0,813.4 966.5,813.4 967.0,813.5 967.5,813.5 968.0,813.5 968.5,813.6 969.0,813.6 969.5,813.6 970.0,813.7 970.5,813.7 971.0,813.7 971.5,813.7 972.0,813.8 972.5,813.8 973.0,813.8 973.5,813.9 974.0,813.9 974.5,813.9 975.0,814.0 975.5,814.0 976.0,814.0 976.5,814.1 977.0,814.1 977.5,814.1 978.0,814.2 978.5,814.2 979.0,814.2 979.5,814.3 980.0,814.3 980.5,814.3 981.0,814.3 981.5,814.4 982.0,814.4 982.5,814.4 983.0,814.5 983.5,814.5 984.0,814.5 984.5,814.6 985.0,814.6 985.5,814.6 986.0,814.7 986.5,814.7 987.0,814.7 987.5,814.8 988.0,814.8 988.5,814.8 989.0,814.9 989.5,814.9 990.0,814.9 990.5,815.0 991.0,815.0 991.5,815.0 992.0,815.1 992.5,815.1 993.0,815.1 993.5,815.2 994.0,815.2 994.5,815.2 995.0,815.3 995.5,815.3 996.0,815.3 996.5,815.4 997.0,815.4 997.5,815.4 998.0,815.5 998.5,815.5 999.0,815.5 999.5,815.5 1000.0,815.6 1000.5,815.6 1001.0,815.6 1001.5,815.7 1002.0,815.7 1002.5,815.7 1003.0,815.8 1003.5,815.8 1004.0,815.8 1004.5,815.9 1005.0,815.9 1005.5,815.9 1006.0,816.0 1006.5,816.0 1007.0,816.0 1007.5,816.1 1008.0,816.1 1008.5,816.1 1009.0,816.2 1009.5,816.2 1010.0,816.2 1010.5,816.3 1011.0,816.3 1011.5,816.3 1012.0,816.3 1012.5,816.4 1013.0,816.4 1013.5,816.4 1014.0,816.5 1014.5,816.5 1015.0,816.5 1015.5,816.6 1016.0,816.6 1016.5,816.6 1017.0,816.7 1017.5,816.7 1018.0,816.7 1018.5,816.7 1019.0,816.8 1019.5,816.8 1020.0,816.8 1020.5,816.9 1021.0,816.9 1021.5,816.9 1022.0,817.0 1022.5,817.0 1023.0,817.0 1023.5,817.0 1024.0,817.1 1024.5,817.1 1025.0,817.1 1025.5,817.2 1026.0,817.2 1026.5,817.2 1027.0,817.2 1027.5,817.3 1028.0,817.3 1028.5,817.3 1029.0,817.4 1029.5,817.4 1030.0,817.4 1030.5,817.4 1031.0,817.5 1031.5,817.5 1032.0,817.5 1032.5,817.6 1033.0,817.6 1033.5,817.6 1034.0,817.6 1034.5,817.7 1035.0,817.7 1035.5,817.7 1036.0,817.7 1036.5,817.8 1036.7,817.8 1037.0,817.8 1037.5,817.8 1038.0,817.8 1038.5,817.9 1039.0,817.9 1039.5,817.9 1040.0,817.9 1040.5,818.0 1041.0,818.0 1041.5,818.0 1042.0,818.0 1042.5,818.1 1043.0,818.1 1043.5,818.1 1044.0,818.1 1044.5,818.2 1045.0,818.2 1045.5,818.2 1046.0,818.2 1046.3,818.2 1046.5,818.3 1047.0,818.3 1047.5,818.3 1048.0,818.3 1048.5,818.3 1049.0,818.4 1049.5,818.4 1050.0,818.4 1050.5,818.4 1051.0,818.5 1051.5,818.5 1052.0,818.5 1052.5,818.5 1053.0,818.5 1053.5,818.6 1054.0,818.6 1054.5,818.6 1055.0,818.6 1055.5,818.6 1056.0,818.7 1056.5,818.7 1057.0,818.7 1057.5,818.7 1058.0,818.7 1058.5,818.7 1059.0,818.8 1059.5,818.8 1060.0,818.8 1060.5,818.8 1061.0,818.8 1061.5,818.9 1062.0,818.9 1062.5,818.9 1063.0,818.9 1063.5,818.9 1064.0,818.9 1064.5,819.0 1065.0,819.0 1065.5,819.0 1066.0,819.0 1066.5,819.0 1067.0,819.0 1067.5,819.1 1068.0,819.1 1068.5,819.1 1069.0,819.1 1069.5,819.1 1070.0,819.1 1070.5,819.2 1071.0,819.2 1071.5,819.2 1072.0,819.2 1072.5,819.2 1073.0,819.2 1073.5,819.2 1074.0,819.3 1074.5,819.3 1075.0,819.3 1075.5,819.3 1076.0,819.3 1076.5,819.3 1077.0,819.4 1077.5,819.4 1078.0,819.4 1078.5,819.4 1079.0,819.4 1079.5,819.4 1080.0,819.5 1080.5,819.5 1081.0,819.5 1081.5,819.5 1082.0,819.5 1082.5,819.5 1083.0,819.5 1083.5,819.6 1084.0,819.6 1084.5,819.6 1085.0,819.6 1085.5,819.6 1086.0,819.6 1086.5,819.6 1087.0,819.7 1087.5,819.7 1088.0,819.7 1088.5,819.7 1089.0,819.7 1089.5,819.7 1090.0,819.7 1090.5,819.8 1091.0,819.8 1091.5,819.8 1092.0,819.8 1092.5,819.8 1093.0,819.8 1093.5,819.8 1094.0,819.9 1094.5,819.9 1095.0,819.9 1095.5,819.9 1096.0,819.9 1096.5,819.9 1097.0,819.9 1097.5,820.0 1098.0,820.0 1098.5,820.0 1099.0,820.0 1099.5,820.0 1100.0,820.0 1100.5,820.0 1101.0,820.1 1101.5,820.1 1101.8,820.1 1102.0,820.1 1102.5,820.1 1103.0,820.1 1103.5,820.1 1104.0,820.1 1104.5,820.2 1105.0,820.2 1105.5,820.2 1106.0,820.2 1106.5,820.2 1107.0,820.2 1107.5,820.2 1108.0,820.2 1108.5,820.3 1109.0,820.3 1109.5,820.3 1110.0,820.3 1110.5,820.3 1111.0,820.3 1111.5,820.3 1112.0,820.3 1112.2,820.4 1112.5,820.4 1113.0,820.4 1113.5,820.4 1114.0,820.4 1114.5,820.4 1115.0,820.4 1115.5,820.4 1116.0,820.4 1116.5,820.5 1117.0,820.5 1117.5,820.5 1118.0,820.5 1118.5,820.5 1119.0,820.5 1119.5,820.5 1120.0,820.5 1120.5,820.6 1121.0,820.6 1121.3,820.6 1121.5,820.6 1122.0,820.6 1122.5,820.6 1123.0,820.6 1123.5,820.6 1124.0,820.6 1124.5,820.7 1125.0,820.7 1125.5,820.7 1126.0,820.7 1126.5,820.7 1127.0,820.7 1127.5,820.7 1128.0,820.7 1128.5,820.8 1128.8,820.8 1129.0,820.8 1129.5,820.8 1130.0,820.8 1130.5,820.8 1131.0,820.8 1131.5,820.8 1132.0,820.8 1132.5,820.8 1133.0,820.9 1133.5,820.9 1134.0,820.9 1134.5,820.9 1135.0,820.9 1135.5,820.9 1136.0,820.9 1136.5,820.9 1137.0,820.9 1137.4,821.0 1137.5,821.0 1138.0,821.0 1138.5,821.0 1139.0,821.0 1139.5,821.0 1140.0,821.0 1140.5,821.0 1141.0,821.0 1141.5,821.0 1142.0,821.1 1142.5,821.1 1143.0,821.1 1143.5,821.1 1144.0,821.1 1144.5,821.1 1145.0,821.1 1145.5,821.1 1146.0,821.1 1146.5,821.2 1147.0,821.2 1147.5,821.2 1148.0,821.2 1148.5,821.2 1149.0,821.2 1149.4,821.2 1149.5,821.2 1150.0,821.2 1150.5,821.2 1151.0,821.3 1151.5,821.3 1152.0,821.3 1152.5,821.3 1153.0,821.3 1153.5,821.3 1154.0,821.3 1154.5,821.3 1155.0,821.3 1155.5,821.3 1156.0,821.4 1156.5,821.4 1157.0,821.4 1157.5,821.4 1158.0,821.4 1158.5,821.4 1159.0,821.4 1159.5,821.4 1160.0,821.4 1160.5,821.5 1161.0,821.5 1161.5,821.5 1162.0,821.5 1162.5,821.5 1163.0,821.5 1163.5,821.5 1164.0,821.5 1164.5,821.5 1165.0,821.5 1165.5,821.6 1166.0,821.6 1166.5,821.6 1167.0,821.6 1167.5,821.6 1168.0,821.6 1168.5,821.6 1169.0,821.6 1169.5,821.6 1170.0,821.6 1170.5,821.7 1171.0,821.7 1171.5,821.7 1172.0,821.7 1172.5,821.7 1173.0,821.7 1173.5,821.7 1174.0,821.7 1174.5,821.7 1175.0,821.7 1175.5,821.8 1176.0,821.8 1176.5,821.8 1177.0,821.8 1177.5,821.8 1178.0,821.8 1178.5,821.8 1179.0,821.8 1179.5,821.8 1180.0,821.8 1180.5,821.8 1181.0,821.9 1181.5,821.9 1182.0,821.9 1182.5,821.9 1183.0,821.9 1183.5,821.9 1184.0,821.9 1184.5,821.9 1185.0,821.9 1185.5,821.9 1186.0,822.0 1186.5,822.0 1187.0,822.0 1187.5,822.0 1188.0,822.0 1188.5,822.0 1189.0,822.0 1189.5,822.0 1190.0,822.0 1190.5,822.0 1191.0,822.0 1191.5,822.1 1192.0,822.1 1192.5,822.1 1193.0,822.1 1193.5,822.1 1194.0,822.1 1194.5,822.1 1195.0,822.1 1195.5,822.1 1196.0,822.1 1196.5,822.2 1197.0,822.2 1197.5,822.2 1198.0,822.2 1198.5,822.2 1199.0,822.2 1199.5,822.2 1200.0,822.2 1200.5,822.2 1201.0,822.2 1201.5,822.2 1202.0,822.3 1202.5,822.3 1203.0,822.3 1203.5,822.3 1204.0,822.3 1204.5,822.3 1205.0,822.3 1205.5,822.3 1206.0,822.3 1206.5,822.3 1207.0,822.4 1207.5,822.4 1208.0,822.4 1208.5,822.4 1209.0,822.4 1209.5,822.4 1210.0,822.4 1210.5,822.4 1211.0,822.4 1211.5,822.4 1212.0,822.4 1212.5,822.5 1213.0,822.5 1213.5,822.5 1214.0,822.5 1214.5,822.5 1215.0,822.5 1215.5,822.5 1216.0,822.5 1216.5,822.5 1217.0,822.5 1217.5,822.5 1218.0,822.6 1218.5,822.6 1219.0,822.6 1219.5,822.6 1220.0,822.6 1220.5,822.6 1221.0,822.6 1221.5,822.6 1222.0,822.6 1222.5,822.6 1223.0,822.6 1223.5,822.7 1224.0,822.7 1224.5,822.7 1225.0,822.7 1225.5,822.7 1226.0,822.7 1226.5,822.7 1227.0,822.7 1227.5,822.7 1228.0,822.7 1228.5,822.7 1229.0,822.8 1229.5,822.8 1230.0,822.8 1230.5,822.8 1231.0,822.8 1231.5,822.8 1232.0,822.8 1232.5,822.8 1233.0,822.8 1233.5,822.8 1234.0,822.8 1234.5,822.8 1235.0,822.9 1235.5,822.9 1236.0,822.9 1236.5,822.9 1237.0,822.9 1237.5,822.9 1238.0,822.9 1238.5,822.9 1239.0,822.9 1239.5,822.9 1240.0,822.9 1240.5,823.0 1241.0,823.0 1241.5,823.0 1242.0,823.0 1242.5,823.0 1243.0,823.0 1243.5,823.0 1244.0,823.0 1244.5,823.0 1245.0,823.0 1245.5,823.0 1246.0,823.0 1246.5,823.0 1247.0,823.1 1247.5,823.1 1248.0,823.1 1248.5,823.1 1249.0,823.1 1249.5,823.1 1250.0,823.1 1250.5,823.1 1251.0,823.1 1251.5,823.1 1252.0,823.1 1252.5,823.1 1253.0,823.2 1253.5,823.2 1254.0,823.2 1254.5,823.2 1255.0,823.2 1255.5,823.2 1256.0,823.2 1256.5,823.2 1257.0,823.2 1257.5,823.2 1258.0,823.2 1258.5,823.2 1259.0,823.3 1259.5,823.3 1260.0,823.3 1260.5,823.3 1261.0,823.3 1261.5,823.3 1262.0,823.3 1262.5,823.3 1263.0,823.3 1263.5,823.3 1264.0,823.3 1264.5,823.3 1265.0,823.3 1265.5,823.4 1266.0,823.4 1266.5,823.4 1267.0,823.4 1267.5,823.4 1268.0,823.4 1268.5,823.4 1269.0,823.4 1269.5,823.4 1270.0,823.4 1270.5,823.4 1271.0,823.4 1271.5,823.4 1272.0,823.5 1272.5,823.5 1273.0,823.5 1273.5,823.5 1274.0,823.5 1274.5,823.5 1275.0,823.5 1275.5,823.5 1276.0,823.5 1276.5,823.5 1277.0,823.5 1277.5,823.5 1278.0,823.5 1278.5,823.5 1279.0,823.6 1279.5,823.6 1280.0,823.6 1280.5,823.6 1281.0,823.6 1281.5,823.6 1282.0,823.6 1282.5,823.6 1283.0,823.6 1283.5,823.6 1284.0,823.6 1284.5,823.6 1285.0,823.6 1285.5,823.7 1286.0,823.7 1286.5,823.7 1287.0,823.7 1287.5,823.7 1288.0,823.7 1288.5,823.7 1289.0,823.7 1289.5,823.7 1290.0,823.7 1290.5,823.7 1291.0,823.7 1291.5,823.7 1292.0,823.7 1292.5,823.8 1292.6,823.8 1293.0,823.8 1293.5,823.8 1294.0,823.8 1294.5,823.8 1295.0,823.8 1295.5,823.8 1296.0,823.8 1296.5,823.8 1297.0,823.8 1297.5,823.8 1298.0,823.8 1298.5,823.8 1299.0,823.8 1299.5,823.9 1300.0,823.9 1300.5,823.9 1301.0,823.9 1301.5,823.9 1302.0,823.9 1302.5,823.9 1303.0,823.9 1303.5,823.9 1304.0,823.9 1304.5,823.9 1305.0,823.9 1305.5,823.9 1306.0,823.9 1306.5,824.0 1307.0,824.0 1307.5,824.0 1308.0,824.0 1308.5,824.0 1309.0,824.0 1309.5,824.0 1310.0,824.0 1310.5,824.0 1311.0,824.0 1311.5,824.0 1312.0,824.0 1312.5,824.0 1313.0,824.0 1313.5,824.1 1314.0,824.1 1314.5,824.1 1315.0,824.1 1315.5,824.1 1316.0,824.1 1316.5,824.1 1317.0,824.1 1317.5,824.1 1318.0,824.1 1318.5,824.1 1319.0,824.1 1319.5,824.1 1320.0,824.1 1320.5,824.2 1321.0,824.2 1321.5,824.2 1322.0,824.2 1322.5,824.2 1323.0,824.2 1323.5,824.2 1324.0,824.2 1324.5,824.2 1325.0,824.2 1325.5,824.2 1326.0,824.2 1326.5,824.2 1327.0,824.2 1327.5,824.3 1328.0,824.3 1328.4,824.3 1328.5,824.3 1329.0,824.3 1329.5,824.3 1330.0,824.3 1330.5,824.3 1331.0,824.3 1331.5,824.3 1332.0,824.3 1332.5,824.3 1333.0,824.3 1333.5,824.3 1334.0,824.3 1334.5,824.4 1335.0,824.4 1335.5,824.4 1336.0,824.4 1336.5,824.4 1337.0,824.4 1337.5,824.4 1338.0,824.4 1338.5,824.4 1339.0,824.4 1339.5,824.4 1340.0,824.4 1340.5,824.4 1341.0,824.4 1341.5,824.5 1342.0,824.5 1342.5,824.5 1343.0,824.5 1343.5,824.5 1344.0,824.5 1344.5,824.5 1345.0,824.5 1345.5,824.5 1346.0,824.5 1346.5,824.5 1347.0,824.5 1347.5,824.5 1348.0,824.5 1348.5,824.6 1349.0,824.6 1349.5,824.6 1350.0,824.6 1350.5,824.6 1351.0,824.6 1351.5,824.6 1352.0,824.6 1352.5,824.6 1353.0,824.6 1353.5,824.6 1354.0,824.6 1354.5,824.6 1355.0,824.7 1355.5,824.7 1356.0,824.7 1356.5,824.7 1357.0,824.7 1357.5,824.7 1358.0,824.7 1358.2,824.7 1358.5,824.7 1359.0,824.7 1359.5,824.7 1360.0,824.7 1360.5,824.7 1361.0,824.7 1361.5,824.7 1362.0,824.8 1362.5,824.8 1363.0,824.8 1363.5,824.8 1364.0,824.8 1364.5,824.8 1365.0,824.8 1365.5,824.8 1366.0,824.8 1366.5,824.8 1367.0,824.8 1367.5,824.8 1368.0,824.8 1368.5,824.9 1369.0,824.9 1369.5,824.9 1370.0,824.9 1370.5,824.9 1371.0,824.9 1371.5,824.9 1372.0,824.9 1372.5,824.9 1373.0,824.9 1373.5,824.9 1374.0,824.9 1374.5,824.9 1375.0,824.9 1375.5,825.0 1376.0,825.0 1376.5,825.0 1377.0,825.0 1377.5,825.0 1378.0,825.0 1378.5,825.0 1379.0,825.0 1379.5,825.0 1380.0,825.0 1380.5,825.0 1381.0,825.0 1381.5,825.0 1382.0,825.1 1382.5,825.1 1383.0,825.1 1383.5,825.1 1384.0,825.1 1384.5,825.1 1385.0,825.1 1385.5,825.1 1386.0,825.1 1386.5,825.1 1387.0,825.1 1387.5,825.1 1388.0,825.1 1388.5,825.1 1389.0,825.2 1389.5,825.2 1390.0,825.2 1390.5,825.2 1391.0,825.2 1391.5,825.2 1392.0,825.2 1392.5,825.2 1393.0,825.2 1393.5,825.2 1394.0,825.2 1394.5,825.2 1395.0,825.2 1395.5,825.2 1396.0,825.3 1396.5,825.3 1397.0,825.3 1397.5,825.3 1398.0,825.3 1398.5,825.3 1399.0,825.3 1399.5,825.3 1400.0,825.3 1400.5,825.3 1401.0,825.3 1401.5,825.3 1402.0,825.3 1402.5,825.3 1403.0,825.4 1403.5,825.4 1404.0,825.4 1404.5,825.4 1405.0,825.4 1405.5,825.4 1406.0,825.4 1406.5,825.4 1407.0,825.4 1407.5,825.4 1408.0,825.4 1408.5,825.4 1409.0,825.4 1409.5,825.4 1410.0,825.5 1410.5,825.5 1411.0,825.5 1411.5,825.5 1412.0,825.5 1412.5,825.5 1413.0,825.5 1413.5,825.5 1414.0,825.5 1414.5,825.5 1415.0,825.5 1415.5,825.5 1416.0,825.5 1416.5,825.5 1417.0,825.6 1417.5,825.6 1418.0,825.6 1418.5,825.6 1419.0,825.6 1419.5,825.6 1420.0,825.6 1420.5,825.6 1421.0,825.6 1421.5,825.6 1422.0,825.6 1422.5,825.6 1423.0,825.6 1423.5,825.6 1424.0,825.7 1424.5,825.7 1425.0,825.7 1425.5,825.7 1426.0,825.7 1426.5,825.7 1427.0,825.7 1427.5,825.7 1428.0,825.7 1428.5,825.7 1429.0,825.7 1429.5,825.7 1430.0,825.7 1430.5,825.7 1431.0,825.8 1431.5,825.8 1432.0,825.8 1432.5,825.8 1433.0,825.8 1433.5,825.8 1434.0,825.8 1434.5,825.8 1435.0,825.8 1435.5,825.8 1436.0,825.8 1436.5,825.8 1437.0,825.8 1437.5,825.8 1438.0,825.8 1438.5,825.9 1439.0,825.9 1439.5,825.9 1440.0,825.9 1440.5,825.9 1441.0,825.9 1441.5,825.9 1442.0,825.9 1442.5,825.9 1443.0,825.9 1443.5,825.9 1444.0,825.9 1444.5,825.9 1445.0,825.9 1445.5,826.0 1446.0,826.0 1446.5,826.0 1447.0,826.0 1447.5,826.0 1448.0,826.0 1448.5,826.0 1449.0,826.0 1449.5,826.0 1450.0,826.0 1450.5,826.0 1451.0,826.0 1451.5,826.0 1452.0,826.0 1452.5,826.1 1453.0,826.1 1453.5,826.1 1454.0,826.1 1454.5,826.1 1455.0,826.1 1455.5,826.1 1456.0,826.1 1456.5,826.1 1457.0,826.1 1457.5,826.1 1458.0,826.1 1458.5,826.1 1459.0,826.2 1459.5,826.2 1460.0,826.2 1460.5,826.2 1461.0,826.2 1461.2,826.2 1461.5,826.2 1462.0,826.2 1462.5,826.2 1463.0,826.2 1463.5,826.2 1464.0,826.2 1464.5,826.2 1465.0,826.2 1465.5,826.2 1466.0,826.3 1466.5,826.3 1467.0,826.3 1467.5,826.3 1468.0,826.3 1468.5,826.3 1469.0,826.3 1469.5,826.3 1470.0,826.3 1470.5,826.3 1471.0,826.3 1471.5,826.3 1472.0,826.3 1472.5,826.3 1473.0,826.4 1473.5,826.4 1474.0,826.4 1474.5,826.4 1475.0,826.4 1475.5,826.4 1476.0,826.4 1476.5,826.4 1477.0,826.4 1477.5,826.4 1478.0,826.4 1478.5,826.4 1479.0,826.4 1479.5,826.5 1480.0,826.5 1480.5,826.5 1481.0,826.5 1481.5,826.5 1482.0,826.5 1482.5,826.5 1483.0,826.5 1483.5,826.5 1484.0,826.5 1484.5,826.5 1485.0,826.5 1485.5,826.5 1486.0,826.5 1486.5,826.6 1487.0,826.6 1487.5,826.6 1488.0,826.6 1488.5,826.6 1489.0,826.6 1489.5,826.6 1489.8,826.6 1490.0,826.6 1490.5,826.6 1491.0,826.6 1491.5,826.6 1492.0,826.6 1492.5,826.6 1493.0,826.7 1493.5,826.7 1494.0,826.7 1494.5,826.7 1495.0,826.7 1495.5,826.7 1496.0,826.7 1496.5,826.7 1497.0,826.7 1497.5,826.7 1498.0,826.7 1498.5,826.7 1499.0,826.7 1499.5,826.8 1500.0,826.8 1500.5,826.8 1500.6,826.8 1501.0,826.8 1501.5,826.8 1502.0,826.8 1502.5,826.8 1503.0,826.8 1503.5,826.8 1504.0,826.8 1504.5,826.8 1505.0,826.8 1505.5,826.8 1506.0,826.9 1506.5,826.9 1507.0,826.9 1507.5,826.9 1508.0,826.9 1508.5,826.9 1509.0,826.9 1509.5,826.9 1510.0,826.9 1510.5,826.9 1511.0,826.9 1511.5,826.9 1512.0,827.0 1512.5,827.0 1513.0,827.0 1513.5,827.0 1514.0,827.0 1514.5,827.0 1515.0,827.0 1515.5,827.0 1516.0,827.0 1516.5,827.0 1517.0,827.0 1517.5,827.0 1518.0,827.0 1518.5,827.1 1519.0,827.1 1519.5,827.1 1520.0,827.1 1520.5,827.1 1521.0,827.1 1521.5,827.1 1522.0,827.1 1522.5,827.1 1523.0,827.1 1523.5,827.1 1524.0,827.1 1524.5,827.2 1525.0,827.2 1525.5,827.2 1526.0,827.2 1526.5,827.2 1527.0,827.2 1527.5,827.2 1528.0,827.2 1528.5,827.2 1529.0,827.2 1529.5,827.2 1530.0,827.2 1530.5,827.3 1531.0,827.3 1531.5,827.3 1532.0,827.3 1532.5,827.3 1533.0,827.3 1533.5,827.3 1534.0,827.3 1534.5,827.3 1535.0,827.3 1535.5,827.3 1536.0,827.3 1536.5,827.4 1537.0,827.4 1537.5,827.4 1538.0,827.4 1538.5,827.4 1539.0,827.4 1539.5,827.4 1540.0,827.4 1540.5,827.4 1541.0,827.4 1541.5,827.4 1542.0,827.4 1542.5,827.5 1543.0,827.5 1543.5,827.5 1544.0,827.5 1544.5,827.5 1545.0,827.5 1545.5,827.5 1546.0,827.5 1546.3,827.5 1546.5,827.5 1547.0,827.5 1547.5,827.5 1548.0,827.6 1548.5,827.6 1549.0,827.6 1549.5,827.6 1550.0,827.6 1550.5,827.6 1551.0,827.6 1551.5,827.6 1552.0,827.6 1552.5,827.6 1553.0,827.6 1553.5,827.6 1554.0,827.7 1554.5,827.7 1555.0,827.7 1555.5,827.7 1556.0,827.7 1556.5,827.7 1557.0,827.7 1557.5,827.7 1558.0,827.7 1558.5,827.7 1559.0,827.7 1559.5,827.8 1560.0,827.8 1560.5,827.8 1561.0,827.8 1561.5,827.8 1562.0,827.8 1562.5,827.8 1563.0,827.8 1563.5,827.8 1564.0,827.8 1564.5,827.8 1565.0,827.9 1565.5,827.9 1566.0,827.9 1566.5,827.9 1567.0,827.9 1567.5,827.9 1568.0,827.9 1568.5,827.9 1569.0,827.9 1569.5,827.9 1570.0,827.9 1570.5,827.9 1571.0,828.0 1571.5,828.0 1572.0,828.0 1572.5,828.0 1573.0,828.0 1573.5,828.0 1574.0,828.0 1574.5,828.0 1575.0,828.0 1575.5,828.0 1576.0,828.0 1576.5,828.1 1577.0,828.1 1577.5,828.1 1578.0,828.1 1578.5,828.1 1579.0,828.1 1579.5,828.1 1580.0,828.1 1580.5,828.1 1581.0,828.1 1581.5,828.1 1582.0,828.2 1582.5,828.2 1583.0,828.2 1583.5,828.2 1584.0,828.2 1584.5,828.2 1585.0,828.2 1585.5,828.2 1586.0,828.2 1586.5,828.2 1587.0,828.2 1587.5,828.3 1588.0,828.3 1588.5,828.3 1589.0,828.3 1589.5,828.3 1590.0,828.3 1590.5,828.3 1591.0,828.3 1591.5,828.3 1592.0,828.3 1592.5,828.3 1593.0,828.4 1593.2,828.4 1593.5,828.4 1594.0,828.4 1594.5,828.4 1595.0,828.4 1595.5,828.4 1596.0,828.4 1596.5,828.4 1597.0,828.4 1597.5,828.4 1598.0,828.4 1598.5,828.5 1599.0,828.5 1599.5,828.5 1600.0,828.5 1600.5,828.5 1601.0,828.5 1601.5,828.5 1602.0,828.5 1602.5,828.5 1603.0,828.5 1603.5,828.6 1604.0,828.6 1604.5,828.6 1605.0,828.6 1605.5,828.6 1606.0,828.6 1606.5,828.6 1607.0,828.6 1607.5,828.6 1608.0,828.6 1608.5,828.6 1609.0,828.7 1609.5,828.7 1610.0,828.7 1610.5,828.7 1611.0,828.7 1611.5,828.7 1612.0,828.7 1612.5,828.7 1613.0,828.7 1613.5,828.7 1614.0,828.7 1614.5,828.8 1615.0,828.8 1615.5,828.8 1616.0,828.8 1616.5,828.8 1617.0,828.8 1617.5,828.8 1618.0,828.8 1618.5,828.8 1619.0,828.8 1619.5,828.8 1620.0,828.9 1620.5,828.9 1621.0,828.9 1621.5,828.9 1622.0,828.9 1622.5,828.9 1623.0,828.9 1623.5,828.9 1624.0,828.9 1624.5,828.9 1625.0,829.0 1625.5,829.0 1626.0,829.0 1626.5,829.0 1627.0,829.0 1627.5,829.0 1628.0,829.0 1628.5,829.0 1629.0,829.0 1629.5,829.0 1630.0,829.0 1630.5,829.1 1631.0,829.1 1631.5,829.1 1632.0,829.1 1632.5,829.1 1633.0,829.1 1633.5,829.1 1634.0,829.1 1634.5,829.1 1635.0,829.1 1635.5,829.1 1636.0,829.2 1636.5,829.2 1637.0,829.2 1637.5,829.2 1638.0,829.2 1638.5,829.2 1639.0,829.2 1639.5,829.2 1640.0,829.2 1640.5,829.2 1641.0,829.3 1641.5,829.3 1642.0,829.3 1642.5,829.3 1643.0,829.3 1643.5,829.3 1644.0,829.3 1644.5,829.3 1645.0,829.3 1645.5,829.3 1646.0,829.3 1646.5,829.4 1647.0,829.4 1647.5,829.4 1648.0,829.4 1648.5,829.4 1649.0,829.4 1649.5,829.4 1650.0,829.4 1650.5,829.4 1651.0,829.4 1651.5,829.4 1652.0,829.5 1652.5,829.5 1653.0,829.5 1653.5,829.5 1654.0,829.5 1654.5,829.5 1655.0,829.5 1655.5,829.5 1656.0,829.5 1656.5,829.5 1657.0,829.6 1657.5,829.6 1658.0,829.6 1658.5,829.6 1659.0,829.6 1659.5,829.6 1660.0,829.6 1660.5,829.6 1661.0,829.6 1661.5,829.6 1661.6,829.6 1662.0,829.6 1662.5,829.7 1663.0,829.7 1663.5,829.7 1664.0,829.7 1664.5,829.7 1665.0,829.7 1665.5,829.7 1666.0,829.7 1666.5,829.7 1667.0,829.7 1667.5,829.7 1668.0,829.8 1668.5,829.8 1669.0,829.8 1669.5,829.8 1670.0,829.8 1670.5,829.8 1671.0,829.8 1671.5,829.8 1672.0,829.8 1672.5,829.8 1673.0,829.8 1673.5,829.9 1674.0,829.9 1674.5,829.9 1675.0,829.9 1675.5,829.9 1676.0,829.9 1676.5,829.9 1677.0,829.9 1677.5,829.9 1678.0,829.9 1678.5,830.0 1679.0,830.0 1679.5,830.0 1680.0,830.0 1680.5,830.0 1681.0,830.0 1681.5,830.0 1682.0,830.0 1682.5,830.0 1683.0,830.0 1683.5,830.0 1684.0,830.1 1684.5,830.1 1685.0,830.1 1685.5,830.1 1686.0,830.1 1686.5,830.1 1687.0,830.1 1687.5,830.1 1688.0,830.1 1688.5,830.1 1689.0,830.2 1689.5,830.2 1690.0,830.2 1690.5,830.2 1691.0,830.2 1691.5,830.2 1692.0,830.2 1692.5,830.2 1693.0,830.2 1693.5,830.2 1694.0,830.2 1694.5,830.3 1695.0,830.3 1695.5,830.3 1696.0,830.3 1696.5,830.3 1697.0,830.3 1697.5,830.3 1698.0,830.3 1698.5,830.3 1699.0,830.3 1699.5,830.3 1700.0,830.4 1700.5,830.4 1701.0,830.4 1701.5,830.4 1702.0,830.4 1702.5,830.4 1703.0,830.4 1703.5,830.4 1704.0,830.4 1704.5,830.4 1705.0,830.5 1705.5,830.5 1706.0,830.5 1706.5,830.5 1707.0,830.5 1707.5,830.5 1708.0,830.5 1708.5,830.5 1709.0,830.5 1709.5,830.5 1710.0,830.5 1710.5,830.6 1711.0,830.6 1711.5,830.6 1712.0,830.6 1712.5,830.6 1713.0,830.6 1713.5,830.6 1714.0,830.6 1714.5,830.6 1715.0,830.6 1715.5,830.7 1716.0,830.7 1716.5,830.7 1717.0,830.7 1717.5,830.7 1718.0,830.7 1718.5,830.7 1719.0,830.7 1719.5,830.7 1720.0,830.7 1720.5,830.7 1721.0,830.8 1721.5,830.8 1722.0,830.8 1722.5,830.8 1723.0,830.8 1723.5,830.8 1724.0,830.8 1724.5,830.8 1725.0,830.8 1725.5,830.8 1726.0,830.9 1726.5,830.9 1727.0,830.9 1727.5,830.9 1728.0,830.9 1728.5,830.9 1729.0,830.9 1729.5,830.9 1730.0,830.9 1730.5,830.9 1731.0,830.9 1731.5,831.0 1732.0,831.0 1732.5,831.0 1733.0,831.0 1733.5,831.0 1734.0,831.0 1734.5,831.0 1735.0,831.0 1735.5,831.0 1736.0,831.0 1736.5,831.1 1737.0,831.1 1737.5,831.1 1738.0,831.1 1738.5,831.1 1739.0,831.1 1739.5,831.1 1740.0,831.1 1740.5,831.1 1741.0,831.1 1741.5,831.2 1742.0,831.2 1742.5,831.2 1743.0,831.2 1743.5,831.2 1743.9,831.2 1744.0,831.2 1744.5,831.2 1745.0,831.2 1745.5,831.2 1746.0,831.2 1746.5,831.2 1747.0,831.3 1747.5,831.3 1748.0,831.3 1748.5,831.3 1749.0,831.3 1749.5,831.3 1750.0,831.3 1750.5,831.3 1751.0,831.3 1751.5,831.3 1752.0,831.4 1752.5,831.4 1753.0,831.4 1753.5,831.4 1754.0,831.4 1754.5,831.4 1755.0,831.4 1755.5,831.4 1756.0,831.4 1756.5,831.4 1757.0,831.5 1757.5,831.5 1758.0,831.5 1758.5,831.5 1759.0,831.5 1759.5,831.5 1760.0,831.5 1760.5,831.5 1761.0,831.5 1761.5,831.5 1762.0,831.5 1762.5,831.6 1763.0,831.6 1763.5,831.6 1764.0,831.6 1764.5,831.6 1765.0,831.6 1765.5,831.6 1766.0,831.6 1766.5,831.6 1767.0,831.6 1767.5,831.7 1768.0,831.7 1768.5,831.7 1769.0,831.7 1769.5,831.7 1770.0,831.7 1770.5,831.7 1771.0,831.7 1771.5,831.7 1772.0,831.7 1772.5,831.8 1773.0,831.8 1773.5,831.8 1774.0,831.8 1774.5,831.8 1775.0,831.8 1775.5,831.8 1776.0,831.8 1776.5,831.8 1777.0,831.8 1777.5,831.9 1778.0,831.9 1778.5,831.9 1779.0,831.9 1779.5,831.9 1780.0,831.9 1780.5,831.9 1781.0,831.9 1781.5,831.9 1782.0,831.9 1782.4,831.9 1782.5,831.9 1783.0,832.0 1783.5,832.0 1784.0,832.0 1784.5,832.0 1785.0,832.0 1785.5,832.0 1786.0,832.0 1786.5,832.0 1787.0,832.0 1787.5,832.0 1788.0,832.1 1788.5,832.1 1789.0,832.1 1789.5,832.1 1790.0,832.1 1790.5,832.1 1791.0,832.1 1791.5,832.1 1792.0,832.1 1792.5,832.1 1793.0,832.2 1793.5,832.2 1794.0,832.2 1794.5,832.2 1795.0,832.2 1795.5,832.2 1796.0,832.2 1796.5,832.2 1797.0,832.2 1797.5,832.2 1798.0,832.3 1798.5,832.3 1798.7,832.3 1799.0,832.3 1799.5,832.3 1800.0,832.3 1800.5,832.3 1801.0,832.3 1801.5,832.3 1802.0,832.3 1802.5,832.3 1803.0,832.4 1803.5,832.4 1804.0,832.4 1804.5,832.4 1805.0,832.4 1805.5,832.4 1806.0,832.4 1806.5,832.4 1807.0,832.4 1807.5,832.4 1808.0,832.5 1808.5,832.5 1809.0,832.5 1809.5,832.5 1810.0,832.5 1810.5,832.5 1811.0,832.5 1811.5,832.5 1812.0,832.5 1812.5,832.5 1813.0,832.6 1813.5,832.6 1814.0,832.6 1814.5,832.6 1815.0,832.6 1815.5,832.6 1816.0,832.6 1816.5,832.6 1817.0,832.6 1817.5,832.6 1818.0,832.6 1818.5,832.7 1819.0,832.7 1819.5,832.7 1820.0,832.7 1820.5,832.7 1821.0,832.7 1821.5,832.7 1822.0,832.7 1822.5,832.7 1823.0,832.7 1823.5,832.8 1824.0,832.8 1824.5,832.8 1825.0,832.8 1825.5,832.8 1826.0,832.8 1826.5,832.8 1827.0,832.8 1827.5,832.8 1828.0,832.8 1828.5,832.9 1829.0,832.9 1829.5,832.9 1830.0,832.9 1830.5,832.9 1831.0,832.9 1831.5,832.9 1832.0,832.9 1832.5,832.9 1833.0,832.9 1833.5,833.0 1834.0,833.0 1834.5,833.0 1835.0,833.0 1835.5,833.0 1836.0,833.0 1836.5,833.0 1837.0,833.0 1837.5,833.0 1838.0,833.0 1838.5,833.1 1838.9,833.1 1839.0,833.1 1839.5,833.1 1840.0,833.1 1840.5,833.1 1841.0,833.1 1841.5,833.1 1842.0,833.1 1842.5,833.1 1843.0,833.1 1843.5,833.2 1844.0,833.2 1844.5,833.2 1845.0,833.2 1845.5,833.2 1846.0,833.2 1846.5,833.2 1847.0,833.2 1847.5,833.2 1848.0,833.3 1848.5,833.3 1849.0,833.3 1849.5,833.3 1850.0,833.3 1850.5,833.3 1851.0,833.3 1851.5,833.3 1852.0,833.3 1852.5,833.3 1853.0,833.4 1853.5,833.4 1854.0,833.4 1854.5,833.4 1855.0,833.4 1855.5,833.4 1856.0,833.4 1856.5,833.4 1857.0,833.4 1857.5,833.4 1858.0,833.5 1858.5,833.5 1859.0,833.5 1859.5,833.5 1860.0,833.5 1860.5,833.5 1861.0,833.5 1861.5,833.5 1862.0,833.5 1862.5,833.5 1863.0,833.6 1863.5,833.6 1864.0,833.6 1864.5,833.6 1865.0,833.6 1865.5,833.6 1866.0,833.6 1866.5,833.6 1867.0,833.6 1867.5,833.6 1868.0,833.7 1868.5,833.7 1869.0,833.7 1869.5,833.7 1870.0,833.7 1870.5,833.7 1871.0,833.7 1871.5,833.7 1872.0,833.7 1872.5,833.7 1873.0,833.8 1873.5,833.8 1874.0,833.8 1874.5,833.8 1875.0,833.8 1875.5,833.8 1876.0,833.8 1876.5,833.8 1877.0,833.8 1877.5,833.8"/>
</g>
<rect x="216" y="33" width="1661" height="815" fill="none" stroke="#000" stroke-width="4"/>
<g stroke="#000" stroke-width="2">
<line x1="246.2" y1="848" x2="246.2" y2="857"/>
<line x1="276.4" y1="848" x2="276.4" y2="857"/>
<line x1="306.7" y1="848" x2="306.7" y2="857"/>
<line x1="336.9" y1="848" x2="336.9" y2="857"/>
<line x1="367.1" y1="848" x2="367.1" y2="869"/>
<line x1="397.3" y1="848" x2="397.3" y2="857"/>
<line x1="427.5" y1="848" x2="427.5" y2="857"/>
<line x1="457.8" y1="848" x2="457.8" y2="857"/>
<line x1="488.0" y1="848" x2="488.0" y2="857"/>
<line x1="518.2" y1="848" x2="518.2" y2="857"/>
<line x1="548.4" y1="848" x2="548.4" y2="857"/>
<line x1="578.6" y1="848" x2="578.6" y2="857"/>
<line x1="608.9" y1="848" x2="608.9" y2="857"/>
<line x1="639.1" y1="848" x2="639.1" y2="857"/>
<line x1="669.3" y1="848" x2="669.3" y2="869"/>
<line x1="699.5" y1="848" x2="699.5" y2="857"/>
<line x1="729.7" y1="848" x2="729.7" y2="857"/>
<line x1="760.0" y1="848" x2="760.0" y2="857"/>
<line x1="790.2" y1="848" x2="790.2" y2="857"/>
<line x1="820.4" y1="848" x2="820.4" y2="857"/>
<line x1="850.6" y1="848" x2="850.6" y2="857"/>
<line x1="880.8" y1="848" x2="880.8" y2="857"/>
<line x1="911.1" y1="848" x2="911.1" y2="857"/>
<line x1="941.3" y1="848" x2="941.3" y2="857"/>
<line x1="971.5" y1="848" x2="971.5" y2="869"/>
<line x1="1001.7" y1="848" x2="1001.7" y2="857"/>
<line x1="1031.9" y1="848" x2="1031.9" y2="857"/>
<line x1="1062.2" y1="848" x2="1062.2" y2="857"/>
<line x1="1092.4" y1="848" x2="1092.4" y2="857"/>
<line x1="1122.6" y1="848" x2="1122.6" y2="857"/>
<line x1="1152.8" y1="848" x2="1152.8" y2="857"/>
<line x1="1183.0" y1="848" x2="1183.0" y2="857"/>
<line x1="1213.3" y1="848" x2="1213.3" y2="857"/>
<line x1="1243.5" y1="848" x2="1243.5" y2="857"/>
<line x1="1273.7" y1="848" x2="1273.7" y2="869"/>
<line x1="1303.9" y1="848" x2="1303.9" y2="857"/>
<line x1="1334.1" y1="848" x2="1334.1" y2="857"/>
<line x1="1364.4" y1="848" x2="1364.4" y2="857"/>
<line x1="1394.6" y1="848" x2="1394.6" y2="857"/>
<line x1="1424.8" y1="848" x2="1424.8" y2="857"/>
<line x1="1455.0" y1="848" x2="1455.0" y2="857"/>
<line x1="1485.2" y1="848" x2="1485.2" y2="857"/>
<line x1="1515.5" y1="848" x2="1515.5" y2="857"/>
<line x1="1545.7" y1="848" x2="1545.7" y2="857"/>
<line x1="1575.9" y1="848" x2="1575.9" y2="869"/>
<line x1="1606.1" y1="848" x2="1606.1" y2="857"/>
<line x1="1636.3" y1="848" x2="1636.3" y2="857"/>
<line x1="1666.6" y1="848" x2="1666.6" y2="857"/>
<line x1="1696.8" y1="848" x2="1696.8" y2="857"/>
<line x1="1727.0" y1="848" x2="1727.0" y2="857"/>
<line x1="1757.2" y1="848" x2="1757.2" y2="857"/>
<line x1="1787.4" y1="848" x2="1787.4" y2="857"/>
<line x1="1817.7" y1="848" x2="1817.7" y2="857"/>
<line x1="1847.9" y1="848" x2="1847.9" y2="857"/>
<line x1="197" y1="846.0" x2="216" y2="846.0"/>
<line x1="197" y1="546.0" x2="216" y2="546.0"/>
<line x1="197" y1="246.0" x2="216" y2="246.0"/>
</g>
<rect x="218" y="67" width="33" height="33" fill="#0000ff"/>
<rect x="218" y="101" width="33" height="33" fill="#00ff00"/>
<text x="5.1" y="24" textLength="81" lengthAdjust="spacingAndGlyphs">Counts</text>
<text x="223.6" y="59" textLength="253.6" lengthAdjust="spacingAndGlyphs">Feldspar 1 Macedonia</text>
<text x="253.2" y="94" textLength="207.2" lengthAdjust="spacingAndGlyphs">Microcline 97.0 %</text>
<text x="254" y="127" textLength="138.7" lengthAdjust="spacingAndGlyphs">Albite 3.0 %</text>
<text x="131.9" y="256" textLength="56" lengthAdjust="spacingAndGlyphs">1000</text>
<text x="146.6" y="556" textLength="41.8" lengthAdjust="spacingAndGlyphs">500</text>
<text x="187" y="856" text-anchor="end">0</text>
<text x="367.6" y="895" text-anchor="middle">10</text>
<text x="669.8" y="895" text-anchor="middle">20</text>
<text x="972.0" y="895" text-anchor="middle">30</text>
<text x="1274.2" y="895" text-anchor="middle">40</text>
<text x="1576.4" y="895" text-anchor="middle">50</text>
<text x="933.8" y="942" textLength="320.2" lengthAdjust="spacingAndGlyphs">Position [°2θ] (Copper (Cu))</text>
</svg>
</body></html>
